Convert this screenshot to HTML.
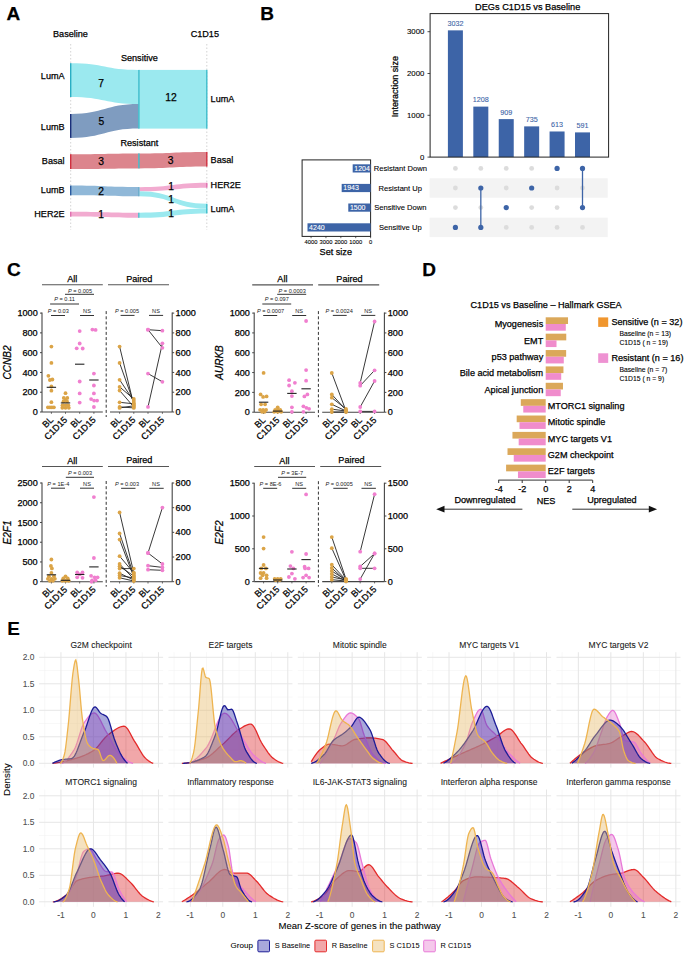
<!DOCTYPE html>
<html><head><meta charset="utf-8"><style>
html,body{margin:0;padding:0;background:#fff;}
svg{display:block;font-family:"Liberation Sans", sans-serif;}
</style></head><body>
<svg width="685" height="957" viewBox="0 0 685 957">
<rect width="685" height="957" fill="#fff"/>
<text x="6.60" y="19.50" font-size="19" text-anchor="start" fill="#000" stroke="#000" stroke-width="0.25" font-weight="bold">A</text>
<text x="70.50" y="36.73" font-size="9.1" text-anchor="middle" fill="#000" stroke="#000" stroke-width="0.25">Baseline</text>
<text x="204.80" y="37.13" font-size="9.1" text-anchor="middle" fill="#000" stroke="#000" stroke-width="0.25">C1D15</text>
<line x1="70.70" y1="44.00" x2="70.70" y2="230.00" stroke="#c8c8c8" stroke-width="0.8" stroke-dasharray="1.5,2"/>
<line x1="206.80" y1="44.00" x2="206.80" y2="230.00" stroke="#c8c8c8" stroke-width="0.8" stroke-dasharray="1.5,2"/>
<text x="139.40" y="61.43" font-size="9.1" text-anchor="middle" fill="#000" stroke="#000" stroke-width="0.25">Sensitive</text>
<text x="139.40" y="146.33" font-size="9.1" text-anchor="middle" fill="#000" stroke="#000" stroke-width="0.25">Resistant</text>
<path d="M70.70,63.20 C104.75,63.20 104.75,69.90 138.80,69.90 L138.80,104.10 C104.75,104.10 104.75,97.00 70.70,97.00 Z" fill="#9be9ef"/>
<path d="M70.70,114.00 C104.75,114.00 104.75,104.10 138.80,104.10 L138.80,128.60 C104.75,128.60 104.75,137.90 70.70,137.90 Z" fill="#7f9cc0"/>
<rect x="138.80" y="69.90" width="68.00" height="58.70" fill="#9be9ef"/>
<rect x="138.20" y="69.90" width="1.40" height="58.70" fill="#3cbccb"/>
<rect x="70.00" y="63.20" width="1.40" height="33.80" fill="#2aaec4"/>
<rect x="70.00" y="114.00" width="1.40" height="23.90" fill="#1a2f7a"/>
<rect x="206.10" y="69.90" width="1.40" height="58.70" fill="#3cbccb"/>
<path d="M70.70,154.20 C104.75,154.20 104.75,153.40 138.80,153.40 L138.80,168.40 C104.75,168.40 104.75,169.00 70.70,169.00 Z" fill="#dc858d"/>
<path d="M138.80,153.40 C172.80,153.40 172.80,151.90 206.80,151.90 L206.80,166.60 C172.80,166.60 172.80,168.40 138.80,168.40 Z" fill="#dc858d"/>
<rect x="138.20" y="153.40" width="1.40" height="15.00" fill="#3cbccb"/>
<rect x="70.00" y="154.20" width="1.40" height="14.80" fill="#d03040"/>
<rect x="206.10" y="151.90" width="1.40" height="14.70" fill="#d03040"/>
<path d="M70.70,185.60 C104.75,185.60 104.75,187.10 138.80,187.10 L138.80,196.30 C104.75,196.30 104.75,195.30 70.70,195.30 Z" fill="#90b8d8"/>
<rect x="70.00" y="185.60" width="1.40" height="9.70" fill="#2a5aa0"/>
<path d="M70.70,211.70 C104.75,211.70 104.75,212.70 138.80,212.70 L138.80,217.80 C104.75,217.80 104.75,216.60 70.70,216.60 Z" fill="#f2abd0"/>
<rect x="70.00" y="211.70" width="1.40" height="4.90" fill="#e070b0"/>
<path d="M139.60,187.20 C173.20,187.20 173.20,182.80 206.80,182.80 L206.80,187.70 C173.20,187.70 173.20,191.30 139.60,191.30 Z" fill="#f2abd0"/>
<path d="M139.60,191.30 C173.20,191.30 173.20,203.80 206.80,203.80 L206.80,208.60 C173.20,208.60 173.20,196.30 139.60,196.30 Z" fill="#9be9ef"/>
<path d="M139.60,212.70 C173.20,212.70 173.20,208.60 206.80,208.60 L206.80,213.40 C173.20,213.40 173.20,217.80 139.60,217.80 Z" fill="#9be9ef"/>
<rect x="138.20" y="187.10" width="1.40" height="9.20" fill="#60a8c8"/>
<rect x="138.20" y="212.70" width="1.40" height="5.10" fill="#3cbccb"/>
<rect x="206.10" y="182.80" width="1.40" height="4.90" fill="#e070b0"/>
<rect x="206.10" y="203.80" width="1.40" height="9.60" fill="#3cbccb"/>
<text x="101.20" y="87.14" font-size="10.3" text-anchor="middle" fill="#000" stroke="#000" stroke-width="0.25">7</text>
<text x="101.40" y="125.14" font-size="10.3" text-anchor="middle" fill="#000" stroke="#000" stroke-width="0.25">5</text>
<text x="170.90" y="100.74" font-size="10.3" text-anchor="middle" fill="#000" stroke="#000" stroke-width="0.25">12</text>
<text x="101.00" y="165.04" font-size="10.3" text-anchor="middle" fill="#000" stroke="#000" stroke-width="0.25">3</text>
<text x="170.50" y="163.74" font-size="10.3" text-anchor="middle" fill="#000" stroke="#000" stroke-width="0.25">3</text>
<text x="101.00" y="194.54" font-size="10.3" text-anchor="middle" fill="#000" stroke="#000" stroke-width="0.25">2</text>
<text x="101.00" y="217.84" font-size="10.3" text-anchor="middle" fill="#000" stroke="#000" stroke-width="0.25">1</text>
<text x="171.00" y="190.44" font-size="10.3" text-anchor="middle" fill="#000" stroke="#000" stroke-width="0.25">1</text>
<text x="171.00" y="203.24" font-size="10.3" text-anchor="middle" fill="#000" stroke="#000" stroke-width="0.25">1</text>
<text x="171.00" y="216.94" font-size="10.3" text-anchor="middle" fill="#000" stroke="#000" stroke-width="0.25">1</text>
<text x="64.60" y="79.33" font-size="9.1" text-anchor="end" fill="#000" stroke="#000" stroke-width="0.25">LumA</text>
<text x="64.60" y="130.33" font-size="9.1" text-anchor="end" fill="#000" stroke="#000" stroke-width="0.25">LumB</text>
<text x="64.60" y="164.43" font-size="9.1" text-anchor="end" fill="#000" stroke="#000" stroke-width="0.25">Basal</text>
<text x="64.60" y="193.13" font-size="9.1" text-anchor="end" fill="#000" stroke="#000" stroke-width="0.25">LumB</text>
<text x="64.60" y="216.93" font-size="9.1" text-anchor="end" fill="#000" stroke="#000" stroke-width="0.25">HER2E</text>
<text x="210.60" y="101.63" font-size="9.1" text-anchor="start" fill="#000" stroke="#000" stroke-width="0.25">LumA</text>
<text x="210.60" y="162.53" font-size="9.1" text-anchor="start" fill="#000" stroke="#000" stroke-width="0.25">Basal</text>
<text x="210.60" y="188.43" font-size="9.1" text-anchor="start" fill="#000" stroke="#000" stroke-width="0.25">HER2E</text>
<text x="210.60" y="211.63" font-size="9.1" text-anchor="start" fill="#000" stroke="#000" stroke-width="0.25">LumA</text>
<text x="260.20" y="19.90" font-size="19" text-anchor="start" fill="#000" stroke="#000" stroke-width="0.25" font-weight="bold">B</text>
<text x="527.70" y="9.76" font-size="9.2" text-anchor="middle" fill="#000" stroke="#000" stroke-width="0.25">DEGs C1D15 vs Baseline</text>
<rect x="447.90" y="30.36" width="15.00" height="126.74" fill="#3d64a7"/>
<text x="455.40" y="25.84" font-size="7.2" text-anchor="middle" fill="#3d64a7" stroke="#3d64a7" stroke-width="0.1">3032</text>
<rect x="473.32" y="106.61" width="15.00" height="50.49" fill="#3d64a7"/>
<text x="480.82" y="102.08" font-size="7.2" text-anchor="middle" fill="#3d64a7" stroke="#3d64a7" stroke-width="0.1">1208</text>
<rect x="498.74" y="119.10" width="15.00" height="38.00" fill="#3d64a7"/>
<text x="506.24" y="114.58" font-size="7.2" text-anchor="middle" fill="#3d64a7" stroke="#3d64a7" stroke-width="0.1">909</text>
<rect x="524.16" y="126.38" width="15.00" height="30.72" fill="#3d64a7"/>
<text x="531.66" y="121.85" font-size="7.2" text-anchor="middle" fill="#3d64a7" stroke="#3d64a7" stroke-width="0.1">735</text>
<rect x="549.58" y="131.48" width="15.00" height="25.62" fill="#3d64a7"/>
<text x="557.08" y="126.95" font-size="7.2" text-anchor="middle" fill="#3d64a7" stroke="#3d64a7" stroke-width="0.1">613</text>
<rect x="575.00" y="132.40" width="15.00" height="24.70" fill="#3d64a7"/>
<text x="582.50" y="127.87" font-size="7.2" text-anchor="middle" fill="#3d64a7" stroke="#3d64a7" stroke-width="0.1">591</text>
<rect x="430.1" y="13.6" width="178.5" height="143.5" fill="none" stroke="#222" stroke-width="1"/>
<line x1="427.50" y1="157.10" x2="430.10" y2="157.10" stroke="#222" stroke-width="0.8"/>
<text x="424.40" y="159.78" font-size="7.8" text-anchor="end" fill="#000" stroke="#000" stroke-width="0.1">0</text>
<line x1="427.50" y1="115.30" x2="430.10" y2="115.30" stroke="#222" stroke-width="0.8"/>
<text x="424.40" y="117.98" font-size="7.8" text-anchor="end" fill="#000" stroke="#000" stroke-width="0.1">1000</text>
<line x1="427.50" y1="73.50" x2="430.10" y2="73.50" stroke="#222" stroke-width="0.8"/>
<text x="424.40" y="76.18" font-size="7.8" text-anchor="end" fill="#000" stroke="#000" stroke-width="0.1">2000</text>
<line x1="427.50" y1="31.70" x2="430.10" y2="31.70" stroke="#222" stroke-width="0.8"/>
<text x="424.40" y="34.38" font-size="7.8" text-anchor="end" fill="#000" stroke="#000" stroke-width="0.1">3000</text>
<text x="0" y="0" stroke="#000" stroke-width="0.25" font-size="9.1" text-anchor="middle" transform="translate(398.1 86.6) rotate(-90)">Interaction size</text>
<rect x="429.60" y="178.25" width="178.10" height="19.50" fill="#f3f3f3"/>
<rect x="429.60" y="217.65" width="178.10" height="19.50" fill="#f3f3f3"/>
<circle cx="455.40" cy="168.40" r="2.4" fill="#dcdcdc"/>
<circle cx="455.40" cy="188.00" r="2.4" fill="#dcdcdc"/>
<circle cx="455.40" cy="207.60" r="2.4" fill="#dcdcdc"/>
<circle cx="455.40" cy="227.40" r="2.6" fill="#3d64a7"/>
<circle cx="480.82" cy="168.40" r="2.4" fill="#dcdcdc"/>
<circle cx="480.82" cy="207.60" r="2.4" fill="#dcdcdc"/>
<line x1="480.82" y1="188.00" x2="480.82" y2="227.40" stroke="#3d64a7" stroke-width="1.3"/>
<circle cx="480.82" cy="188.00" r="2.6" fill="#3d64a7"/>
<circle cx="480.82" cy="227.40" r="2.6" fill="#3d64a7"/>
<circle cx="506.24" cy="168.40" r="2.4" fill="#dcdcdc"/>
<circle cx="506.24" cy="188.00" r="2.4" fill="#dcdcdc"/>
<circle cx="506.24" cy="227.40" r="2.4" fill="#dcdcdc"/>
<circle cx="506.24" cy="207.60" r="2.6" fill="#3d64a7"/>
<circle cx="531.66" cy="168.40" r="2.4" fill="#dcdcdc"/>
<circle cx="531.66" cy="207.60" r="2.4" fill="#dcdcdc"/>
<circle cx="531.66" cy="227.40" r="2.4" fill="#dcdcdc"/>
<circle cx="531.66" cy="188.00" r="2.6" fill="#3d64a7"/>
<circle cx="557.08" cy="188.00" r="2.4" fill="#dcdcdc"/>
<circle cx="557.08" cy="207.60" r="2.4" fill="#dcdcdc"/>
<circle cx="557.08" cy="227.40" r="2.4" fill="#dcdcdc"/>
<circle cx="557.08" cy="168.40" r="2.6" fill="#3d64a7"/>
<circle cx="582.50" cy="188.00" r="2.4" fill="#dcdcdc"/>
<circle cx="582.50" cy="227.40" r="2.4" fill="#dcdcdc"/>
<line x1="582.50" y1="168.40" x2="582.50" y2="207.60" stroke="#3d64a7" stroke-width="1.3"/>
<circle cx="582.50" cy="168.40" r="2.6" fill="#3d64a7"/>
<circle cx="582.50" cy="207.60" r="2.6" fill="#3d64a7"/>
<text x="400.30" y="171.01" font-size="7.6" text-anchor="middle" fill="#000" stroke="#000" stroke-width="0.1">Resistant Down</text>
<text x="400.30" y="190.61" font-size="7.6" text-anchor="middle" fill="#000" stroke="#000" stroke-width="0.1">Resistant Up</text>
<text x="400.30" y="210.21" font-size="7.6" text-anchor="middle" fill="#000" stroke="#000" stroke-width="0.1">Sensitive Down</text>
<text x="400.30" y="230.01" font-size="7.6" text-anchor="middle" fill="#000" stroke="#000" stroke-width="0.1">Sensitive Up</text>
<rect x="302.1" y="159.9" width="68.5" height="76.5" fill="none" stroke="#222" stroke-width="1"/>
<rect x="352.68" y="164.30" width="17.92" height="8.20" fill="#3d64a7"/>
<text x="354.28" y="170.81" font-size="7.0" text-anchor="start" fill="#fff" stroke="#fff" stroke-width="0.1">1204</text>
<rect x="341.68" y="183.90" width="28.92" height="8.20" fill="#3d64a7"/>
<text x="343.28" y="190.41" font-size="7.0" text-anchor="start" fill="#fff" stroke="#fff" stroke-width="0.1">1943</text>
<rect x="348.28" y="203.50" width="22.32" height="8.20" fill="#3d64a7"/>
<text x="349.88" y="210.01" font-size="7.0" text-anchor="start" fill="#fff" stroke="#fff" stroke-width="0.1">1500</text>
<rect x="307.50" y="223.30" width="63.10" height="8.20" fill="#3d64a7"/>
<text x="309.10" y="229.81" font-size="7.0" text-anchor="start" fill="#fff" stroke="#fff" stroke-width="0.1">4240</text>
<line x1="370.60" y1="236.40" x2="370.60" y2="238.20" stroke="#222" stroke-width="0.7"/>
<text x="370.60" y="243.60" font-size="5.8" text-anchor="middle" fill="#000" stroke="#000" stroke-width="0.1">0</text>
<line x1="355.72" y1="236.40" x2="355.72" y2="238.20" stroke="#222" stroke-width="0.7"/>
<text x="355.72" y="243.60" font-size="5.8" text-anchor="middle" fill="#000" stroke="#000" stroke-width="0.1">1000</text>
<line x1="340.84" y1="236.40" x2="340.84" y2="238.20" stroke="#222" stroke-width="0.7"/>
<text x="340.84" y="243.60" font-size="5.8" text-anchor="middle" fill="#000" stroke="#000" stroke-width="0.1">2000</text>
<line x1="325.95" y1="236.40" x2="325.95" y2="238.20" stroke="#222" stroke-width="0.7"/>
<text x="325.95" y="243.60" font-size="5.8" text-anchor="middle" fill="#000" stroke="#000" stroke-width="0.1">3000</text>
<line x1="311.07" y1="236.40" x2="311.07" y2="238.20" stroke="#222" stroke-width="0.7"/>
<text x="311.07" y="243.60" font-size="5.8" text-anchor="middle" fill="#000" stroke="#000" stroke-width="0.1">4000</text>
<text x="335.80" y="254.83" font-size="9.1" text-anchor="middle" fill="#000" stroke="#000" stroke-width="0.25">Set size</text>
<text x="6.90" y="276.40" font-size="19" text-anchor="start" fill="#000" stroke="#000" stroke-width="0.25" font-weight="bold">C</text>
<text x="72.20" y="282.23" font-size="9.1" text-anchor="middle" fill="#000" stroke="#000" stroke-width="0.25">All</text>
<line x1="42.00" y1="284.70" x2="102.80" y2="284.70" stroke="#555" stroke-width="1.1"/>
<text x="139.30" y="281.63" font-size="9.1" text-anchor="middle" fill="#000" stroke="#000" stroke-width="0.25">Paired</text>
<line x1="108.00" y1="284.70" x2="169.00" y2="284.70" stroke="#555" stroke-width="1.1"/>
<line x1="42.00" y1="312.60" x2="42.00" y2="412.00" stroke="#444" stroke-width="1.1"/>
<line x1="40.00" y1="412.00" x2="42.00" y2="412.00" stroke="#444" stroke-width="1"/>
<text x="37.70" y="415.13" font-size="9.1" text-anchor="end" fill="#000" stroke="#000" stroke-width="0.25">0</text>
<line x1="40.00" y1="392.22" x2="42.00" y2="392.22" stroke="#444" stroke-width="1"/>
<text x="37.70" y="395.35" font-size="9.1" text-anchor="end" fill="#000" stroke="#000" stroke-width="0.25">200</text>
<line x1="40.00" y1="372.44" x2="42.00" y2="372.44" stroke="#444" stroke-width="1"/>
<text x="37.70" y="375.57" font-size="9.1" text-anchor="end" fill="#000" stroke="#000" stroke-width="0.25">400</text>
<line x1="40.00" y1="352.66" x2="42.00" y2="352.66" stroke="#444" stroke-width="1"/>
<text x="37.70" y="355.79" font-size="9.1" text-anchor="end" fill="#000" stroke="#000" stroke-width="0.25">600</text>
<line x1="40.00" y1="332.88" x2="42.00" y2="332.88" stroke="#444" stroke-width="1"/>
<text x="37.70" y="336.01" font-size="9.1" text-anchor="end" fill="#000" stroke="#000" stroke-width="0.25">800</text>
<line x1="40.00" y1="313.10" x2="42.00" y2="313.10" stroke="#444" stroke-width="1"/>
<text x="37.70" y="316.23" font-size="9.1" text-anchor="end" fill="#000" stroke="#000" stroke-width="0.25">1000</text>
<line x1="42.00" y1="412.00" x2="102.80" y2="412.00" stroke="#444" stroke-width="1.1"/>
<line x1="51.40" y1="412.00" x2="51.40" y2="413.80" stroke="#444" stroke-width="0.8"/>
<line x1="65.50" y1="412.00" x2="65.50" y2="413.80" stroke="#444" stroke-width="0.8"/>
<line x1="79.70" y1="412.00" x2="79.70" y2="413.80" stroke="#444" stroke-width="0.8"/>
<line x1="93.90" y1="412.00" x2="93.90" y2="413.80" stroke="#444" stroke-width="0.8"/>
<line x1="119.60" y1="412.00" x2="119.60" y2="413.80" stroke="#444" stroke-width="0.8"/>
<line x1="133.80" y1="412.00" x2="133.80" y2="413.80" stroke="#444" stroke-width="0.8"/>
<line x1="148.00" y1="412.00" x2="148.00" y2="413.80" stroke="#444" stroke-width="0.8"/>
<line x1="162.40" y1="412.00" x2="162.40" y2="413.80" stroke="#444" stroke-width="0.8"/>
<line x1="106.20" y1="311.10" x2="106.20" y2="417.00" stroke="#333" stroke-width="1.0" stroke-dasharray="3,2.2"/>
<line x1="172.20" y1="312.60" x2="172.20" y2="412.00" stroke="#444" stroke-width="1.1"/>
<line x1="110.00" y1="412.00" x2="172.20" y2="412.00" stroke="#444" stroke-width="1.1"/>
<line x1="172.20" y1="412.00" x2="174.20" y2="412.00" stroke="#444" stroke-width="1"/>
<text x="175.60" y="415.13" font-size="9.1" text-anchor="start" fill="#000" stroke="#000" stroke-width="0.25">0</text>
<line x1="172.20" y1="392.22" x2="174.20" y2="392.22" stroke="#444" stroke-width="1"/>
<text x="175.60" y="395.35" font-size="9.1" text-anchor="start" fill="#000" stroke="#000" stroke-width="0.25">200</text>
<line x1="172.20" y1="372.44" x2="174.20" y2="372.44" stroke="#444" stroke-width="1"/>
<text x="175.60" y="375.57" font-size="9.1" text-anchor="start" fill="#000" stroke="#000" stroke-width="0.25">400</text>
<line x1="172.20" y1="352.66" x2="174.20" y2="352.66" stroke="#444" stroke-width="1"/>
<text x="175.60" y="355.79" font-size="9.1" text-anchor="start" fill="#000" stroke="#000" stroke-width="0.25">600</text>
<line x1="172.20" y1="332.88" x2="174.20" y2="332.88" stroke="#444" stroke-width="1"/>
<text x="175.60" y="336.01" font-size="9.1" text-anchor="start" fill="#000" stroke="#000" stroke-width="0.25">800</text>
<line x1="172.20" y1="313.10" x2="174.20" y2="313.10" stroke="#444" stroke-width="1"/>
<text x="175.60" y="316.23" font-size="9.1" text-anchor="start" fill="#000" stroke="#000" stroke-width="0.25">1000</text>
<text x="0" y="0" stroke="#000" stroke-width="0.25" font-size="10" font-style="italic" text-anchor="middle" transform="translate(10.70 362.50) rotate(-90)">CCNB2</text>
<line x1="51.00" y1="315.50" x2="65.00" y2="315.50" stroke="#333" stroke-width="1.0"/>
<line x1="80.00" y1="315.50" x2="94.00" y2="315.50" stroke="#333" stroke-width="1.0"/>
<line x1="50.10" y1="304.00" x2="79.00" y2="304.00" stroke="#333" stroke-width="1.0"/>
<line x1="65.00" y1="294.30" x2="94.00" y2="294.30" stroke="#333" stroke-width="1.0"/>
<line x1="120.60" y1="315.40" x2="134.50" y2="315.40" stroke="#333" stroke-width="1.0"/>
<line x1="149.00" y1="315.40" x2="163.10" y2="315.40" stroke="#333" stroke-width="1.0"/>
<text x="58.30" y="313.13" font-size="5.6" fill="#222" text-anchor="middle"><tspan font-style="italic">P</tspan> = 0.03</text>
<text x="87.00" y="313.13" font-size="5.6" fill="#222" text-anchor="middle">NS</text>
<text x="64.50" y="301.23" font-size="5.6" fill="#222" text-anchor="middle"><tspan font-style="italic">P</tspan> = 0.11</text>
<text x="80.00" y="292.53" font-size="5.6" fill="#222" text-anchor="middle"><tspan font-style="italic">P</tspan> = 0.005</text>
<text x="127.00" y="313.13" font-size="5.6" fill="#222" text-anchor="middle"><tspan font-style="italic">P</tspan> = 0.005</text>
<text x="156.00" y="313.13" font-size="5.6" fill="#222" text-anchor="middle">NS</text>
<circle cx="51.40" cy="346.60" r="1.9" fill="#dba447"/>
<circle cx="51.40" cy="362.90" r="1.9" fill="#dba447"/>
<circle cx="48.40" cy="375.80" r="1.9" fill="#dba447"/>
<circle cx="49.90" cy="380.00" r="1.9" fill="#dba447"/>
<circle cx="52.40" cy="379.50" r="1.9" fill="#dba447"/>
<circle cx="51.40" cy="386.50" r="1.9" fill="#dba447"/>
<circle cx="51.40" cy="390.70" r="1.9" fill="#dba447"/>
<circle cx="51.40" cy="402.20" r="1.9" fill="#dba447"/>
<circle cx="47.90" cy="407.30" r="1.9" fill="#dba447"/>
<circle cx="49.90" cy="407.30" r="1.9" fill="#dba447"/>
<circle cx="51.90" cy="407.30" r="1.9" fill="#dba447"/>
<circle cx="53.90" cy="407.30" r="1.9" fill="#dba447"/>
<circle cx="65.50" cy="393.20" r="1.9" fill="#dba447"/>
<circle cx="63.80" cy="397.90" r="1.9" fill="#dba447"/>
<circle cx="67.30" cy="397.90" r="1.9" fill="#dba447"/>
<circle cx="65.50" cy="400.00" r="1.9" fill="#dba447"/>
<circle cx="63.50" cy="401.50" r="1.9" fill="#dba447"/>
<circle cx="67.00" cy="401.50" r="1.9" fill="#dba447"/>
<circle cx="62.50" cy="405.30" r="1.9" fill="#dba447"/>
<circle cx="65.50" cy="405.30" r="1.9" fill="#dba447"/>
<circle cx="68.30" cy="405.30" r="1.9" fill="#dba447"/>
<circle cx="62.30" cy="407.80" r="1.9" fill="#dba447"/>
<circle cx="65.50" cy="407.80" r="1.9" fill="#dba447"/>
<circle cx="68.80" cy="407.80" r="1.9" fill="#dba447"/>
<circle cx="79.70" cy="331.10" r="1.9" fill="#f07fcf"/>
<circle cx="79.70" cy="343.50" r="1.9" fill="#f07fcf"/>
<circle cx="76.70" cy="348.30" r="1.9" fill="#f07fcf"/>
<circle cx="82.70" cy="348.50" r="1.9" fill="#f07fcf"/>
<circle cx="79.70" cy="381.50" r="1.9" fill="#f07fcf"/>
<circle cx="79.70" cy="393.40" r="1.9" fill="#f07fcf"/>
<circle cx="79.70" cy="402.60" r="1.9" fill="#f07fcf"/>
<circle cx="92.40" cy="329.60" r="1.9" fill="#f07fcf"/>
<circle cx="95.60" cy="329.90" r="1.9" fill="#f07fcf"/>
<circle cx="93.90" cy="373.60" r="1.9" fill="#f07fcf"/>
<circle cx="93.90" cy="385.50" r="1.9" fill="#f07fcf"/>
<circle cx="93.90" cy="393.40" r="1.9" fill="#f07fcf"/>
<circle cx="91.10" cy="399.10" r="1.9" fill="#f07fcf"/>
<circle cx="94.10" cy="400.60" r="1.9" fill="#f07fcf"/>
<circle cx="97.10" cy="400.60" r="1.9" fill="#f07fcf"/>
<circle cx="93.90" cy="407.00" r="1.9" fill="#f07fcf"/>
<line x1="46.70" y1="387.30" x2="56.10" y2="387.30" stroke="#222" stroke-width="1.1"/>
<line x1="60.80" y1="402.90" x2="70.20" y2="402.90" stroke="#222" stroke-width="1.1"/>
<line x1="75.00" y1="364.20" x2="84.40" y2="364.20" stroke="#222" stroke-width="1.1"/>
<line x1="89.20" y1="380.00" x2="98.60" y2="380.00" stroke="#222" stroke-width="1.1"/>
<line x1="119.60" y1="346.60" x2="133.80" y2="405.00" stroke="#222" stroke-width="0.9"/>
<line x1="119.60" y1="362.90" x2="133.80" y2="403.00" stroke="#222" stroke-width="0.9"/>
<line x1="119.60" y1="379.80" x2="133.80" y2="401.00" stroke="#222" stroke-width="0.9"/>
<line x1="119.60" y1="386.90" x2="133.80" y2="399.00" stroke="#222" stroke-width="0.9"/>
<line x1="119.60" y1="390.50" x2="133.80" y2="407.00" stroke="#222" stroke-width="0.9"/>
<line x1="119.60" y1="402.30" x2="133.80" y2="403.80" stroke="#222" stroke-width="0.9"/>
<line x1="119.60" y1="406.90" x2="133.80" y2="407.90" stroke="#222" stroke-width="0.9"/>
<line x1="119.60" y1="407.90" x2="133.80" y2="405.80" stroke="#222" stroke-width="0.9"/>
<circle cx="119.60" cy="346.60" r="1.9" fill="#dba447"/>
<circle cx="133.80" cy="405.00" r="1.9" fill="#dba447"/>
<circle cx="119.60" cy="362.90" r="1.9" fill="#dba447"/>
<circle cx="133.80" cy="403.00" r="1.9" fill="#dba447"/>
<circle cx="119.60" cy="379.80" r="1.9" fill="#dba447"/>
<circle cx="133.80" cy="401.00" r="1.9" fill="#dba447"/>
<circle cx="119.60" cy="386.90" r="1.9" fill="#dba447"/>
<circle cx="133.80" cy="399.00" r="1.9" fill="#dba447"/>
<circle cx="119.60" cy="390.50" r="1.9" fill="#dba447"/>
<circle cx="133.80" cy="407.00" r="1.9" fill="#dba447"/>
<circle cx="119.60" cy="402.30" r="1.9" fill="#dba447"/>
<circle cx="133.80" cy="403.80" r="1.9" fill="#dba447"/>
<circle cx="119.60" cy="406.90" r="1.9" fill="#dba447"/>
<circle cx="133.80" cy="407.90" r="1.9" fill="#dba447"/>
<circle cx="119.60" cy="407.90" r="1.9" fill="#dba447"/>
<circle cx="133.80" cy="405.80" r="1.9" fill="#dba447"/>
<line x1="148.00" y1="329.70" x2="162.40" y2="330.70" stroke="#222" stroke-width="0.9"/>
<line x1="148.00" y1="329.70" x2="162.40" y2="347.80" stroke="#222" stroke-width="0.9"/>
<line x1="148.00" y1="406.90" x2="162.40" y2="343.30" stroke="#222" stroke-width="0.9"/>
<line x1="148.00" y1="373.60" x2="162.40" y2="381.80" stroke="#222" stroke-width="0.9"/>
<circle cx="148.00" cy="329.70" r="1.9" fill="#f07fcf"/>
<circle cx="162.40" cy="330.70" r="1.9" fill="#f07fcf"/>
<circle cx="148.00" cy="329.70" r="1.9" fill="#f07fcf"/>
<circle cx="162.40" cy="347.80" r="1.9" fill="#f07fcf"/>
<circle cx="148.00" cy="406.90" r="1.9" fill="#f07fcf"/>
<circle cx="162.40" cy="343.30" r="1.9" fill="#f07fcf"/>
<circle cx="148.00" cy="373.60" r="1.9" fill="#f07fcf"/>
<circle cx="162.40" cy="381.80" r="1.9" fill="#f07fcf"/>
<text x="0" y="0" stroke="#000" stroke-width="0.25" font-size="9.1" text-anchor="end" transform="translate(53.80 420.40) rotate(-45)">BL</text>
<text x="0" y="0" stroke="#000" stroke-width="0.25" font-size="9.1" text-anchor="end" transform="translate(67.90 420.40) rotate(-45)">C1D15</text>
<text x="0" y="0" stroke="#000" stroke-width="0.25" font-size="9.1" text-anchor="end" transform="translate(82.10 420.40) rotate(-45)">BL</text>
<text x="0" y="0" stroke="#000" stroke-width="0.25" font-size="9.1" text-anchor="end" transform="translate(96.30 420.40) rotate(-45)">C1D15</text>
<text x="0" y="0" stroke="#000" stroke-width="0.25" font-size="9.1" text-anchor="end" transform="translate(122.00 420.40) rotate(-45)">BL</text>
<text x="0" y="0" stroke="#000" stroke-width="0.25" font-size="9.1" text-anchor="end" transform="translate(136.20 420.40) rotate(-45)">C1D15</text>
<text x="0" y="0" stroke="#000" stroke-width="0.25" font-size="9.1" text-anchor="end" transform="translate(150.40 420.40) rotate(-45)">BL</text>
<text x="0" y="0" stroke="#000" stroke-width="0.25" font-size="9.1" text-anchor="end" transform="translate(164.80 420.40) rotate(-45)">C1D15</text>
<text x="282.40" y="282.43" font-size="9.1" text-anchor="middle" fill="#000" stroke="#000" stroke-width="0.25">All</text>
<line x1="252.20" y1="284.90" x2="313.00" y2="284.90" stroke="#555" stroke-width="1.1"/>
<text x="349.50" y="281.83" font-size="9.1" text-anchor="middle" fill="#000" stroke="#000" stroke-width="0.25">Paired</text>
<line x1="318.20" y1="284.90" x2="379.20" y2="284.90" stroke="#555" stroke-width="1.1"/>
<line x1="254.20" y1="312.60" x2="254.20" y2="412.20" stroke="#444" stroke-width="1.1"/>
<line x1="252.20" y1="412.20" x2="254.20" y2="412.20" stroke="#444" stroke-width="1"/>
<text x="249.90" y="415.33" font-size="9.1" text-anchor="end" fill="#000" stroke="#000" stroke-width="0.25">0</text>
<line x1="252.20" y1="392.38" x2="254.20" y2="392.38" stroke="#444" stroke-width="1"/>
<text x="249.90" y="395.51" font-size="9.1" text-anchor="end" fill="#000" stroke="#000" stroke-width="0.25">200</text>
<line x1="252.20" y1="372.56" x2="254.20" y2="372.56" stroke="#444" stroke-width="1"/>
<text x="249.90" y="375.69" font-size="9.1" text-anchor="end" fill="#000" stroke="#000" stroke-width="0.25">400</text>
<line x1="252.20" y1="352.74" x2="254.20" y2="352.74" stroke="#444" stroke-width="1"/>
<text x="249.90" y="355.87" font-size="9.1" text-anchor="end" fill="#000" stroke="#000" stroke-width="0.25">600</text>
<line x1="252.20" y1="332.92" x2="254.20" y2="332.92" stroke="#444" stroke-width="1"/>
<text x="249.90" y="336.05" font-size="9.1" text-anchor="end" fill="#000" stroke="#000" stroke-width="0.25">800</text>
<line x1="252.20" y1="313.10" x2="254.20" y2="313.10" stroke="#444" stroke-width="1"/>
<text x="249.90" y="316.23" font-size="9.1" text-anchor="end" fill="#000" stroke="#000" stroke-width="0.25">1000</text>
<line x1="254.20" y1="412.20" x2="315.00" y2="412.20" stroke="#444" stroke-width="1.1"/>
<line x1="263.60" y1="412.20" x2="263.60" y2="414.00" stroke="#444" stroke-width="0.8"/>
<line x1="277.70" y1="412.20" x2="277.70" y2="414.00" stroke="#444" stroke-width="0.8"/>
<line x1="291.90" y1="412.20" x2="291.90" y2="414.00" stroke="#444" stroke-width="0.8"/>
<line x1="306.10" y1="412.20" x2="306.10" y2="414.00" stroke="#444" stroke-width="0.8"/>
<line x1="331.80" y1="412.20" x2="331.80" y2="414.00" stroke="#444" stroke-width="0.8"/>
<line x1="346.00" y1="412.20" x2="346.00" y2="414.00" stroke="#444" stroke-width="0.8"/>
<line x1="360.20" y1="412.20" x2="360.20" y2="414.00" stroke="#444" stroke-width="0.8"/>
<line x1="374.60" y1="412.20" x2="374.60" y2="414.00" stroke="#444" stroke-width="0.8"/>
<line x1="318.40" y1="311.10" x2="318.40" y2="417.20" stroke="#333" stroke-width="1.0" stroke-dasharray="3,2.2"/>
<line x1="384.40" y1="312.60" x2="384.40" y2="412.20" stroke="#444" stroke-width="1.1"/>
<line x1="322.20" y1="412.20" x2="384.40" y2="412.20" stroke="#444" stroke-width="1.1"/>
<line x1="384.40" y1="412.20" x2="386.40" y2="412.20" stroke="#444" stroke-width="1"/>
<text x="387.80" y="415.33" font-size="9.1" text-anchor="start" fill="#000" stroke="#000" stroke-width="0.25">0</text>
<line x1="384.40" y1="392.38" x2="386.40" y2="392.38" stroke="#444" stroke-width="1"/>
<text x="387.80" y="395.51" font-size="9.1" text-anchor="start" fill="#000" stroke="#000" stroke-width="0.25">200</text>
<line x1="384.40" y1="372.56" x2="386.40" y2="372.56" stroke="#444" stroke-width="1"/>
<text x="387.80" y="375.69" font-size="9.1" text-anchor="start" fill="#000" stroke="#000" stroke-width="0.25">400</text>
<line x1="384.40" y1="352.74" x2="386.40" y2="352.74" stroke="#444" stroke-width="1"/>
<text x="387.80" y="355.87" font-size="9.1" text-anchor="start" fill="#000" stroke="#000" stroke-width="0.25">600</text>
<line x1="384.40" y1="332.92" x2="386.40" y2="332.92" stroke="#444" stroke-width="1"/>
<text x="387.80" y="336.05" font-size="9.1" text-anchor="start" fill="#000" stroke="#000" stroke-width="0.25">800</text>
<line x1="384.40" y1="313.10" x2="386.40" y2="313.10" stroke="#444" stroke-width="1"/>
<text x="387.80" y="316.23" font-size="9.1" text-anchor="start" fill="#000" stroke="#000" stroke-width="0.25">1000</text>
<text x="0" y="0" stroke="#000" stroke-width="0.25" font-size="10" font-style="italic" text-anchor="middle" transform="translate(222.90 362.50) rotate(-90)">AURKB</text>
<line x1="263.20" y1="315.50" x2="277.20" y2="315.50" stroke="#333" stroke-width="1.0"/>
<line x1="292.20" y1="315.50" x2="306.20" y2="315.50" stroke="#333" stroke-width="1.0"/>
<line x1="262.30" y1="304.00" x2="291.20" y2="304.00" stroke="#333" stroke-width="1.0"/>
<line x1="277.20" y1="294.30" x2="306.20" y2="294.30" stroke="#333" stroke-width="1.0"/>
<line x1="332.80" y1="315.40" x2="346.70" y2="315.40" stroke="#333" stroke-width="1.0"/>
<line x1="361.20" y1="315.40" x2="375.30" y2="315.40" stroke="#333" stroke-width="1.0"/>
<text x="270.50" y="313.13" font-size="5.6" fill="#222" text-anchor="middle"><tspan font-style="italic">P</tspan> = 0.0007</text>
<text x="299.20" y="313.13" font-size="5.6" fill="#222" text-anchor="middle">NS</text>
<text x="276.70" y="301.23" font-size="5.6" fill="#222" text-anchor="middle"><tspan font-style="italic">P</tspan> = 0.097</text>
<text x="292.20" y="292.53" font-size="5.6" fill="#222" text-anchor="middle"><tspan font-style="italic">P</tspan> = 0.0003</text>
<text x="339.20" y="313.13" font-size="5.6" fill="#222" text-anchor="middle"><tspan font-style="italic">P</tspan> = 0.0024</text>
<text x="368.20" y="313.13" font-size="5.6" fill="#222" text-anchor="middle">NS</text>
<circle cx="263.60" cy="372.90" r="1.9" fill="#dba447"/>
<circle cx="260.60" cy="394.40" r="1.9" fill="#dba447"/>
<circle cx="263.10" cy="396.90" r="1.9" fill="#dba447"/>
<circle cx="266.60" cy="396.40" r="1.9" fill="#dba447"/>
<circle cx="261.10" cy="404.30" r="1.9" fill="#dba447"/>
<circle cx="265.10" cy="404.30" r="1.9" fill="#dba447"/>
<circle cx="260.10" cy="409.80" r="1.9" fill="#dba447"/>
<circle cx="263.10" cy="409.80" r="1.9" fill="#dba447"/>
<circle cx="266.10" cy="409.80" r="1.9" fill="#dba447"/>
<circle cx="262.10" cy="411.80" r="1.9" fill="#dba447"/>
<circle cx="264.60" cy="411.80" r="1.9" fill="#dba447"/>
<circle cx="277.70" cy="407.30" r="1.9" fill="#dba447"/>
<circle cx="275.20" cy="409.80" r="1.9" fill="#dba447"/>
<circle cx="277.70" cy="409.80" r="1.9" fill="#dba447"/>
<circle cx="280.20" cy="409.80" r="1.9" fill="#dba447"/>
<circle cx="274.20" cy="411.80" r="1.9" fill="#dba447"/>
<circle cx="277.70" cy="411.80" r="1.9" fill="#dba447"/>
<circle cx="281.20" cy="411.80" r="1.9" fill="#dba447"/>
<circle cx="289.10" cy="380.20" r="1.9" fill="#f07fcf"/>
<circle cx="294.90" cy="382.80" r="1.9" fill="#f07fcf"/>
<circle cx="289.10" cy="385.50" r="1.9" fill="#f07fcf"/>
<circle cx="291.90" cy="391.20" r="1.9" fill="#f07fcf"/>
<circle cx="291.90" cy="396.10" r="1.9" fill="#f07fcf"/>
<circle cx="291.90" cy="407.30" r="1.9" fill="#f07fcf"/>
<circle cx="291.90" cy="411.80" r="1.9" fill="#f07fcf"/>
<circle cx="306.10" cy="321.00" r="1.9" fill="#f07fcf"/>
<circle cx="306.10" cy="370.10" r="1.9" fill="#f07fcf"/>
<circle cx="306.10" cy="380.70" r="1.9" fill="#f07fcf"/>
<circle cx="307.40" cy="394.40" r="1.9" fill="#f07fcf"/>
<circle cx="304.40" cy="396.40" r="1.9" fill="#f07fcf"/>
<circle cx="303.40" cy="406.30" r="1.9" fill="#f07fcf"/>
<circle cx="306.40" cy="407.80" r="1.9" fill="#f07fcf"/>
<circle cx="309.10" cy="408.80" r="1.9" fill="#f07fcf"/>
<circle cx="303.40" cy="411.80" r="1.9" fill="#f07fcf"/>
<line x1="258.90" y1="402.20" x2="268.30" y2="402.20" stroke="#222" stroke-width="1.1"/>
<line x1="273.00" y1="411.10" x2="282.40" y2="411.10" stroke="#222" stroke-width="1.1"/>
<line x1="287.20" y1="393.40" x2="296.60" y2="393.40" stroke="#222" stroke-width="1.1"/>
<line x1="301.40" y1="388.80" x2="310.80" y2="388.80" stroke="#222" stroke-width="1.1"/>
<line x1="331.80" y1="373.00" x2="346.00" y2="411.00" stroke="#222" stroke-width="0.9"/>
<line x1="331.80" y1="394.40" x2="346.00" y2="410.00" stroke="#222" stroke-width="0.9"/>
<line x1="331.80" y1="397.70" x2="346.00" y2="409.00" stroke="#222" stroke-width="0.9"/>
<line x1="331.80" y1="404.30" x2="346.00" y2="411.00" stroke="#222" stroke-width="0.9"/>
<line x1="331.80" y1="409.20" x2="346.00" y2="411.00" stroke="#222" stroke-width="0.9"/>
<line x1="331.80" y1="412.00" x2="346.00" y2="412.00" stroke="#222" stroke-width="0.9"/>
<circle cx="331.80" cy="373.00" r="1.9" fill="#dba447"/>
<circle cx="346.00" cy="411.00" r="1.9" fill="#dba447"/>
<circle cx="331.80" cy="394.40" r="1.9" fill="#dba447"/>
<circle cx="346.00" cy="410.00" r="1.9" fill="#dba447"/>
<circle cx="331.80" cy="397.70" r="1.9" fill="#dba447"/>
<circle cx="346.00" cy="409.00" r="1.9" fill="#dba447"/>
<circle cx="331.80" cy="404.30" r="1.9" fill="#dba447"/>
<circle cx="346.00" cy="411.00" r="1.9" fill="#dba447"/>
<circle cx="331.80" cy="409.20" r="1.9" fill="#dba447"/>
<circle cx="346.00" cy="411.00" r="1.9" fill="#dba447"/>
<circle cx="331.80" cy="412.00" r="1.9" fill="#dba447"/>
<circle cx="346.00" cy="412.00" r="1.9" fill="#dba447"/>
<line x1="360.20" y1="382.90" x2="374.60" y2="321.50" stroke="#222" stroke-width="0.9"/>
<line x1="360.20" y1="385.70" x2="374.60" y2="370.30" stroke="#222" stroke-width="0.9"/>
<line x1="360.20" y1="407.00" x2="374.60" y2="381.00" stroke="#222" stroke-width="0.9"/>
<line x1="360.20" y1="411.40" x2="374.60" y2="411.40" stroke="#222" stroke-width="0.9"/>
<circle cx="360.20" cy="382.90" r="1.9" fill="#f07fcf"/>
<circle cx="374.60" cy="321.50" r="1.9" fill="#f07fcf"/>
<circle cx="360.20" cy="385.70" r="1.9" fill="#f07fcf"/>
<circle cx="374.60" cy="370.30" r="1.9" fill="#f07fcf"/>
<circle cx="360.20" cy="407.00" r="1.9" fill="#f07fcf"/>
<circle cx="374.60" cy="381.00" r="1.9" fill="#f07fcf"/>
<circle cx="360.20" cy="411.40" r="1.9" fill="#f07fcf"/>
<circle cx="374.60" cy="411.40" r="1.9" fill="#f07fcf"/>
<text x="0" y="0" stroke="#000" stroke-width="0.25" font-size="9.1" text-anchor="end" transform="translate(266.00 420.60) rotate(-45)">BL</text>
<text x="0" y="0" stroke="#000" stroke-width="0.25" font-size="9.1" text-anchor="end" transform="translate(280.10 420.60) rotate(-45)">C1D15</text>
<text x="0" y="0" stroke="#000" stroke-width="0.25" font-size="9.1" text-anchor="end" transform="translate(294.30 420.60) rotate(-45)">BL</text>
<text x="0" y="0" stroke="#000" stroke-width="0.25" font-size="9.1" text-anchor="end" transform="translate(308.50 420.60) rotate(-45)">C1D15</text>
<text x="0" y="0" stroke="#000" stroke-width="0.25" font-size="9.1" text-anchor="end" transform="translate(334.20 420.60) rotate(-45)">BL</text>
<text x="0" y="0" stroke="#000" stroke-width="0.25" font-size="9.1" text-anchor="end" transform="translate(348.40 420.60) rotate(-45)">C1D15</text>
<text x="0" y="0" stroke="#000" stroke-width="0.25" font-size="9.1" text-anchor="end" transform="translate(362.60 420.60) rotate(-45)">BL</text>
<text x="0" y="0" stroke="#000" stroke-width="0.25" font-size="9.1" text-anchor="end" transform="translate(377.00 420.60) rotate(-45)">C1D15</text>
<text x="72.20" y="464.03" font-size="9.1" text-anchor="middle" fill="#000" stroke="#000" stroke-width="0.25">All</text>
<line x1="42.00" y1="466.50" x2="102.80" y2="466.50" stroke="#555" stroke-width="1.1"/>
<text x="139.30" y="463.43" font-size="9.1" text-anchor="middle" fill="#000" stroke="#000" stroke-width="0.25">Paired</text>
<line x1="108.00" y1="466.50" x2="169.00" y2="466.50" stroke="#555" stroke-width="1.1"/>
<line x1="42.00" y1="482.50" x2="42.00" y2="581.70" stroke="#444" stroke-width="1.1"/>
<line x1="40.00" y1="581.70" x2="42.00" y2="581.70" stroke="#444" stroke-width="1"/>
<text x="37.70" y="584.83" font-size="9.1" text-anchor="end" fill="#000" stroke="#000" stroke-width="0.25">0</text>
<line x1="40.00" y1="561.96" x2="42.00" y2="561.96" stroke="#444" stroke-width="1"/>
<text x="37.70" y="565.09" font-size="9.1" text-anchor="end" fill="#000" stroke="#000" stroke-width="0.25">500</text>
<line x1="40.00" y1="542.22" x2="42.00" y2="542.22" stroke="#444" stroke-width="1"/>
<text x="37.70" y="545.35" font-size="9.1" text-anchor="end" fill="#000" stroke="#000" stroke-width="0.25">1000</text>
<line x1="40.00" y1="522.48" x2="42.00" y2="522.48" stroke="#444" stroke-width="1"/>
<text x="37.70" y="525.61" font-size="9.1" text-anchor="end" fill="#000" stroke="#000" stroke-width="0.25">1500</text>
<line x1="40.00" y1="502.74" x2="42.00" y2="502.74" stroke="#444" stroke-width="1"/>
<text x="37.70" y="505.87" font-size="9.1" text-anchor="end" fill="#000" stroke="#000" stroke-width="0.25">2000</text>
<line x1="40.00" y1="483.00" x2="42.00" y2="483.00" stroke="#444" stroke-width="1"/>
<text x="37.70" y="486.13" font-size="9.1" text-anchor="end" fill="#000" stroke="#000" stroke-width="0.25">2500</text>
<line x1="42.00" y1="581.70" x2="102.80" y2="581.70" stroke="#444" stroke-width="1.1"/>
<line x1="51.40" y1="581.70" x2="51.40" y2="583.50" stroke="#444" stroke-width="0.8"/>
<line x1="65.50" y1="581.70" x2="65.50" y2="583.50" stroke="#444" stroke-width="0.8"/>
<line x1="79.70" y1="581.70" x2="79.70" y2="583.50" stroke="#444" stroke-width="0.8"/>
<line x1="93.90" y1="581.70" x2="93.90" y2="583.50" stroke="#444" stroke-width="0.8"/>
<line x1="119.60" y1="581.70" x2="119.60" y2="583.50" stroke="#444" stroke-width="0.8"/>
<line x1="133.80" y1="581.70" x2="133.80" y2="583.50" stroke="#444" stroke-width="0.8"/>
<line x1="148.00" y1="581.70" x2="148.00" y2="583.50" stroke="#444" stroke-width="0.8"/>
<line x1="162.40" y1="581.70" x2="162.40" y2="583.50" stroke="#444" stroke-width="0.8"/>
<line x1="106.20" y1="481.00" x2="106.20" y2="586.70" stroke="#333" stroke-width="1.0" stroke-dasharray="3,2.2"/>
<line x1="172.20" y1="482.50" x2="172.20" y2="581.70" stroke="#444" stroke-width="1.1"/>
<line x1="110.00" y1="581.70" x2="172.20" y2="581.70" stroke="#444" stroke-width="1.1"/>
<line x1="172.20" y1="581.70" x2="174.20" y2="581.70" stroke="#444" stroke-width="1"/>
<text x="175.60" y="584.83" font-size="9.1" text-anchor="start" fill="#000" stroke="#000" stroke-width="0.25">0</text>
<line x1="172.20" y1="557.03" x2="174.20" y2="557.03" stroke="#444" stroke-width="1"/>
<text x="175.60" y="560.16" font-size="9.1" text-anchor="start" fill="#000" stroke="#000" stroke-width="0.25">200</text>
<line x1="172.20" y1="532.35" x2="174.20" y2="532.35" stroke="#444" stroke-width="1"/>
<text x="175.60" y="535.48" font-size="9.1" text-anchor="start" fill="#000" stroke="#000" stroke-width="0.25">400</text>
<line x1="172.20" y1="507.68" x2="174.20" y2="507.68" stroke="#444" stroke-width="1"/>
<text x="175.60" y="510.81" font-size="9.1" text-anchor="start" fill="#000" stroke="#000" stroke-width="0.25">600</text>
<line x1="172.20" y1="483.00" x2="174.20" y2="483.00" stroke="#444" stroke-width="1"/>
<text x="175.60" y="486.13" font-size="9.1" text-anchor="start" fill="#000" stroke="#000" stroke-width="0.25">800</text>
<text x="0" y="0" stroke="#000" stroke-width="0.25" font-size="10" font-style="italic" text-anchor="middle" transform="translate(10.70 532.50) rotate(-90)">E2F1</text>
<line x1="51.00" y1="488.20" x2="65.00" y2="488.20" stroke="#333" stroke-width="1.0"/>
<line x1="80.00" y1="488.20" x2="94.00" y2="488.20" stroke="#333" stroke-width="1.0"/>
<line x1="65.80" y1="477.30" x2="94.00" y2="477.30" stroke="#333" stroke-width="1.0"/>
<line x1="121.10" y1="488.30" x2="135.50" y2="488.30" stroke="#333" stroke-width="1.0"/>
<line x1="149.30" y1="488.30" x2="163.70" y2="488.30" stroke="#333" stroke-width="1.0"/>
<text x="58.30" y="485.93" font-size="5.6" fill="#222" text-anchor="middle"><tspan font-style="italic">P</tspan> = 1E-4</text>
<text x="87.00" y="485.93" font-size="5.6" fill="#222" text-anchor="middle">NS</text>
<text x="80.00" y="475.43" font-size="5.6" fill="#222" text-anchor="middle"><tspan font-style="italic">P</tspan> = 0.003</text>
<text x="127.00" y="485.93" font-size="5.6" fill="#222" text-anchor="middle"><tspan font-style="italic">P</tspan> = 0.003</text>
<text x="156.00" y="485.93" font-size="5.6" fill="#222" text-anchor="middle">NS</text>
<circle cx="51.40" cy="559.50" r="1.9" fill="#dba447"/>
<circle cx="50.90" cy="565.90" r="1.9" fill="#dba447"/>
<circle cx="51.90" cy="568.40" r="1.9" fill="#dba447"/>
<circle cx="51.40" cy="572.90" r="1.9" fill="#dba447"/>
<circle cx="48.90" cy="576.30" r="1.9" fill="#dba447"/>
<circle cx="53.90" cy="576.30" r="1.9" fill="#dba447"/>
<circle cx="47.90" cy="578.80" r="1.9" fill="#dba447"/>
<circle cx="51.40" cy="578.80" r="1.9" fill="#dba447"/>
<circle cx="54.90" cy="578.80" r="1.9" fill="#dba447"/>
<circle cx="49.90" cy="580.80" r="1.9" fill="#dba447"/>
<circle cx="52.90" cy="580.80" r="1.9" fill="#dba447"/>
<circle cx="65.50" cy="576.30" r="1.9" fill="#dba447"/>
<circle cx="63.30" cy="578.30" r="1.9" fill="#dba447"/>
<circle cx="67.70" cy="578.30" r="1.9" fill="#dba447"/>
<circle cx="62.30" cy="580.80" r="1.9" fill="#dba447"/>
<circle cx="65.50" cy="580.80" r="1.9" fill="#dba447"/>
<circle cx="68.70" cy="580.80" r="1.9" fill="#dba447"/>
<circle cx="77.20" cy="572.40" r="1.9" fill="#f07fcf"/>
<circle cx="82.50" cy="572.40" r="1.9" fill="#f07fcf"/>
<circle cx="77.20" cy="577.30" r="1.9" fill="#f07fcf"/>
<circle cx="82.50" cy="577.80" r="1.9" fill="#f07fcf"/>
<circle cx="79.70" cy="574.40" r="1.9" fill="#f07fcf"/>
<circle cx="93.90" cy="497.10" r="1.9" fill="#f07fcf"/>
<circle cx="93.90" cy="558.00" r="1.9" fill="#f07fcf"/>
<circle cx="91.10" cy="575.80" r="1.9" fill="#f07fcf"/>
<circle cx="94.60" cy="577.30" r="1.9" fill="#f07fcf"/>
<circle cx="97.60" cy="577.30" r="1.9" fill="#f07fcf"/>
<circle cx="92.10" cy="580.30" r="1.9" fill="#f07fcf"/>
<circle cx="95.60" cy="580.30" r="1.9" fill="#f07fcf"/>
<circle cx="91.60" cy="581.80" r="1.9" fill="#f07fcf"/>
<line x1="46.70" y1="574.80" x2="56.10" y2="574.80" stroke="#222" stroke-width="1.1"/>
<line x1="60.80" y1="580.30" x2="70.20" y2="580.30" stroke="#222" stroke-width="1.1"/>
<line x1="75.00" y1="574.50" x2="84.40" y2="574.50" stroke="#222" stroke-width="1.1"/>
<line x1="89.20" y1="566.90" x2="98.60" y2="566.90" stroke="#222" stroke-width="1.1"/>
<line x1="119.60" y1="512.40" x2="133.80" y2="573.00" stroke="#222" stroke-width="0.9"/>
<line x1="119.60" y1="533.50" x2="133.80" y2="575.00" stroke="#222" stroke-width="0.9"/>
<line x1="119.60" y1="539.60" x2="133.80" y2="577.00" stroke="#222" stroke-width="0.9"/>
<line x1="119.60" y1="556.20" x2="133.80" y2="573.00" stroke="#222" stroke-width="0.9"/>
<line x1="119.60" y1="564.00" x2="133.80" y2="579.00" stroke="#222" stroke-width="0.9"/>
<line x1="119.60" y1="566.30" x2="133.80" y2="576.00" stroke="#222" stroke-width="0.9"/>
<line x1="119.60" y1="568.60" x2="133.80" y2="568.60" stroke="#222" stroke-width="0.9"/>
<line x1="119.60" y1="573.20" x2="133.80" y2="580.00" stroke="#222" stroke-width="0.9"/>
<line x1="119.60" y1="575.50" x2="133.80" y2="578.00" stroke="#222" stroke-width="0.9"/>
<line x1="119.60" y1="577.80" x2="133.80" y2="581.00" stroke="#222" stroke-width="0.9"/>
<circle cx="119.60" cy="512.40" r="1.9" fill="#dba447"/>
<circle cx="133.80" cy="573.00" r="1.9" fill="#dba447"/>
<circle cx="119.60" cy="533.50" r="1.9" fill="#dba447"/>
<circle cx="133.80" cy="575.00" r="1.9" fill="#dba447"/>
<circle cx="119.60" cy="539.60" r="1.9" fill="#dba447"/>
<circle cx="133.80" cy="577.00" r="1.9" fill="#dba447"/>
<circle cx="119.60" cy="556.20" r="1.9" fill="#dba447"/>
<circle cx="133.80" cy="573.00" r="1.9" fill="#dba447"/>
<circle cx="119.60" cy="564.00" r="1.9" fill="#dba447"/>
<circle cx="133.80" cy="579.00" r="1.9" fill="#dba447"/>
<circle cx="119.60" cy="566.30" r="1.9" fill="#dba447"/>
<circle cx="133.80" cy="576.00" r="1.9" fill="#dba447"/>
<circle cx="119.60" cy="568.60" r="1.9" fill="#dba447"/>
<circle cx="133.80" cy="568.60" r="1.9" fill="#dba447"/>
<circle cx="119.60" cy="573.20" r="1.9" fill="#dba447"/>
<circle cx="133.80" cy="580.00" r="1.9" fill="#dba447"/>
<circle cx="119.60" cy="575.50" r="1.9" fill="#dba447"/>
<circle cx="133.80" cy="578.00" r="1.9" fill="#dba447"/>
<circle cx="119.60" cy="577.80" r="1.9" fill="#dba447"/>
<circle cx="133.80" cy="581.00" r="1.9" fill="#dba447"/>
<line x1="148.00" y1="553.00" x2="162.40" y2="507.60" stroke="#222" stroke-width="0.9"/>
<line x1="148.00" y1="553.00" x2="162.40" y2="564.00" stroke="#222" stroke-width="0.9"/>
<line x1="148.00" y1="565.70" x2="162.40" y2="567.40" stroke="#222" stroke-width="0.9"/>
<line x1="148.00" y1="569.70" x2="162.40" y2="570.30" stroke="#222" stroke-width="0.9"/>
<circle cx="148.00" cy="553.00" r="1.9" fill="#f07fcf"/>
<circle cx="162.40" cy="507.60" r="1.9" fill="#f07fcf"/>
<circle cx="148.00" cy="553.00" r="1.9" fill="#f07fcf"/>
<circle cx="162.40" cy="564.00" r="1.9" fill="#f07fcf"/>
<circle cx="148.00" cy="565.70" r="1.9" fill="#f07fcf"/>
<circle cx="162.40" cy="567.40" r="1.9" fill="#f07fcf"/>
<circle cx="148.00" cy="569.70" r="1.9" fill="#f07fcf"/>
<circle cx="162.40" cy="570.30" r="1.9" fill="#f07fcf"/>
<text x="0" y="0" stroke="#000" stroke-width="0.25" font-size="9.1" text-anchor="end" transform="translate(53.80 590.10) rotate(-45)">BL</text>
<text x="0" y="0" stroke="#000" stroke-width="0.25" font-size="9.1" text-anchor="end" transform="translate(67.90 590.10) rotate(-45)">C1D15</text>
<text x="0" y="0" stroke="#000" stroke-width="0.25" font-size="9.1" text-anchor="end" transform="translate(82.10 590.10) rotate(-45)">BL</text>
<text x="0" y="0" stroke="#000" stroke-width="0.25" font-size="9.1" text-anchor="end" transform="translate(96.30 590.10) rotate(-45)">C1D15</text>
<text x="0" y="0" stroke="#000" stroke-width="0.25" font-size="9.1" text-anchor="end" transform="translate(122.00 590.10) rotate(-45)">BL</text>
<text x="0" y="0" stroke="#000" stroke-width="0.25" font-size="9.1" text-anchor="end" transform="translate(136.20 590.10) rotate(-45)">C1D15</text>
<text x="0" y="0" stroke="#000" stroke-width="0.25" font-size="9.1" text-anchor="end" transform="translate(150.40 590.10) rotate(-45)">BL</text>
<text x="0" y="0" stroke="#000" stroke-width="0.25" font-size="9.1" text-anchor="end" transform="translate(164.80 590.10) rotate(-45)">C1D15</text>
<text x="284.40" y="464.03" font-size="9.1" text-anchor="middle" fill="#000" stroke="#000" stroke-width="0.25">All</text>
<line x1="254.20" y1="466.50" x2="315.00" y2="466.50" stroke="#555" stroke-width="1.1"/>
<text x="351.50" y="463.43" font-size="9.1" text-anchor="middle" fill="#000" stroke="#000" stroke-width="0.25">Paired</text>
<line x1="320.20" y1="466.50" x2="381.20" y2="466.50" stroke="#555" stroke-width="1.1"/>
<line x1="254.20" y1="482.70" x2="254.20" y2="581.60" stroke="#444" stroke-width="1.1"/>
<line x1="252.20" y1="581.60" x2="254.20" y2="581.60" stroke="#444" stroke-width="1"/>
<text x="249.90" y="584.73" font-size="9.1" text-anchor="end" fill="#000" stroke="#000" stroke-width="0.25">0</text>
<line x1="252.20" y1="548.80" x2="254.20" y2="548.80" stroke="#444" stroke-width="1"/>
<text x="249.90" y="551.93" font-size="9.1" text-anchor="end" fill="#000" stroke="#000" stroke-width="0.25">500</text>
<line x1="252.20" y1="516.00" x2="254.20" y2="516.00" stroke="#444" stroke-width="1"/>
<text x="249.90" y="519.13" font-size="9.1" text-anchor="end" fill="#000" stroke="#000" stroke-width="0.25">1000</text>
<line x1="252.20" y1="483.20" x2="254.20" y2="483.20" stroke="#444" stroke-width="1"/>
<text x="249.90" y="486.33" font-size="9.1" text-anchor="end" fill="#000" stroke="#000" stroke-width="0.25">1500</text>
<line x1="254.20" y1="581.60" x2="315.00" y2="581.60" stroke="#444" stroke-width="1.1"/>
<line x1="263.60" y1="581.60" x2="263.60" y2="583.40" stroke="#444" stroke-width="0.8"/>
<line x1="277.70" y1="581.60" x2="277.70" y2="583.40" stroke="#444" stroke-width="0.8"/>
<line x1="291.90" y1="581.60" x2="291.90" y2="583.40" stroke="#444" stroke-width="0.8"/>
<line x1="306.10" y1="581.60" x2="306.10" y2="583.40" stroke="#444" stroke-width="0.8"/>
<line x1="331.80" y1="581.60" x2="331.80" y2="583.40" stroke="#444" stroke-width="0.8"/>
<line x1="346.00" y1="581.60" x2="346.00" y2="583.40" stroke="#444" stroke-width="0.8"/>
<line x1="360.20" y1="581.60" x2="360.20" y2="583.40" stroke="#444" stroke-width="0.8"/>
<line x1="374.60" y1="581.60" x2="374.60" y2="583.40" stroke="#444" stroke-width="0.8"/>
<line x1="318.40" y1="481.20" x2="318.40" y2="586.60" stroke="#333" stroke-width="1.0" stroke-dasharray="3,2.2"/>
<line x1="384.40" y1="482.70" x2="384.40" y2="581.60" stroke="#444" stroke-width="1.1"/>
<line x1="322.20" y1="581.60" x2="384.40" y2="581.60" stroke="#444" stroke-width="1.1"/>
<line x1="384.40" y1="581.60" x2="386.40" y2="581.60" stroke="#444" stroke-width="1"/>
<text x="387.80" y="584.73" font-size="9.1" text-anchor="start" fill="#000" stroke="#000" stroke-width="0.25">0</text>
<line x1="384.40" y1="548.80" x2="386.40" y2="548.80" stroke="#444" stroke-width="1"/>
<text x="387.80" y="551.93" font-size="9.1" text-anchor="start" fill="#000" stroke="#000" stroke-width="0.25">500</text>
<line x1="384.40" y1="516.00" x2="386.40" y2="516.00" stroke="#444" stroke-width="1"/>
<text x="387.80" y="519.13" font-size="9.1" text-anchor="start" fill="#000" stroke="#000" stroke-width="0.25">1000</text>
<line x1="384.40" y1="483.20" x2="386.40" y2="483.20" stroke="#444" stroke-width="1"/>
<text x="387.80" y="486.33" font-size="9.1" text-anchor="start" fill="#000" stroke="#000" stroke-width="0.25">1500</text>
<text x="0" y="0" stroke="#000" stroke-width="0.25" font-size="10" font-style="italic" text-anchor="middle" transform="translate(222.90 532.50) rotate(-90)">E2F2</text>
<line x1="263.20" y1="488.30" x2="277.20" y2="488.30" stroke="#333" stroke-width="1.0"/>
<line x1="292.20" y1="488.30" x2="306.20" y2="488.30" stroke="#333" stroke-width="1.0"/>
<line x1="278.00" y1="477.30" x2="306.20" y2="477.30" stroke="#333" stroke-width="1.0"/>
<line x1="333.30" y1="488.30" x2="347.70" y2="488.30" stroke="#333" stroke-width="1.0"/>
<line x1="361.50" y1="488.30" x2="375.90" y2="488.30" stroke="#333" stroke-width="1.0"/>
<text x="270.50" y="485.93" font-size="5.6" fill="#222" text-anchor="middle"><tspan font-style="italic">P</tspan> = 8E-6</text>
<text x="299.20" y="485.93" font-size="5.6" fill="#222" text-anchor="middle">NS</text>
<text x="292.20" y="475.43" font-size="5.6" fill="#222" text-anchor="middle"><tspan font-style="italic">P</tspan> = 3E-7</text>
<text x="339.20" y="485.93" font-size="5.6" fill="#222" text-anchor="middle"><tspan font-style="italic">P</tspan> = 0.0005</text>
<text x="368.20" y="485.93" font-size="5.6" fill="#222" text-anchor="middle">NS</text>
<circle cx="263.60" cy="537.10" r="1.9" fill="#dba447"/>
<circle cx="263.60" cy="548.60" r="1.9" fill="#dba447"/>
<circle cx="263.60" cy="565.00" r="1.9" fill="#dba447"/>
<circle cx="261.30" cy="568.40" r="1.9" fill="#dba447"/>
<circle cx="265.90" cy="568.40" r="1.9" fill="#dba447"/>
<circle cx="260.60" cy="573.00" r="1.9" fill="#dba447"/>
<circle cx="263.60" cy="573.00" r="1.9" fill="#dba447"/>
<circle cx="266.60" cy="575.30" r="1.9" fill="#dba447"/>
<circle cx="262.60" cy="575.30" r="1.9" fill="#dba447"/>
<circle cx="260.60" cy="578.20" r="1.9" fill="#dba447"/>
<circle cx="266.60" cy="578.20" r="1.9" fill="#dba447"/>
<circle cx="274.70" cy="578.80" r="1.9" fill="#dba447"/>
<circle cx="277.70" cy="578.80" r="1.9" fill="#dba447"/>
<circle cx="280.70" cy="578.80" r="1.9" fill="#dba447"/>
<circle cx="275.70" cy="580.00" r="1.9" fill="#dba447"/>
<circle cx="279.70" cy="580.00" r="1.9" fill="#dba447"/>
<circle cx="291.90" cy="551.80" r="1.9" fill="#f07fcf"/>
<circle cx="290.40" cy="566.10" r="1.9" fill="#f07fcf"/>
<circle cx="293.40" cy="568.40" r="1.9" fill="#f07fcf"/>
<circle cx="291.90" cy="573.60" r="1.9" fill="#f07fcf"/>
<circle cx="288.90" cy="577.00" r="1.9" fill="#f07fcf"/>
<circle cx="294.90" cy="578.80" r="1.9" fill="#f07fcf"/>
<circle cx="306.10" cy="494.40" r="1.9" fill="#f07fcf"/>
<circle cx="306.10" cy="554.00" r="1.9" fill="#f07fcf"/>
<circle cx="304.60" cy="566.70" r="1.9" fill="#f07fcf"/>
<circle cx="305.10" cy="568.40" r="1.9" fill="#f07fcf"/>
<circle cx="308.60" cy="568.40" r="1.9" fill="#f07fcf"/>
<circle cx="306.10" cy="575.30" r="1.9" fill="#f07fcf"/>
<circle cx="303.10" cy="577.60" r="1.9" fill="#f07fcf"/>
<circle cx="309.10" cy="577.60" r="1.9" fill="#f07fcf"/>
<line x1="258.90" y1="568.40" x2="268.30" y2="568.40" stroke="#222" stroke-width="1.1"/>
<line x1="273.00" y1="580.00" x2="282.40" y2="580.00" stroke="#222" stroke-width="1.1"/>
<line x1="287.20" y1="569.00" x2="296.60" y2="569.00" stroke="#222" stroke-width="1.1"/>
<line x1="301.40" y1="559.60" x2="310.80" y2="559.60" stroke="#222" stroke-width="1.1"/>
<line x1="331.80" y1="537.10" x2="346.00" y2="579.00" stroke="#222" stroke-width="0.9"/>
<line x1="331.80" y1="548.20" x2="346.00" y2="580.00" stroke="#222" stroke-width="0.9"/>
<line x1="331.80" y1="564.70" x2="346.00" y2="580.00" stroke="#222" stroke-width="0.9"/>
<line x1="331.80" y1="568.00" x2="346.00" y2="581.00" stroke="#222" stroke-width="0.9"/>
<line x1="331.80" y1="571.00" x2="346.00" y2="580.00" stroke="#222" stroke-width="0.9"/>
<line x1="331.80" y1="574.00" x2="346.00" y2="581.00" stroke="#222" stroke-width="0.9"/>
<line x1="331.80" y1="577.00" x2="346.00" y2="580.00" stroke="#222" stroke-width="0.9"/>
<line x1="331.80" y1="579.70" x2="346.00" y2="581.00" stroke="#222" stroke-width="0.9"/>
<circle cx="331.80" cy="537.10" r="1.9" fill="#dba447"/>
<circle cx="346.00" cy="579.00" r="1.9" fill="#dba447"/>
<circle cx="331.80" cy="548.20" r="1.9" fill="#dba447"/>
<circle cx="346.00" cy="580.00" r="1.9" fill="#dba447"/>
<circle cx="331.80" cy="564.70" r="1.9" fill="#dba447"/>
<circle cx="346.00" cy="580.00" r="1.9" fill="#dba447"/>
<circle cx="331.80" cy="568.00" r="1.9" fill="#dba447"/>
<circle cx="346.00" cy="581.00" r="1.9" fill="#dba447"/>
<circle cx="331.80" cy="571.00" r="1.9" fill="#dba447"/>
<circle cx="346.00" cy="580.00" r="1.9" fill="#dba447"/>
<circle cx="331.80" cy="574.00" r="1.9" fill="#dba447"/>
<circle cx="346.00" cy="581.00" r="1.9" fill="#dba447"/>
<circle cx="331.80" cy="577.00" r="1.9" fill="#dba447"/>
<circle cx="346.00" cy="580.00" r="1.9" fill="#dba447"/>
<circle cx="331.80" cy="579.70" r="1.9" fill="#dba447"/>
<circle cx="346.00" cy="581.00" r="1.9" fill="#dba447"/>
<line x1="360.20" y1="551.70" x2="374.60" y2="494.20" stroke="#222" stroke-width="0.9"/>
<line x1="360.20" y1="566.50" x2="374.60" y2="553.50" stroke="#222" stroke-width="0.9"/>
<line x1="360.20" y1="568.30" x2="374.60" y2="568.30" stroke="#222" stroke-width="0.9"/>
<line x1="360.20" y1="579.10" x2="374.60" y2="553.50" stroke="#222" stroke-width="0.9"/>
<circle cx="360.20" cy="551.70" r="1.9" fill="#f07fcf"/>
<circle cx="374.60" cy="494.20" r="1.9" fill="#f07fcf"/>
<circle cx="360.20" cy="566.50" r="1.9" fill="#f07fcf"/>
<circle cx="374.60" cy="553.50" r="1.9" fill="#f07fcf"/>
<circle cx="360.20" cy="568.30" r="1.9" fill="#f07fcf"/>
<circle cx="374.60" cy="568.30" r="1.9" fill="#f07fcf"/>
<circle cx="360.20" cy="579.10" r="1.9" fill="#f07fcf"/>
<circle cx="374.60" cy="553.50" r="1.9" fill="#f07fcf"/>
<text x="0" y="0" stroke="#000" stroke-width="0.25" font-size="9.1" text-anchor="end" transform="translate(266.00 590.00) rotate(-45)">BL</text>
<text x="0" y="0" stroke="#000" stroke-width="0.25" font-size="9.1" text-anchor="end" transform="translate(280.10 590.00) rotate(-45)">C1D15</text>
<text x="0" y="0" stroke="#000" stroke-width="0.25" font-size="9.1" text-anchor="end" transform="translate(294.30 590.00) rotate(-45)">BL</text>
<text x="0" y="0" stroke="#000" stroke-width="0.25" font-size="9.1" text-anchor="end" transform="translate(308.50 590.00) rotate(-45)">C1D15</text>
<text x="0" y="0" stroke="#000" stroke-width="0.25" font-size="9.1" text-anchor="end" transform="translate(334.20 590.00) rotate(-45)">BL</text>
<text x="0" y="0" stroke="#000" stroke-width="0.25" font-size="9.1" text-anchor="end" transform="translate(348.40 590.00) rotate(-45)">C1D15</text>
<text x="0" y="0" stroke="#000" stroke-width="0.25" font-size="9.1" text-anchor="end" transform="translate(362.60 590.00) rotate(-45)">BL</text>
<text x="0" y="0" stroke="#000" stroke-width="0.25" font-size="9.1" text-anchor="end" transform="translate(377.00 590.00) rotate(-45)">C1D15</text>
<text x="422.20" y="275.60" font-size="19" text-anchor="start" fill="#000" stroke="#000" stroke-width="0.25" font-weight="bold">D</text>
<text x="546.10" y="307.83" font-size="9.1" text-anchor="middle" fill="#000" stroke="#000" stroke-width="0.25">C1D15 vs Baseline – Hallmark GSEA</text>
<rect x="545.70" y="317.30" width="22.32" height="6.70" fill="#dba85a"/>
<rect x="545.70" y="324.00" width="20.09" height="6.70" fill="#f08ccc"/>
<text x="543.20" y="327.13" font-size="9.1" text-anchor="end" fill="#000" stroke="#000" stroke-width="0.25">Myogenesis</text>
<rect x="545.70" y="333.67" width="20.56" height="6.70" fill="#dba85a"/>
<rect x="545.70" y="340.37" width="10.81" height="6.70" fill="#f08ccc"/>
<text x="543.20" y="343.50" font-size="9.1" text-anchor="end" fill="#000" stroke="#000" stroke-width="0.25">EMT</text>
<rect x="545.70" y="350.04" width="20.45" height="6.70" fill="#dba85a"/>
<rect x="545.70" y="356.74" width="18.09" height="6.70" fill="#f08ccc"/>
<text x="543.20" y="359.87" font-size="9.1" text-anchor="end" fill="#000" stroke="#000" stroke-width="0.25">p53 pathway</text>
<rect x="545.70" y="366.41" width="17.74" height="6.70" fill="#dba85a"/>
<rect x="545.70" y="373.11" width="15.51" height="6.70" fill="#f08ccc"/>
<text x="543.20" y="376.24" font-size="9.1" text-anchor="end" fill="#000" stroke="#000" stroke-width="0.25">Bile acid metabolism</text>
<rect x="545.70" y="382.78" width="17.27" height="6.70" fill="#dba85a"/>
<rect x="545.70" y="389.48" width="15.04" height="6.70" fill="#f08ccc"/>
<text x="543.20" y="392.61" font-size="9.1" text-anchor="end" fill="#000" stroke="#000" stroke-width="0.25">Apical junction</text>
<rect x="520.79" y="399.15" width="24.91" height="6.70" fill="#dba85a"/>
<rect x="523.26" y="405.85" width="22.44" height="6.70" fill="#f08ccc"/>
<text x="547.80" y="408.98" font-size="9.1" text-anchor="start" fill="#000" stroke="#000" stroke-width="0.25">MTORC1 signaling</text>
<rect x="516.68" y="415.52" width="29.02" height="6.70" fill="#dba85a"/>
<rect x="519.50" y="422.22" width="26.20" height="6.70" fill="#f08ccc"/>
<text x="547.80" y="425.35" font-size="9.1" text-anchor="start" fill="#000" stroke="#000" stroke-width="0.25">Mitotic spindle</text>
<rect x="512.45" y="431.89" width="33.25" height="6.70" fill="#dba85a"/>
<rect x="518.68" y="438.59" width="27.02" height="6.70" fill="#f08ccc"/>
<text x="547.80" y="441.72" font-size="9.1" text-anchor="start" fill="#000" stroke="#000" stroke-width="0.25">MYC targets V1</text>
<rect x="507.51" y="448.26" width="38.19" height="6.70" fill="#dba85a"/>
<rect x="513.74" y="454.96" width="31.96" height="6.70" fill="#f08ccc"/>
<text x="547.80" y="458.09" font-size="9.1" text-anchor="start" fill="#000" stroke="#000" stroke-width="0.25">G2M checkpoint</text>
<rect x="506.10" y="464.63" width="39.60" height="6.70" fill="#dba85a"/>
<rect x="517.97" y="471.33" width="27.73" height="6.70" fill="#f08ccc"/>
<text x="547.80" y="474.46" font-size="9.1" text-anchor="start" fill="#000" stroke="#000" stroke-width="0.25">E2F targets</text>
<line x1="498.40" y1="480.10" x2="592.50" y2="480.10" stroke="#333" stroke-width="1"/>
<line x1="498.70" y1="480.10" x2="498.70" y2="483.00" stroke="#333" stroke-width="1"/>
<text x="498.70" y="492.03" font-size="9.1" text-anchor="middle" fill="#000" stroke="#000" stroke-width="0.25">-4</text>
<line x1="522.20" y1="480.10" x2="522.20" y2="483.00" stroke="#333" stroke-width="1"/>
<text x="522.20" y="492.03" font-size="9.1" text-anchor="middle" fill="#000" stroke="#000" stroke-width="0.25">-2</text>
<line x1="545.70" y1="480.10" x2="545.70" y2="483.00" stroke="#333" stroke-width="1"/>
<text x="545.70" y="492.03" font-size="9.1" text-anchor="middle" fill="#000" stroke="#000" stroke-width="0.25">0</text>
<line x1="569.20" y1="480.10" x2="569.20" y2="483.00" stroke="#333" stroke-width="1"/>
<text x="569.20" y="492.03" font-size="9.1" text-anchor="middle" fill="#000" stroke="#000" stroke-width="0.25">2</text>
<line x1="592.70" y1="480.10" x2="592.70" y2="483.00" stroke="#333" stroke-width="1"/>
<text x="592.70" y="492.03" font-size="9.1" text-anchor="middle" fill="#000" stroke="#000" stroke-width="0.25">4</text>
<text x="546.10" y="503.93" font-size="9.1" text-anchor="middle" fill="#000" stroke="#000" stroke-width="0.25">NES</text>
<text x="485.00" y="503.43" font-size="9.1" text-anchor="middle" fill="#000" stroke="#000" stroke-width="0.25">Downregulated</text>
<text x="611.90" y="503.43" font-size="9.1" text-anchor="middle" fill="#000" stroke="#000" stroke-width="0.25">Upregulated</text>
<line x1="442.00" y1="509.20" x2="522.40" y2="509.20" stroke="#333" stroke-width="1"/>
<path d="M436.2,509.2 L444.5,505.8 L444.5,512.6 Z" fill="#111"/>
<line x1="572.30" y1="509.20" x2="651.00" y2="509.20" stroke="#333" stroke-width="1"/>
<path d="M657.1,509.2 L648.8,505.8 L648.8,512.6 Z" fill="#111"/>
<rect x="598.20" y="317.40" width="10.00" height="9.50" fill="#f0962e"/>
<text x="611.40" y="324.73" font-size="9.1" text-anchor="start" fill="#000" stroke="#000" stroke-width="0.25">Sensitive (n = 32)</text>
<text x="619.40" y="335.74" font-size="6.8" text-anchor="start" fill="#000" stroke="#000" stroke-width="0.1">Baseline (n = 13)</text>
<text x="619.40" y="344.64" font-size="6.8" text-anchor="start" fill="#000" stroke="#000" stroke-width="0.1">C1D15 ( n = 19)</text>
<rect x="598.20" y="353.30" width="10.00" height="9.60" fill="#ee92d2"/>
<text x="611.40" y="360.73" font-size="9.1" text-anchor="start" fill="#000" stroke="#000" stroke-width="0.25">Resistant (n = 16)</text>
<text x="619.40" y="371.74" font-size="6.8" text-anchor="start" fill="#000" stroke="#000" stroke-width="0.1">Baseline (n = 7)</text>
<text x="619.40" y="380.64" font-size="6.8" text-anchor="start" fill="#000" stroke="#000" stroke-width="0.1">C1D15 ( n = 9)</text>
<text x="7.20" y="635.30" font-size="19" text-anchor="start" fill="#000" stroke="#000" stroke-width="0.08" font-weight="bold">E</text>
<line x1="39.10" y1="750.05" x2="163.10" y2="750.05" stroke="#f2f2f2" stroke-width="0.6"/>
<line x1="39.10" y1="723.55" x2="163.10" y2="723.55" stroke="#f2f2f2" stroke-width="0.6"/>
<line x1="39.10" y1="697.05" x2="163.10" y2="697.05" stroke="#f2f2f2" stroke-width="0.6"/>
<line x1="39.10" y1="670.55" x2="163.10" y2="670.55" stroke="#f2f2f2" stroke-width="0.6"/>
<line x1="44.70" y1="652.20" x2="44.70" y2="767.60" stroke="#f2f2f2" stroke-width="0.6"/>
<line x1="77.20" y1="652.20" x2="77.20" y2="767.60" stroke="#f2f2f2" stroke-width="0.6"/>
<line x1="109.70" y1="652.20" x2="109.70" y2="767.60" stroke="#f2f2f2" stroke-width="0.6"/>
<line x1="142.20" y1="652.20" x2="142.20" y2="767.60" stroke="#f2f2f2" stroke-width="0.6"/>
<line x1="39.10" y1="763.30" x2="163.10" y2="763.30" stroke="#e6e6e6" stroke-width="1.0"/>
<line x1="39.10" y1="736.80" x2="163.10" y2="736.80" stroke="#e6e6e6" stroke-width="1.0"/>
<line x1="39.10" y1="710.30" x2="163.10" y2="710.30" stroke="#e6e6e6" stroke-width="1.0"/>
<line x1="39.10" y1="683.80" x2="163.10" y2="683.80" stroke="#e6e6e6" stroke-width="1.0"/>
<line x1="39.10" y1="657.30" x2="163.10" y2="657.30" stroke="#e6e6e6" stroke-width="1.0"/>
<line x1="60.95" y1="652.20" x2="60.95" y2="767.60" stroke="#e6e6e6" stroke-width="1.0"/>
<line x1="93.45" y1="652.20" x2="93.45" y2="767.60" stroke="#e6e6e6" stroke-width="1.0"/>
<line x1="125.95" y1="652.20" x2="125.95" y2="767.60" stroke="#e6e6e6" stroke-width="1.0"/>
<line x1="158.45" y1="652.20" x2="158.45" y2="767.60" stroke="#e6e6e6" stroke-width="1.0"/>
<text x="101.10" y="647.72" font-size="8.5" text-anchor="middle" fill="#1a1a1a" stroke="#1a1a1a" stroke-width="0.08">G2M checkpoint</text>
<path d="M52.50,763.30 L53.78,763.18 L55.05,763.04 L56.33,762.87 L57.60,762.69 L58.88,762.48 L60.15,762.25 L61.43,762.01 L62.70,761.75 L63.98,761.47 L65.25,761.18 L66.53,760.88 L67.80,760.56 L69.08,760.23 L70.35,759.89 L71.63,759.55 L72.91,759.20 L74.18,758.84 L75.46,758.47 L76.73,758.09 L78.01,757.69 L79.28,757.27 L80.56,756.82 L81.83,756.35 L83.11,755.85 L84.38,755.33 L85.66,754.77 L86.93,754.17 L88.21,753.55 L89.48,752.89 L90.76,752.19 L92.03,751.45 L93.31,750.67 L94.59,749.76 L95.86,748.61 L97.14,747.28 L98.41,745.80 L99.69,744.24 L100.96,742.62 L102.24,741.01 L103.51,739.45 L104.79,737.98 L106.06,736.66 L107.34,735.53 L108.61,734.57 L109.89,733.59 L111.16,732.61 L112.44,731.64 L113.72,730.70 L114.99,729.80 L116.27,728.96 L117.54,728.20 L118.82,727.54 L120.09,726.99 L121.37,726.57 L122.64,726.30 L123.92,726.20 L125.19,726.55 L126.47,727.59 L127.74,729.19 L129.02,731.21 L130.29,733.51 L131.57,735.94 L132.84,738.36 L134.12,740.62 L135.40,742.62 L136.67,744.66 L137.95,746.84 L139.22,749.06 L140.50,751.27 L141.77,753.38 L143.05,755.32 L144.32,757.01 L145.60,758.37 L146.87,759.47 L148.15,760.50 L149.42,761.42 L150.70,762.22 L151.97,762.85 L153.25,763.30 L153.25,763.30 L52.50,763.30 Z" fill="rgba(220,35,40,0.4)" stroke="none"/>
<path d="M52.50,763.30 L53.78,763.18 L55.05,763.04 L56.33,762.87 L57.60,762.69 L58.88,762.48 L60.15,762.25 L61.43,762.01 L62.70,761.75 L63.98,761.47 L65.25,761.18 L66.53,760.88 L67.80,760.56 L69.08,760.23 L70.35,759.89 L71.63,759.55 L72.91,759.20 L74.18,758.84 L75.46,758.47 L76.73,758.09 L78.01,757.69 L79.28,757.27 L80.56,756.82 L81.83,756.35 L83.11,755.85 L84.38,755.33 L85.66,754.77 L86.93,754.17 L88.21,753.55 L89.48,752.89 L90.76,752.19 L92.03,751.45 L93.31,750.67 L94.59,749.76 L95.86,748.61 L97.14,747.28 L98.41,745.80 L99.69,744.24 L100.96,742.62 L102.24,741.01 L103.51,739.45 L104.79,737.98 L106.06,736.66 L107.34,735.53 L108.61,734.57 L109.89,733.59 L111.16,732.61 L112.44,731.64 L113.72,730.70 L114.99,729.80 L116.27,728.96 L117.54,728.20 L118.82,727.54 L120.09,726.99 L121.37,726.57 L122.64,726.30 L123.92,726.20 L125.19,726.55 L126.47,727.59 L127.74,729.19 L129.02,731.21 L130.29,733.51 L131.57,735.94 L132.84,738.36 L134.12,740.62 L135.40,742.62 L136.67,744.66 L137.95,746.84 L139.22,749.06 L140.50,751.27 L141.77,753.38 L143.05,755.32 L144.32,757.01 L145.60,758.37 L146.87,759.47 L148.15,760.50 L149.42,761.42 L150.70,762.22 L151.97,762.85 L153.25,763.30" fill="none" stroke="#e42a2a" stroke-width="1.3"/>
<path d="M61.60,763.30 L62.51,763.02 L63.41,762.59 L64.32,762.02 L65.22,761.32 L66.13,760.50 L67.03,759.57 L67.94,758.54 L68.84,757.42 L69.75,756.23 L70.65,754.98 L71.56,753.68 L72.46,752.33 L73.37,750.95 L74.27,749.52 L75.18,747.70 L76.08,745.46 L76.99,742.91 L77.89,740.15 L78.80,737.25 L79.70,734.33 L80.61,731.48 L81.51,728.79 L82.42,726.36 L83.32,724.29 L84.23,722.67 L85.13,721.38 L86.04,720.09 L86.94,718.84 L87.85,717.64 L88.75,716.53 L89.66,715.52 L90.56,714.64 L91.47,713.92 L92.37,713.38 L93.28,713.05 L94.18,712.95 L95.09,713.18 L95.99,713.78 L96.90,714.68 L97.80,715.86 L98.71,717.27 L99.61,718.85 L100.52,720.57 L101.42,722.38 L102.33,724.23 L103.23,726.09 L104.14,727.90 L105.04,729.62 L105.95,731.21 L106.85,732.72 L107.76,734.32 L108.66,735.99 L109.57,737.72 L110.47,739.48 L111.38,741.24 L112.28,743.00 L113.19,744.72 L114.09,746.38 L115.00,747.96 L115.90,749.44 L116.81,750.79 L117.71,752.00 L118.62,753.04 L119.52,753.96 L120.43,754.85 L121.33,755.73 L122.24,756.59 L123.14,757.42 L124.05,758.22 L124.95,758.98 L125.86,759.69 L126.76,760.36 L127.67,760.98 L128.57,761.54 L129.48,762.04 L130.38,762.47 L131.29,762.83 L132.19,763.10 L133.10,763.30 L133.10,763.30 L61.60,763.30 Z" fill="rgba(230,118,205,0.4)" stroke="none"/>
<path d="M61.60,763.30 L62.51,763.02 L63.41,762.59 L64.32,762.02 L65.22,761.32 L66.13,760.50 L67.03,759.57 L67.94,758.54 L68.84,757.42 L69.75,756.23 L70.65,754.98 L71.56,753.68 L72.46,752.33 L73.37,750.95 L74.27,749.52 L75.18,747.70 L76.08,745.46 L76.99,742.91 L77.89,740.15 L78.80,737.25 L79.70,734.33 L80.61,731.48 L81.51,728.79 L82.42,726.36 L83.32,724.29 L84.23,722.67 L85.13,721.38 L86.04,720.09 L86.94,718.84 L87.85,717.64 L88.75,716.53 L89.66,715.52 L90.56,714.64 L91.47,713.92 L92.37,713.38 L93.28,713.05 L94.18,712.95 L95.09,713.18 L95.99,713.78 L96.90,714.68 L97.80,715.86 L98.71,717.27 L99.61,718.85 L100.52,720.57 L101.42,722.38 L102.33,724.23 L103.23,726.09 L104.14,727.90 L105.04,729.62 L105.95,731.21 L106.85,732.72 L107.76,734.32 L108.66,735.99 L109.57,737.72 L110.47,739.48 L111.38,741.24 L112.28,743.00 L113.19,744.72 L114.09,746.38 L115.00,747.96 L115.90,749.44 L116.81,750.79 L117.71,752.00 L118.62,753.04 L119.52,753.96 L120.43,754.85 L121.33,755.73 L122.24,756.59 L123.14,757.42 L124.05,758.22 L124.95,758.98 L125.86,759.69 L126.76,760.36 L127.67,760.98 L128.57,761.54 L129.48,762.04 L130.38,762.47 L131.29,762.83 L132.19,763.10 L133.10,763.30" fill="none" stroke="#e878d8" stroke-width="1.3"/>
<path d="M52.50,763.30 L53.45,762.83 L54.40,762.38 L55.35,761.94 L56.30,761.53 L57.25,761.15 L58.20,760.79 L59.15,760.46 L60.10,760.17 L61.05,759.91 L62.00,759.70 L62.95,759.53 L63.90,759.39 L64.85,759.29 L65.80,759.20 L66.75,759.13 L67.71,759.05 L68.66,758.97 L69.61,758.87 L70.56,758.73 L71.51,758.56 L72.46,758.19 L73.41,757.33 L74.36,756.05 L75.31,754.40 L76.26,752.43 L77.21,750.22 L78.16,747.81 L79.11,745.27 L80.06,742.65 L81.01,740.02 L81.96,737.43 L82.91,734.94 L83.86,732.62 L84.81,730.43 L85.76,727.98 L86.71,725.26 L87.66,722.40 L88.61,719.49 L89.56,716.65 L90.51,713.97 L91.46,711.57 L92.41,709.56 L93.36,708.03 L94.31,707.10 L95.26,706.87 L96.21,707.41 L97.16,708.52 L98.12,709.94 L99.07,711.41 L100.02,712.66 L100.97,713.48 L101.92,714.03 L102.87,714.47 L103.82,714.87 L104.77,715.31 L105.72,715.84 L106.67,716.56 L107.62,717.80 L108.57,719.85 L109.52,722.54 L110.47,725.67 L111.42,729.05 L112.37,732.50 L113.32,735.81 L114.27,738.80 L115.22,741.32 L116.17,743.69 L117.12,746.04 L118.07,748.31 L119.02,750.49 L119.97,752.54 L120.92,754.43 L121.87,756.13 L122.82,757.62 L123.77,759.00 L124.72,760.27 L125.67,761.42 L126.62,762.44 L127.58,763.30 L127.58,763.30 L52.50,763.30 Z" fill="rgba(40,40,165,0.4)" stroke="none"/>
<path d="M52.50,763.30 L53.45,762.83 L54.40,762.38 L55.35,761.94 L56.30,761.53 L57.25,761.15 L58.20,760.79 L59.15,760.46 L60.10,760.17 L61.05,759.91 L62.00,759.70 L62.95,759.53 L63.90,759.39 L64.85,759.29 L65.80,759.20 L66.75,759.13 L67.71,759.05 L68.66,758.97 L69.61,758.87 L70.56,758.73 L71.51,758.56 L72.46,758.19 L73.41,757.33 L74.36,756.05 L75.31,754.40 L76.26,752.43 L77.21,750.22 L78.16,747.81 L79.11,745.27 L80.06,742.65 L81.01,740.02 L81.96,737.43 L82.91,734.94 L83.86,732.62 L84.81,730.43 L85.76,727.98 L86.71,725.26 L87.66,722.40 L88.61,719.49 L89.56,716.65 L90.51,713.97 L91.46,711.57 L92.41,709.56 L93.36,708.03 L94.31,707.10 L95.26,706.87 L96.21,707.41 L97.16,708.52 L98.12,709.94 L99.07,711.41 L100.02,712.66 L100.97,713.48 L101.92,714.03 L102.87,714.47 L103.82,714.87 L104.77,715.31 L105.72,715.84 L106.67,716.56 L107.62,717.80 L108.57,719.85 L109.52,722.54 L110.47,725.67 L111.42,729.05 L112.37,732.50 L113.32,735.81 L114.27,738.80 L115.22,741.32 L116.17,743.69 L117.12,746.04 L118.07,748.31 L119.02,750.49 L119.97,752.54 L120.92,754.43 L121.87,756.13 L122.82,757.62 L123.77,759.00 L124.72,760.27 L125.67,761.42 L126.62,762.44 L127.58,763.30" fill="none" stroke="#1c1c96" stroke-width="1.3"/>
<path d="M59.98,763.30 L60.69,762.99 L61.41,762.14 L62.13,760.83 L62.85,759.15 L63.57,757.20 L64.29,755.05 L65.01,751.70 L65.73,746.85 L66.45,740.97 L67.17,734.54 L67.89,728.01 L68.61,721.30 L69.33,713.33 L70.05,704.58 L70.77,695.61 L71.49,686.98 L72.21,679.25 L72.93,672.99 L73.65,668.42 L74.37,664.21 L75.09,661.04 L75.81,659.98 L76.53,662.37 L77.25,667.56 L77.97,673.96 L78.69,680.13 L79.41,687.33 L80.13,695.62 L80.85,704.11 L81.57,711.88 L82.29,718.05 L83.01,722.73 L83.73,727.18 L84.45,731.36 L85.17,735.14 L85.89,738.44 L86.61,741.14 L87.33,743.15 L88.05,744.39 L88.77,745.25 L89.49,746.00 L90.21,746.64 L90.93,747.18 L91.65,747.64 L92.37,748.02 L93.09,748.33 L93.81,748.58 L94.53,748.75 L95.25,748.88 L95.97,748.99 L96.69,749.13 L97.41,749.31 L98.13,749.59 L98.85,750.56 L99.57,752.27 L100.29,754.39 L101.01,756.62 L101.73,758.61 L102.45,760.06 L103.17,760.65 L103.89,760.48 L104.61,760.01 L105.33,759.31 L106.05,758.49 L106.77,757.61 L107.49,756.77 L108.21,756.06 L108.93,755.56 L109.65,755.35 L110.37,755.43 L111.09,755.67 L111.81,756.09 L112.53,756.67 L113.25,757.40 L113.97,758.29 L114.69,759.33 L115.41,760.51 L116.13,761.84 L116.85,763.30 L116.85,763.30 L59.98,763.30 Z" fill="rgba(230,182,97,0.4)" stroke="none"/>
<path d="M59.98,763.30 L60.69,762.99 L61.41,762.14 L62.13,760.83 L62.85,759.15 L63.57,757.20 L64.29,755.05 L65.01,751.70 L65.73,746.85 L66.45,740.97 L67.17,734.54 L67.89,728.01 L68.61,721.30 L69.33,713.33 L70.05,704.58 L70.77,695.61 L71.49,686.98 L72.21,679.25 L72.93,672.99 L73.65,668.42 L74.37,664.21 L75.09,661.04 L75.81,659.98 L76.53,662.37 L77.25,667.56 L77.97,673.96 L78.69,680.13 L79.41,687.33 L80.13,695.62 L80.85,704.11 L81.57,711.88 L82.29,718.05 L83.01,722.73 L83.73,727.18 L84.45,731.36 L85.17,735.14 L85.89,738.44 L86.61,741.14 L87.33,743.15 L88.05,744.39 L88.77,745.25 L89.49,746.00 L90.21,746.64 L90.93,747.18 L91.65,747.64 L92.37,748.02 L93.09,748.33 L93.81,748.58 L94.53,748.75 L95.25,748.88 L95.97,748.99 L96.69,749.13 L97.41,749.31 L98.13,749.59 L98.85,750.56 L99.57,752.27 L100.29,754.39 L101.01,756.62 L101.73,758.61 L102.45,760.06 L103.17,760.65 L103.89,760.48 L104.61,760.01 L105.33,759.31 L106.05,758.49 L106.77,757.61 L107.49,756.77 L108.21,756.06 L108.93,755.56 L109.65,755.35 L110.37,755.43 L111.09,755.67 L111.81,756.09 L112.53,756.67 L113.25,757.40 L113.97,758.29 L114.69,759.33 L115.41,760.51 L116.13,761.84 L116.85,763.30" fill="none" stroke="#eeb450" stroke-width="1.3"/>
<text x="34.30" y="766.19" font-size="8.4" text-anchor="end" fill="#4d4d4d" stroke="#4d4d4d" stroke-width="0.08">0.0</text>
<text x="34.30" y="739.69" font-size="8.4" text-anchor="end" fill="#4d4d4d" stroke="#4d4d4d" stroke-width="0.08">0.5</text>
<text x="34.30" y="713.19" font-size="8.4" text-anchor="end" fill="#4d4d4d" stroke="#4d4d4d" stroke-width="0.08">1.0</text>
<text x="34.30" y="686.69" font-size="8.4" text-anchor="end" fill="#4d4d4d" stroke="#4d4d4d" stroke-width="0.08">1.5</text>
<text x="34.30" y="660.19" font-size="8.4" text-anchor="end" fill="#4d4d4d" stroke="#4d4d4d" stroke-width="0.08">2.0</text>
<line x1="168.45" y1="750.05" x2="292.45" y2="750.05" stroke="#f2f2f2" stroke-width="0.6"/>
<line x1="168.45" y1="723.55" x2="292.45" y2="723.55" stroke="#f2f2f2" stroke-width="0.6"/>
<line x1="168.45" y1="697.05" x2="292.45" y2="697.05" stroke="#f2f2f2" stroke-width="0.6"/>
<line x1="168.45" y1="670.55" x2="292.45" y2="670.55" stroke="#f2f2f2" stroke-width="0.6"/>
<line x1="174.05" y1="652.20" x2="174.05" y2="767.60" stroke="#f2f2f2" stroke-width="0.6"/>
<line x1="206.55" y1="652.20" x2="206.55" y2="767.60" stroke="#f2f2f2" stroke-width="0.6"/>
<line x1="239.05" y1="652.20" x2="239.05" y2="767.60" stroke="#f2f2f2" stroke-width="0.6"/>
<line x1="271.55" y1="652.20" x2="271.55" y2="767.60" stroke="#f2f2f2" stroke-width="0.6"/>
<line x1="168.45" y1="763.30" x2="292.45" y2="763.30" stroke="#e6e6e6" stroke-width="1.0"/>
<line x1="168.45" y1="736.80" x2="292.45" y2="736.80" stroke="#e6e6e6" stroke-width="1.0"/>
<line x1="168.45" y1="710.30" x2="292.45" y2="710.30" stroke="#e6e6e6" stroke-width="1.0"/>
<line x1="168.45" y1="683.80" x2="292.45" y2="683.80" stroke="#e6e6e6" stroke-width="1.0"/>
<line x1="168.45" y1="657.30" x2="292.45" y2="657.30" stroke="#e6e6e6" stroke-width="1.0"/>
<line x1="190.30" y1="652.20" x2="190.30" y2="767.60" stroke="#e6e6e6" stroke-width="1.0"/>
<line x1="222.80" y1="652.20" x2="222.80" y2="767.60" stroke="#e6e6e6" stroke-width="1.0"/>
<line x1="255.30" y1="652.20" x2="255.30" y2="767.60" stroke="#e6e6e6" stroke-width="1.0"/>
<line x1="287.80" y1="652.20" x2="287.80" y2="767.60" stroke="#e6e6e6" stroke-width="1.0"/>
<text x="230.45" y="647.72" font-size="8.5" text-anchor="middle" fill="#1a1a1a" stroke="#1a1a1a" stroke-width="0.08">E2F targets</text>
<path d="M181.85,763.30 L183.13,763.28 L184.42,763.22 L185.70,763.12 L186.98,762.98 L188.27,762.82 L189.55,762.61 L190.83,762.38 L192.12,762.12 L193.40,761.84 L194.69,761.53 L195.97,761.19 L197.25,760.84 L198.54,760.47 L199.82,760.08 L201.10,759.68 L202.39,759.27 L203.67,758.84 L204.95,758.40 L206.24,757.86 L207.52,757.18 L208.80,756.38 L210.09,755.48 L211.37,754.50 L212.66,753.44 L213.94,752.32 L215.22,751.16 L216.51,749.97 L217.79,748.77 L219.07,747.56 L220.36,746.38 L221.64,745.22 L222.92,744.12 L224.21,742.98 L225.49,741.77 L226.77,740.51 L228.06,739.21 L229.34,737.90 L230.62,736.59 L231.91,735.31 L233.19,734.06 L234.48,732.87 L235.76,731.75 L237.04,730.74 L238.33,729.83 L239.61,729.04 L240.89,728.25 L242.18,727.45 L243.46,726.67 L244.74,725.94 L246.03,725.30 L247.31,724.76 L248.59,724.36 L249.88,724.13 L251.16,724.13 L252.44,724.92 L253.73,726.50 L255.01,728.69 L256.30,731.32 L257.58,734.21 L258.86,737.16 L260.15,739.99 L261.43,742.53 L262.71,744.61 L264.00,746.54 L265.28,748.49 L266.56,750.41 L267.85,752.26 L269.13,754.01 L270.41,755.59 L271.70,756.99 L272.98,758.14 L274.27,759.06 L275.55,759.93 L276.83,760.75 L278.12,761.50 L279.40,762.15 L280.68,762.68 L281.97,763.07 L283.25,763.30 L283.25,763.30 L181.85,763.30 Z" fill="rgba(220,35,40,0.4)" stroke="none"/>
<path d="M181.85,763.30 L183.13,763.28 L184.42,763.22 L185.70,763.12 L186.98,762.98 L188.27,762.82 L189.55,762.61 L190.83,762.38 L192.12,762.12 L193.40,761.84 L194.69,761.53 L195.97,761.19 L197.25,760.84 L198.54,760.47 L199.82,760.08 L201.10,759.68 L202.39,759.27 L203.67,758.84 L204.95,758.40 L206.24,757.86 L207.52,757.18 L208.80,756.38 L210.09,755.48 L211.37,754.50 L212.66,753.44 L213.94,752.32 L215.22,751.16 L216.51,749.97 L217.79,748.77 L219.07,747.56 L220.36,746.38 L221.64,745.22 L222.92,744.12 L224.21,742.98 L225.49,741.77 L226.77,740.51 L228.06,739.21 L229.34,737.90 L230.62,736.59 L231.91,735.31 L233.19,734.06 L234.48,732.87 L235.76,731.75 L237.04,730.74 L238.33,729.83 L239.61,729.04 L240.89,728.25 L242.18,727.45 L243.46,726.67 L244.74,725.94 L246.03,725.30 L247.31,724.76 L248.59,724.36 L249.88,724.13 L251.16,724.13 L252.44,724.92 L253.73,726.50 L255.01,728.69 L256.30,731.32 L257.58,734.21 L258.86,737.16 L260.15,739.99 L261.43,742.53 L262.71,744.61 L264.00,746.54 L265.28,748.49 L266.56,750.41 L267.85,752.26 L269.13,754.01 L270.41,755.59 L271.70,756.99 L272.98,758.14 L274.27,759.06 L275.55,759.93 L276.83,760.75 L278.12,761.50 L279.40,762.15 L280.68,762.68 L281.97,763.07 L283.25,763.30" fill="none" stroke="#e42a2a" stroke-width="1.3"/>
<path d="M189.32,763.30 L190.30,762.84 L191.27,762.31 L192.24,761.72 L193.21,761.06 L194.18,760.35 L195.15,759.58 L196.12,758.75 L197.09,757.88 L198.06,756.96 L199.03,756.00 L200.00,754.99 L200.98,753.95 L201.95,752.88 L202.92,751.77 L203.89,750.63 L204.86,749.47 L205.83,748.29 L206.80,747.08 L207.77,745.63 L208.74,743.89 L209.71,741.90 L210.68,739.72 L211.66,737.39 L212.63,734.95 L213.60,732.44 L214.57,729.91 L215.54,727.40 L216.51,724.96 L217.48,722.63 L218.45,720.46 L219.42,718.50 L220.39,716.77 L221.36,715.34 L222.34,714.24 L223.31,713.52 L224.28,713.22 L225.25,713.32 L226.22,713.70 L227.19,714.34 L228.16,715.21 L229.13,716.28 L230.10,717.52 L231.07,718.92 L232.04,720.44 L233.01,722.06 L233.99,723.74 L234.96,725.48 L235.93,727.23 L236.90,728.98 L237.87,730.69 L238.84,732.34 L239.81,733.91 L240.78,735.37 L241.75,736.84 L242.72,738.41 L243.69,740.04 L244.67,741.73 L245.64,743.43 L246.61,745.13 L247.58,746.80 L248.55,748.42 L249.52,749.96 L250.49,751.40 L251.46,752.71 L252.43,753.88 L253.40,754.87 L254.37,755.77 L255.35,756.65 L256.32,757.50 L257.29,758.32 L258.26,759.10 L259.23,759.84 L260.20,760.53 L261.17,761.17 L262.14,761.74 L263.11,762.25 L264.08,762.68 L265.05,763.03 L266.02,763.30 L266.02,763.30 L189.32,763.30 Z" fill="rgba(230,118,205,0.4)" stroke="none"/>
<path d="M189.32,763.30 L190.30,762.84 L191.27,762.31 L192.24,761.72 L193.21,761.06 L194.18,760.35 L195.15,759.58 L196.12,758.75 L197.09,757.88 L198.06,756.96 L199.03,756.00 L200.00,754.99 L200.98,753.95 L201.95,752.88 L202.92,751.77 L203.89,750.63 L204.86,749.47 L205.83,748.29 L206.80,747.08 L207.77,745.63 L208.74,743.89 L209.71,741.90 L210.68,739.72 L211.66,737.39 L212.63,734.95 L213.60,732.44 L214.57,729.91 L215.54,727.40 L216.51,724.96 L217.48,722.63 L218.45,720.46 L219.42,718.50 L220.39,716.77 L221.36,715.34 L222.34,714.24 L223.31,713.52 L224.28,713.22 L225.25,713.32 L226.22,713.70 L227.19,714.34 L228.16,715.21 L229.13,716.28 L230.10,717.52 L231.07,718.92 L232.04,720.44 L233.01,722.06 L233.99,723.74 L234.96,725.48 L235.93,727.23 L236.90,728.98 L237.87,730.69 L238.84,732.34 L239.81,733.91 L240.78,735.37 L241.75,736.84 L242.72,738.41 L243.69,740.04 L244.67,741.73 L245.64,743.43 L246.61,745.13 L247.58,746.80 L248.55,748.42 L249.52,749.96 L250.49,751.40 L251.46,752.71 L252.43,753.88 L253.40,754.87 L254.37,755.77 L255.35,756.65 L256.32,757.50 L257.29,758.32 L258.26,759.10 L259.23,759.84 L260.20,760.53 L261.17,761.17 L262.14,761.74 L263.11,762.25 L264.08,762.68 L265.05,763.03 L266.02,763.30" fill="none" stroke="#e878d8" stroke-width="1.3"/>
<path d="M182.82,763.30 L183.76,763.29 L184.70,763.25 L185.64,763.19 L186.58,763.10 L187.51,762.98 L188.45,762.85 L189.39,762.69 L190.33,762.50 L191.27,762.29 L192.20,762.06 L193.14,761.80 L194.08,761.53 L195.02,761.23 L195.96,760.90 L196.89,760.56 L197.83,760.19 L198.77,759.81 L199.71,759.40 L200.65,758.97 L201.58,758.52 L202.52,758.05 L203.46,757.56 L204.40,757.05 L205.34,756.41 L206.27,755.41 L207.21,754.08 L208.15,752.46 L209.09,750.61 L210.03,748.55 L210.96,746.34 L211.90,744.01 L212.84,741.61 L213.78,739.18 L214.72,736.76 L215.65,734.33 L216.59,731.28 L217.53,727.64 L218.47,723.65 L219.41,719.53 L220.34,715.54 L221.28,711.92 L222.22,708.90 L223.16,706.71 L224.10,705.61 L225.03,705.86 L225.97,707.22 L226.91,708.83 L227.85,709.75 L228.79,709.70 L229.72,709.52 L230.66,709.33 L231.60,709.24 L232.54,709.93 L233.48,711.71 L234.41,714.23 L235.35,717.15 L236.29,720.13 L237.23,722.84 L238.17,725.62 L239.10,728.74 L240.04,732.07 L240.98,735.49 L241.92,738.90 L242.86,742.18 L243.79,745.22 L244.73,747.90 L245.67,750.11 L246.61,751.80 L247.55,753.37 L248.48,754.91 L249.42,756.38 L250.36,757.78 L251.30,759.06 L252.24,760.22 L253.17,761.23 L254.11,762.07 L255.05,762.71 L255.99,763.12 L256.92,763.30 L256.92,763.30 L182.82,763.30 Z" fill="rgba(40,40,165,0.4)" stroke="none"/>
<path d="M182.82,763.30 L183.76,763.29 L184.70,763.25 L185.64,763.19 L186.58,763.10 L187.51,762.98 L188.45,762.85 L189.39,762.69 L190.33,762.50 L191.27,762.29 L192.20,762.06 L193.14,761.80 L194.08,761.53 L195.02,761.23 L195.96,760.90 L196.89,760.56 L197.83,760.19 L198.77,759.81 L199.71,759.40 L200.65,758.97 L201.58,758.52 L202.52,758.05 L203.46,757.56 L204.40,757.05 L205.34,756.41 L206.27,755.41 L207.21,754.08 L208.15,752.46 L209.09,750.61 L210.03,748.55 L210.96,746.34 L211.90,744.01 L212.84,741.61 L213.78,739.18 L214.72,736.76 L215.65,734.33 L216.59,731.28 L217.53,727.64 L218.47,723.65 L219.41,719.53 L220.34,715.54 L221.28,711.92 L222.22,708.90 L223.16,706.71 L224.10,705.61 L225.03,705.86 L225.97,707.22 L226.91,708.83 L227.85,709.75 L228.79,709.70 L229.72,709.52 L230.66,709.33 L231.60,709.24 L232.54,709.93 L233.48,711.71 L234.41,714.23 L235.35,717.15 L236.29,720.13 L237.23,722.84 L238.17,725.62 L239.10,728.74 L240.04,732.07 L240.98,735.49 L241.92,738.90 L242.86,742.18 L243.79,745.22 L244.73,747.90 L245.67,750.11 L246.61,751.80 L247.55,753.37 L248.48,754.91 L249.42,756.38 L250.36,757.78 L251.30,759.06 L252.24,760.22 L253.17,761.23 L254.11,762.07 L255.05,762.71 L255.99,763.12 L256.92,763.30" fill="none" stroke="#1c1c96" stroke-width="1.3"/>
<path d="M189.32,763.30 L190.04,762.87 L190.76,761.69 L191.48,759.90 L192.20,757.64 L192.92,755.07 L193.64,752.32 L194.36,748.43 L195.08,743.06 L195.80,736.61 L196.52,729.48 L197.24,722.05 L197.96,714.74 L198.68,707.71 L199.40,699.13 L200.12,689.58 L200.84,680.39 L201.56,672.93 L202.28,668.53 L203.00,668.19 L203.72,670.20 L204.44,673.15 L205.16,675.93 L205.88,677.43 L206.60,677.75 L207.32,677.94 L208.04,678.09 L208.76,678.31 L209.48,679.02 L210.20,682.12 L210.92,687.39 L211.64,694.17 L212.36,701.79 L213.08,709.59 L213.80,716.91 L214.52,723.08 L215.24,727.44 L215.96,730.30 L216.68,732.92 L217.40,735.31 L218.12,737.50 L218.84,739.51 L219.56,741.34 L220.28,743.02 L221.00,744.56 L221.72,745.99 L222.44,747.31 L223.16,748.54 L223.88,749.68 L224.60,750.74 L225.32,751.73 L226.04,752.65 L226.76,753.52 L227.48,754.34 L228.20,755.13 L228.92,755.88 L229.64,756.63 L230.36,757.37 L231.08,758.19 L231.80,759.02 L232.52,759.82 L233.24,760.55 L233.96,761.14 L234.68,761.54 L235.40,761.71 L236.12,761.67 L236.84,761.53 L237.56,761.34 L238.28,761.12 L239.00,760.91 L239.72,760.74 L240.44,760.66 L241.16,760.68 L241.88,760.80 L242.60,761.03 L243.32,761.34 L244.04,761.74 L244.76,762.20 L245.48,762.72 L246.20,763.30 L246.20,763.30 L189.32,763.30 Z" fill="rgba(230,182,97,0.4)" stroke="none"/>
<path d="M189.32,763.30 L190.04,762.87 L190.76,761.69 L191.48,759.90 L192.20,757.64 L192.92,755.07 L193.64,752.32 L194.36,748.43 L195.08,743.06 L195.80,736.61 L196.52,729.48 L197.24,722.05 L197.96,714.74 L198.68,707.71 L199.40,699.13 L200.12,689.58 L200.84,680.39 L201.56,672.93 L202.28,668.53 L203.00,668.19 L203.72,670.20 L204.44,673.15 L205.16,675.93 L205.88,677.43 L206.60,677.75 L207.32,677.94 L208.04,678.09 L208.76,678.31 L209.48,679.02 L210.20,682.12 L210.92,687.39 L211.64,694.17 L212.36,701.79 L213.08,709.59 L213.80,716.91 L214.52,723.08 L215.24,727.44 L215.96,730.30 L216.68,732.92 L217.40,735.31 L218.12,737.50 L218.84,739.51 L219.56,741.34 L220.28,743.02 L221.00,744.56 L221.72,745.99 L222.44,747.31 L223.16,748.54 L223.88,749.68 L224.60,750.74 L225.32,751.73 L226.04,752.65 L226.76,753.52 L227.48,754.34 L228.20,755.13 L228.92,755.88 L229.64,756.63 L230.36,757.37 L231.08,758.19 L231.80,759.02 L232.52,759.82 L233.24,760.55 L233.96,761.14 L234.68,761.54 L235.40,761.71 L236.12,761.67 L236.84,761.53 L237.56,761.34 L238.28,761.12 L239.00,760.91 L239.72,760.74 L240.44,760.66 L241.16,760.68 L241.88,760.80 L242.60,761.03 L243.32,761.34 L244.04,761.74 L244.76,762.20 L245.48,762.72 L246.20,763.30" fill="none" stroke="#eeb450" stroke-width="1.3"/>
<line x1="297.80" y1="750.05" x2="421.80" y2="750.05" stroke="#f2f2f2" stroke-width="0.6"/>
<line x1="297.80" y1="723.55" x2="421.80" y2="723.55" stroke="#f2f2f2" stroke-width="0.6"/>
<line x1="297.80" y1="697.05" x2="421.80" y2="697.05" stroke="#f2f2f2" stroke-width="0.6"/>
<line x1="297.80" y1="670.55" x2="421.80" y2="670.55" stroke="#f2f2f2" stroke-width="0.6"/>
<line x1="303.40" y1="652.20" x2="303.40" y2="767.60" stroke="#f2f2f2" stroke-width="0.6"/>
<line x1="335.90" y1="652.20" x2="335.90" y2="767.60" stroke="#f2f2f2" stroke-width="0.6"/>
<line x1="368.40" y1="652.20" x2="368.40" y2="767.60" stroke="#f2f2f2" stroke-width="0.6"/>
<line x1="400.90" y1="652.20" x2="400.90" y2="767.60" stroke="#f2f2f2" stroke-width="0.6"/>
<line x1="297.80" y1="763.30" x2="421.80" y2="763.30" stroke="#e6e6e6" stroke-width="1.0"/>
<line x1="297.80" y1="736.80" x2="421.80" y2="736.80" stroke="#e6e6e6" stroke-width="1.0"/>
<line x1="297.80" y1="710.30" x2="421.80" y2="710.30" stroke="#e6e6e6" stroke-width="1.0"/>
<line x1="297.80" y1="683.80" x2="421.80" y2="683.80" stroke="#e6e6e6" stroke-width="1.0"/>
<line x1="297.80" y1="657.30" x2="421.80" y2="657.30" stroke="#e6e6e6" stroke-width="1.0"/>
<line x1="319.65" y1="652.20" x2="319.65" y2="767.60" stroke="#e6e6e6" stroke-width="1.0"/>
<line x1="352.15" y1="652.20" x2="352.15" y2="767.60" stroke="#e6e6e6" stroke-width="1.0"/>
<line x1="384.65" y1="652.20" x2="384.65" y2="767.60" stroke="#e6e6e6" stroke-width="1.0"/>
<line x1="417.15" y1="652.20" x2="417.15" y2="767.60" stroke="#e6e6e6" stroke-width="1.0"/>
<text x="359.80" y="647.72" font-size="8.5" text-anchor="middle" fill="#1a1a1a" stroke="#1a1a1a" stroke-width="0.08">Mitotic spindle</text>
<path d="M311.20,761.71 L312.48,759.55 L313.77,757.50 L315.05,755.57 L316.33,753.80 L317.62,752.20 L318.90,750.80 L320.18,749.61 L321.47,748.56 L322.75,747.51 L324.04,746.52 L325.32,745.64 L326.60,744.93 L327.89,744.44 L329.17,744.23 L330.45,744.25 L331.74,744.36 L333.02,744.52 L334.30,744.73 L335.59,744.96 L336.87,745.19 L338.15,745.41 L339.44,745.60 L340.72,745.74 L342.01,745.81 L343.29,745.73 L344.57,745.37 L345.86,744.77 L347.14,744.01 L348.42,743.14 L349.71,742.23 L350.99,741.35 L352.27,740.55 L353.56,739.92 L354.84,739.50 L356.12,739.26 L357.41,739.04 L358.69,738.83 L359.97,738.64 L361.26,738.46 L362.54,738.31 L363.83,738.17 L365.11,738.05 L366.39,737.96 L367.68,737.90 L368.96,737.87 L370.24,737.86 L371.53,737.90 L372.81,737.97 L374.09,738.07 L375.38,738.21 L376.66,738.38 L377.94,738.57 L379.23,738.80 L380.51,739.05 L381.79,739.32 L383.08,739.68 L384.36,740.44 L385.65,741.56 L386.93,742.96 L388.21,744.54 L389.50,746.23 L390.78,747.93 L392.06,749.56 L393.35,751.03 L394.63,752.46 L395.91,754.03 L397.20,755.64 L398.48,757.19 L399.76,758.59 L401.05,759.75 L402.33,760.56 L403.62,761.10 L404.90,761.61 L406.18,762.07 L407.47,762.48 L408.75,762.82 L410.03,763.08 L411.32,763.24 L412.60,763.30 L412.60,763.30 L311.20,763.30 Z" fill="rgba(220,35,40,0.4)" stroke="none"/>
<path d="M311.20,761.71 L312.48,759.55 L313.77,757.50 L315.05,755.57 L316.33,753.80 L317.62,752.20 L318.90,750.80 L320.18,749.61 L321.47,748.56 L322.75,747.51 L324.04,746.52 L325.32,745.64 L326.60,744.93 L327.89,744.44 L329.17,744.23 L330.45,744.25 L331.74,744.36 L333.02,744.52 L334.30,744.73 L335.59,744.96 L336.87,745.19 L338.15,745.41 L339.44,745.60 L340.72,745.74 L342.01,745.81 L343.29,745.73 L344.57,745.37 L345.86,744.77 L347.14,744.01 L348.42,743.14 L349.71,742.23 L350.99,741.35 L352.27,740.55 L353.56,739.92 L354.84,739.50 L356.12,739.26 L357.41,739.04 L358.69,738.83 L359.97,738.64 L361.26,738.46 L362.54,738.31 L363.83,738.17 L365.11,738.05 L366.39,737.96 L367.68,737.90 L368.96,737.87 L370.24,737.86 L371.53,737.90 L372.81,737.97 L374.09,738.07 L375.38,738.21 L376.66,738.38 L377.94,738.57 L379.23,738.80 L380.51,739.05 L381.79,739.32 L383.08,739.68 L384.36,740.44 L385.65,741.56 L386.93,742.96 L388.21,744.54 L389.50,746.23 L390.78,747.93 L392.06,749.56 L393.35,751.03 L394.63,752.46 L395.91,754.03 L397.20,755.64 L398.48,757.19 L399.76,758.59 L401.05,759.75 L402.33,760.56 L403.62,761.10 L404.90,761.61 L406.18,762.07 L407.47,762.48 L408.75,762.82 L410.03,763.08 L411.32,763.24 L412.60,763.30" fill="none" stroke="#e42a2a" stroke-width="1.3"/>
<path d="M320.30,763.30 L321.13,762.06 L321.96,760.79 L322.79,759.48 L323.62,758.14 L324.46,756.77 L325.29,755.36 L326.12,753.93 L326.95,752.47 L327.78,750.98 L328.61,749.47 L329.44,747.93 L330.27,746.37 L331.10,744.79 L331.93,743.19 L332.77,741.56 L333.60,739.91 L334.43,738.11 L335.26,736.16 L336.09,734.12 L336.92,732.05 L337.75,729.99 L338.58,728.01 L339.41,726.15 L340.24,724.47 L341.08,723.02 L341.91,721.79 L342.74,720.57 L343.57,719.36 L344.40,718.17 L345.23,717.03 L346.06,715.99 L346.89,715.05 L347.72,714.25 L348.55,713.62 L349.39,713.18 L350.22,712.97 L351.05,712.98 L351.88,713.16 L352.71,713.47 L353.54,713.92 L354.37,714.48 L355.20,715.15 L356.03,715.91 L356.86,716.75 L357.70,717.66 L358.53,718.63 L359.36,719.97 L360.19,722.07 L361.02,724.71 L361.85,727.64 L362.68,730.60 L363.51,733.34 L364.34,735.64 L365.17,737.77 L366.01,739.92 L366.84,742.06 L367.67,744.15 L368.50,746.17 L369.33,748.08 L370.16,749.86 L370.99,751.48 L371.82,752.90 L372.65,754.09 L373.48,755.04 L374.32,755.90 L375.15,756.75 L375.98,757.57 L376.81,758.36 L377.64,759.12 L378.47,759.83 L379.30,760.49 L380.13,761.10 L380.96,761.65 L381.79,762.13 L382.63,762.53 L383.46,762.86 L384.29,763.10 L385.12,763.25 L385.95,763.30 L385.95,763.30 L320.30,763.30 Z" fill="rgba(230,118,205,0.4)" stroke="none"/>
<path d="M320.30,763.30 L321.13,762.06 L321.96,760.79 L322.79,759.48 L323.62,758.14 L324.46,756.77 L325.29,755.36 L326.12,753.93 L326.95,752.47 L327.78,750.98 L328.61,749.47 L329.44,747.93 L330.27,746.37 L331.10,744.79 L331.93,743.19 L332.77,741.56 L333.60,739.91 L334.43,738.11 L335.26,736.16 L336.09,734.12 L336.92,732.05 L337.75,729.99 L338.58,728.01 L339.41,726.15 L340.24,724.47 L341.08,723.02 L341.91,721.79 L342.74,720.57 L343.57,719.36 L344.40,718.17 L345.23,717.03 L346.06,715.99 L346.89,715.05 L347.72,714.25 L348.55,713.62 L349.39,713.18 L350.22,712.97 L351.05,712.98 L351.88,713.16 L352.71,713.47 L353.54,713.92 L354.37,714.48 L355.20,715.15 L356.03,715.91 L356.86,716.75 L357.70,717.66 L358.53,718.63 L359.36,719.97 L360.19,722.07 L361.02,724.71 L361.85,727.64 L362.68,730.60 L363.51,733.34 L364.34,735.64 L365.17,737.77 L366.01,739.92 L366.84,742.06 L367.67,744.15 L368.50,746.17 L369.33,748.08 L370.16,749.86 L370.99,751.48 L371.82,752.90 L372.65,754.09 L373.48,755.04 L374.32,755.90 L375.15,756.75 L375.98,757.57 L376.81,758.36 L377.64,759.12 L378.47,759.83 L379.30,760.49 L380.13,761.10 L380.96,761.65 L381.79,762.13 L382.63,762.53 L383.46,762.86 L384.29,763.10 L385.12,763.25 L385.95,763.30" fill="none" stroke="#e878d8" stroke-width="1.3"/>
<path d="M311.20,763.30 L312.20,763.07 L313.19,762.73 L314.19,762.30 L315.18,761.79 L316.18,761.19 L317.17,760.53 L318.17,759.80 L319.16,759.02 L320.16,758.20 L321.16,757.33 L322.15,756.43 L323.15,755.51 L324.14,754.55 L325.14,753.36 L326.13,751.91 L327.13,750.26 L328.12,748.51 L329.12,746.72 L330.12,744.97 L331.11,743.33 L332.11,741.89 L333.10,740.71 L334.10,739.78 L335.09,738.96 L336.09,738.23 L337.08,737.56 L338.08,736.94 L339.08,736.34 L340.07,735.75 L341.07,735.14 L342.06,734.51 L343.06,733.82 L344.05,733.07 L345.05,732.26 L346.04,731.42 L347.04,730.55 L348.04,729.64 L349.03,728.70 L350.03,727.72 L351.02,726.70 L352.02,725.59 L353.01,724.16 L354.01,722.52 L355.01,720.86 L356.00,719.33 L357.00,718.10 L357.99,717.35 L358.99,717.21 L359.98,717.46 L360.98,717.98 L361.97,718.74 L362.97,719.70 L363.97,720.85 L364.96,722.14 L365.96,723.56 L366.95,725.05 L367.95,726.61 L368.94,728.18 L369.94,729.78 L370.93,731.83 L371.93,734.41 L372.93,737.35 L373.92,740.48 L374.92,743.65 L375.91,746.68 L376.91,749.42 L377.90,751.70 L378.90,753.37 L379.89,754.73 L380.89,756.06 L381.89,757.35 L382.88,758.57 L383.88,759.69 L384.87,760.70 L385.87,761.58 L386.86,762.30 L387.86,762.84 L388.85,763.18 L389.85,763.30 L389.85,763.30 L311.20,763.30 Z" fill="rgba(40,40,165,0.4)" stroke="none"/>
<path d="M311.20,763.30 L312.20,763.07 L313.19,762.73 L314.19,762.30 L315.18,761.79 L316.18,761.19 L317.17,760.53 L318.17,759.80 L319.16,759.02 L320.16,758.20 L321.16,757.33 L322.15,756.43 L323.15,755.51 L324.14,754.55 L325.14,753.36 L326.13,751.91 L327.13,750.26 L328.12,748.51 L329.12,746.72 L330.12,744.97 L331.11,743.33 L332.11,741.89 L333.10,740.71 L334.10,739.78 L335.09,738.96 L336.09,738.23 L337.08,737.56 L338.08,736.94 L339.08,736.34 L340.07,735.75 L341.07,735.14 L342.06,734.51 L343.06,733.82 L344.05,733.07 L345.05,732.26 L346.04,731.42 L347.04,730.55 L348.04,729.64 L349.03,728.70 L350.03,727.72 L351.02,726.70 L352.02,725.59 L353.01,724.16 L354.01,722.52 L355.01,720.86 L356.00,719.33 L357.00,718.10 L357.99,717.35 L358.99,717.21 L359.98,717.46 L360.98,717.98 L361.97,718.74 L362.97,719.70 L363.97,720.85 L364.96,722.14 L365.96,723.56 L366.95,725.05 L367.95,726.61 L368.94,728.18 L369.94,729.78 L370.93,731.83 L371.93,734.41 L372.93,737.35 L373.92,740.48 L374.92,743.65 L375.91,746.68 L376.91,749.42 L377.90,751.70 L378.90,753.37 L379.89,754.73 L380.89,756.06 L381.89,757.35 L382.88,758.57 L383.88,759.69 L384.87,760.70 L385.87,761.58 L386.86,762.30 L387.86,762.84 L388.85,763.18 L389.85,763.30" fill="none" stroke="#1c1c96" stroke-width="1.3"/>
<path d="M316.73,763.30 L317.56,761.99 L318.39,760.57 L319.22,759.06 L320.05,757.46 L320.88,755.77 L321.71,754.01 L322.54,752.16 L323.37,750.24 L324.20,748.26 L325.04,746.22 L325.87,744.11 L326.70,741.65 L327.53,738.67 L328.36,735.31 L329.19,731.71 L330.02,728.01 L330.85,724.35 L331.68,720.86 L332.51,717.68 L333.35,714.94 L334.18,712.80 L335.01,711.39 L335.84,710.83 L336.67,711.12 L337.50,711.99 L338.33,713.27 L339.16,714.82 L339.99,716.47 L340.82,718.06 L341.66,719.45 L342.49,720.45 L343.32,721.20 L344.15,721.83 L344.98,722.40 L345.81,722.92 L346.64,723.44 L347.47,723.98 L348.30,724.58 L349.13,725.28 L349.97,726.10 L350.80,727.10 L351.63,728.24 L352.46,729.49 L353.29,730.81 L354.12,732.18 L354.95,733.55 L355.78,734.90 L356.61,736.19 L357.44,737.41 L358.28,738.60 L359.11,739.79 L359.94,740.98 L360.77,742.16 L361.60,743.33 L362.43,744.49 L363.26,745.65 L364.09,746.79 L364.92,747.92 L365.75,749.03 L366.59,750.14 L367.42,751.30 L368.25,752.49 L369.08,753.67 L369.91,754.82 L370.74,755.91 L371.57,756.90 L372.40,757.78 L373.23,758.50 L374.06,759.12 L374.90,759.73 L375.73,760.31 L376.56,760.87 L377.39,761.39 L378.22,761.86 L379.05,762.29 L379.88,762.65 L380.71,762.94 L381.54,763.16 L382.38,763.30 L382.38,763.30 L316.73,763.30 Z" fill="rgba(230,182,97,0.4)" stroke="none"/>
<path d="M316.73,763.30 L317.56,761.99 L318.39,760.57 L319.22,759.06 L320.05,757.46 L320.88,755.77 L321.71,754.01 L322.54,752.16 L323.37,750.24 L324.20,748.26 L325.04,746.22 L325.87,744.11 L326.70,741.65 L327.53,738.67 L328.36,735.31 L329.19,731.71 L330.02,728.01 L330.85,724.35 L331.68,720.86 L332.51,717.68 L333.35,714.94 L334.18,712.80 L335.01,711.39 L335.84,710.83 L336.67,711.12 L337.50,711.99 L338.33,713.27 L339.16,714.82 L339.99,716.47 L340.82,718.06 L341.66,719.45 L342.49,720.45 L343.32,721.20 L344.15,721.83 L344.98,722.40 L345.81,722.92 L346.64,723.44 L347.47,723.98 L348.30,724.58 L349.13,725.28 L349.97,726.10 L350.80,727.10 L351.63,728.24 L352.46,729.49 L353.29,730.81 L354.12,732.18 L354.95,733.55 L355.78,734.90 L356.61,736.19 L357.44,737.41 L358.28,738.60 L359.11,739.79 L359.94,740.98 L360.77,742.16 L361.60,743.33 L362.43,744.49 L363.26,745.65 L364.09,746.79 L364.92,747.92 L365.75,749.03 L366.59,750.14 L367.42,751.30 L368.25,752.49 L369.08,753.67 L369.91,754.82 L370.74,755.91 L371.57,756.90 L372.40,757.78 L373.23,758.50 L374.06,759.12 L374.90,759.73 L375.73,760.31 L376.56,760.87 L377.39,761.39 L378.22,761.86 L379.05,762.29 L379.88,762.65 L380.71,762.94 L381.54,763.16 L382.38,763.30" fill="none" stroke="#eeb450" stroke-width="1.3"/>
<line x1="427.15" y1="750.05" x2="551.15" y2="750.05" stroke="#f2f2f2" stroke-width="0.6"/>
<line x1="427.15" y1="723.55" x2="551.15" y2="723.55" stroke="#f2f2f2" stroke-width="0.6"/>
<line x1="427.15" y1="697.05" x2="551.15" y2="697.05" stroke="#f2f2f2" stroke-width="0.6"/>
<line x1="427.15" y1="670.55" x2="551.15" y2="670.55" stroke="#f2f2f2" stroke-width="0.6"/>
<line x1="432.75" y1="652.20" x2="432.75" y2="767.60" stroke="#f2f2f2" stroke-width="0.6"/>
<line x1="465.25" y1="652.20" x2="465.25" y2="767.60" stroke="#f2f2f2" stroke-width="0.6"/>
<line x1="497.75" y1="652.20" x2="497.75" y2="767.60" stroke="#f2f2f2" stroke-width="0.6"/>
<line x1="530.25" y1="652.20" x2="530.25" y2="767.60" stroke="#f2f2f2" stroke-width="0.6"/>
<line x1="427.15" y1="763.30" x2="551.15" y2="763.30" stroke="#e6e6e6" stroke-width="1.0"/>
<line x1="427.15" y1="736.80" x2="551.15" y2="736.80" stroke="#e6e6e6" stroke-width="1.0"/>
<line x1="427.15" y1="710.30" x2="551.15" y2="710.30" stroke="#e6e6e6" stroke-width="1.0"/>
<line x1="427.15" y1="683.80" x2="551.15" y2="683.80" stroke="#e6e6e6" stroke-width="1.0"/>
<line x1="427.15" y1="657.30" x2="551.15" y2="657.30" stroke="#e6e6e6" stroke-width="1.0"/>
<line x1="449.00" y1="652.20" x2="449.00" y2="767.60" stroke="#e6e6e6" stroke-width="1.0"/>
<line x1="481.50" y1="652.20" x2="481.50" y2="767.60" stroke="#e6e6e6" stroke-width="1.0"/>
<line x1="514.00" y1="652.20" x2="514.00" y2="767.60" stroke="#e6e6e6" stroke-width="1.0"/>
<line x1="546.50" y1="652.20" x2="546.50" y2="767.60" stroke="#e6e6e6" stroke-width="1.0"/>
<text x="489.15" y="647.72" font-size="8.5" text-anchor="middle" fill="#1a1a1a" stroke="#1a1a1a" stroke-width="0.08">MYC targets V1</text>
<path d="M440.55,763.30 L441.85,762.69 L443.14,762.07 L444.44,761.46 L445.73,760.86 L447.03,760.25 L448.33,759.65 L449.62,759.05 L450.92,758.45 L452.21,757.85 L453.51,757.26 L454.80,756.66 L456.10,756.08 L457.40,755.49 L458.69,754.91 L459.99,754.33 L461.28,753.75 L462.58,753.17 L463.88,752.59 L465.17,752.01 L466.47,751.44 L467.76,750.86 L469.06,750.29 L470.36,749.73 L471.65,749.17 L472.95,748.61 L474.24,748.05 L475.54,747.49 L476.83,746.92 L478.13,746.33 L479.43,745.74 L480.72,745.13 L482.02,744.50 L483.31,743.85 L484.61,743.18 L485.91,742.50 L487.20,741.81 L488.50,741.11 L489.79,740.39 L491.09,739.67 L492.39,738.94 L493.68,738.20 L494.98,737.46 L496.27,736.71 L497.57,735.87 L498.86,734.91 L500.16,733.87 L501.46,732.82 L502.75,731.79 L504.05,730.84 L505.34,730.03 L506.64,729.39 L507.94,728.98 L509.23,728.85 L510.53,729.20 L511.82,730.08 L513.12,731.39 L514.42,733.04 L515.71,734.93 L517.01,736.97 L518.30,739.06 L519.60,741.11 L520.89,743.02 L522.19,744.72 L523.49,746.49 L524.78,748.37 L526.08,750.31 L527.37,752.23 L528.67,754.06 L529.97,755.73 L531.26,757.17 L532.56,758.32 L533.85,759.22 L535.15,760.07 L536.45,760.88 L537.74,761.60 L539.04,762.23 L540.33,762.74 L541.63,763.10 L542.92,763.30 L542.92,763.30 L440.55,763.30 Z" fill="rgba(220,35,40,0.4)" stroke="none"/>
<path d="M440.55,763.30 L441.85,762.69 L443.14,762.07 L444.44,761.46 L445.73,760.86 L447.03,760.25 L448.33,759.65 L449.62,759.05 L450.92,758.45 L452.21,757.85 L453.51,757.26 L454.80,756.66 L456.10,756.08 L457.40,755.49 L458.69,754.91 L459.99,754.33 L461.28,753.75 L462.58,753.17 L463.88,752.59 L465.17,752.01 L466.47,751.44 L467.76,750.86 L469.06,750.29 L470.36,749.73 L471.65,749.17 L472.95,748.61 L474.24,748.05 L475.54,747.49 L476.83,746.92 L478.13,746.33 L479.43,745.74 L480.72,745.13 L482.02,744.50 L483.31,743.85 L484.61,743.18 L485.91,742.50 L487.20,741.81 L488.50,741.11 L489.79,740.39 L491.09,739.67 L492.39,738.94 L493.68,738.20 L494.98,737.46 L496.27,736.71 L497.57,735.87 L498.86,734.91 L500.16,733.87 L501.46,732.82 L502.75,731.79 L504.05,730.84 L505.34,730.03 L506.64,729.39 L507.94,728.98 L509.23,728.85 L510.53,729.20 L511.82,730.08 L513.12,731.39 L514.42,733.04 L515.71,734.93 L517.01,736.97 L518.30,739.06 L519.60,741.11 L520.89,743.02 L522.19,744.72 L523.49,746.49 L524.78,748.37 L526.08,750.31 L527.37,752.23 L528.67,754.06 L529.97,755.73 L531.26,757.17 L532.56,758.32 L533.85,759.22 L535.15,760.07 L536.45,760.88 L537.74,761.60 L539.04,762.23 L540.33,762.74 L541.63,763.10 L542.92,763.30" fill="none" stroke="#e42a2a" stroke-width="1.3"/>
<path d="M450.62,763.30 L451.51,763.09 L452.39,762.70 L453.27,762.16 L454.15,761.46 L455.03,760.63 L455.91,759.66 L456.79,758.58 L457.67,757.39 L458.55,756.10 L459.43,754.72 L460.31,753.27 L461.19,751.76 L462.07,750.18 L462.95,748.57 L463.83,746.92 L464.71,745.25 L465.59,743.52 L466.47,741.30 L467.35,738.62 L468.23,735.64 L469.11,732.53 L469.99,729.45 L470.87,726.56 L471.75,724.03 L472.63,721.99 L473.51,720.04 L474.40,718.06 L475.28,716.12 L476.16,714.29 L477.04,712.64 L477.92,711.25 L478.80,710.16 L479.68,709.47 L480.56,709.24 L481.44,709.95 L482.32,711.76 L483.20,714.31 L484.08,717.27 L484.96,720.29 L485.84,723.03 L486.72,725.15 L487.60,726.51 L488.48,727.65 L489.36,728.65 L490.24,729.56 L491.12,730.39 L492.00,731.17 L492.88,731.95 L493.76,732.74 L494.64,733.59 L495.52,734.51 L496.40,735.55 L497.29,736.70 L498.17,737.92 L499.05,739.21 L499.93,740.55 L500.81,741.93 L501.69,743.31 L502.57,744.69 L503.45,746.04 L504.33,747.35 L505.21,748.61 L506.09,749.79 L506.97,750.87 L507.85,751.88 L508.73,752.86 L509.61,753.82 L510.49,754.77 L511.37,755.69 L512.25,756.58 L513.13,757.45 L514.01,758.30 L514.89,759.11 L515.77,759.90 L516.65,760.65 L517.53,761.37 L518.41,762.05 L519.29,762.69 L520.17,763.30 L520.17,763.30 L450.62,763.30 Z" fill="rgba(230,118,205,0.4)" stroke="none"/>
<path d="M450.62,763.30 L451.51,763.09 L452.39,762.70 L453.27,762.16 L454.15,761.46 L455.03,760.63 L455.91,759.66 L456.79,758.58 L457.67,757.39 L458.55,756.10 L459.43,754.72 L460.31,753.27 L461.19,751.76 L462.07,750.18 L462.95,748.57 L463.83,746.92 L464.71,745.25 L465.59,743.52 L466.47,741.30 L467.35,738.62 L468.23,735.64 L469.11,732.53 L469.99,729.45 L470.87,726.56 L471.75,724.03 L472.63,721.99 L473.51,720.04 L474.40,718.06 L475.28,716.12 L476.16,714.29 L477.04,712.64 L477.92,711.25 L478.80,710.16 L479.68,709.47 L480.56,709.24 L481.44,709.95 L482.32,711.76 L483.20,714.31 L484.08,717.27 L484.96,720.29 L485.84,723.03 L486.72,725.15 L487.60,726.51 L488.48,727.65 L489.36,728.65 L490.24,729.56 L491.12,730.39 L492.00,731.17 L492.88,731.95 L493.76,732.74 L494.64,733.59 L495.52,734.51 L496.40,735.55 L497.29,736.70 L498.17,737.92 L499.05,739.21 L499.93,740.55 L500.81,741.93 L501.69,743.31 L502.57,744.69 L503.45,746.04 L504.33,747.35 L505.21,748.61 L506.09,749.79 L506.97,750.87 L507.85,751.88 L508.73,752.86 L509.61,753.82 L510.49,754.77 L511.37,755.69 L512.25,756.58 L513.13,757.45 L514.01,758.30 L514.89,759.11 L515.77,759.90 L516.65,760.65 L517.53,761.37 L518.41,762.05 L519.29,762.69 L520.17,763.30" fill="none" stroke="#e878d8" stroke-width="1.3"/>
<path d="M443.48,763.30 L444.39,762.77 L445.30,762.20 L446.21,761.59 L447.13,760.95 L448.04,760.28 L448.95,759.58 L449.87,758.84 L450.78,758.08 L451.69,757.29 L452.61,756.48 L453.52,755.64 L454.43,754.77 L455.35,753.89 L456.26,752.98 L457.17,752.06 L458.09,751.12 L459.00,750.15 L459.91,749.11 L460.83,748.03 L461.74,746.90 L462.65,745.72 L463.57,744.51 L464.48,743.26 L465.39,741.97 L466.31,740.66 L467.22,739.33 L468.13,737.97 L469.05,736.60 L469.96,735.22 L470.87,733.83 L471.79,732.44 L472.70,731.03 L473.61,729.45 L474.53,727.69 L475.44,725.78 L476.35,723.76 L477.27,721.69 L478.18,719.59 L479.09,717.50 L480.01,715.48 L480.92,713.56 L481.83,711.78 L482.75,710.18 L483.66,708.80 L484.57,707.69 L485.49,706.88 L486.40,706.42 L487.31,706.36 L488.23,706.92 L489.14,708.08 L490.05,709.73 L490.97,711.77 L491.88,714.10 L492.79,716.61 L493.71,719.20 L494.62,721.76 L495.53,724.20 L496.45,726.45 L497.36,728.84 L498.27,731.44 L499.19,734.17 L500.10,736.96 L501.01,739.74 L501.93,742.45 L502.84,745.02 L503.75,747.37 L504.67,749.44 L505.58,751.16 L506.49,752.67 L507.41,754.15 L508.32,755.57 L509.23,756.92 L510.15,758.18 L511.06,759.35 L511.97,760.42 L512.89,761.36 L513.80,762.16 L514.71,762.81 L515.62,763.30 L515.62,763.30 L443.48,763.30 Z" fill="rgba(40,40,165,0.4)" stroke="none"/>
<path d="M443.48,763.30 L444.39,762.77 L445.30,762.20 L446.21,761.59 L447.13,760.95 L448.04,760.28 L448.95,759.58 L449.87,758.84 L450.78,758.08 L451.69,757.29 L452.61,756.48 L453.52,755.64 L454.43,754.77 L455.35,753.89 L456.26,752.98 L457.17,752.06 L458.09,751.12 L459.00,750.15 L459.91,749.11 L460.83,748.03 L461.74,746.90 L462.65,745.72 L463.57,744.51 L464.48,743.26 L465.39,741.97 L466.31,740.66 L467.22,739.33 L468.13,737.97 L469.05,736.60 L469.96,735.22 L470.87,733.83 L471.79,732.44 L472.70,731.03 L473.61,729.45 L474.53,727.69 L475.44,725.78 L476.35,723.76 L477.27,721.69 L478.18,719.59 L479.09,717.50 L480.01,715.48 L480.92,713.56 L481.83,711.78 L482.75,710.18 L483.66,708.80 L484.57,707.69 L485.49,706.88 L486.40,706.42 L487.31,706.36 L488.23,706.92 L489.14,708.08 L490.05,709.73 L490.97,711.77 L491.88,714.10 L492.79,716.61 L493.71,719.20 L494.62,721.76 L495.53,724.20 L496.45,726.45 L497.36,728.84 L498.27,731.44 L499.19,734.17 L500.10,736.96 L501.01,739.74 L501.93,742.45 L502.84,745.02 L503.75,747.37 L504.67,749.44 L505.58,751.16 L506.49,752.67 L507.41,754.15 L508.32,755.57 L509.23,756.92 L510.15,758.18 L511.06,759.35 L511.97,760.42 L512.89,761.36 L513.80,762.16 L514.71,762.81 L515.62,763.30" fill="none" stroke="#1c1c96" stroke-width="1.3"/>
<path d="M450.62,763.30 L451.34,760.19 L452.06,756.98 L452.77,753.67 L453.49,750.27 L454.20,746.76 L454.92,743.17 L455.64,739.48 L456.35,735.69 L457.07,731.82 L457.78,727.52 L458.50,722.47 L459.21,716.88 L459.93,710.94 L460.65,704.88 L461.36,698.88 L462.08,693.17 L462.79,687.93 L463.51,683.39 L464.23,679.74 L464.94,677.19 L465.66,675.94 L466.37,676.31 L467.09,678.55 L467.80,682.28 L468.52,687.05 L469.24,692.42 L469.95,697.97 L470.67,703.25 L471.38,707.84 L472.10,711.48 L472.82,715.07 L473.53,718.69 L474.25,722.24 L474.96,725.60 L475.68,728.67 L476.39,731.34 L477.11,733.51 L477.83,735.05 L478.54,736.09 L479.26,736.95 L479.97,737.67 L480.69,738.28 L481.41,738.82 L482.12,739.33 L482.84,739.83 L483.55,740.36 L484.27,740.95 L484.98,741.64 L485.70,742.46 L486.42,743.43 L487.13,744.51 L487.85,745.68 L488.56,746.90 L489.28,748.15 L490.00,749.38 L490.71,750.58 L491.43,751.70 L492.14,752.71 L492.86,753.60 L493.57,754.47 L494.29,755.33 L495.01,756.16 L495.72,756.96 L496.44,757.73 L497.15,758.45 L497.87,759.10 L498.59,759.70 L499.30,760.21 L500.02,760.65 L500.73,761.03 L501.45,761.40 L502.16,761.76 L502.88,762.09 L503.60,762.39 L504.31,762.67 L505.03,762.90 L505.74,763.09 L506.46,763.22 L507.18,763.30 L507.18,763.30 L450.62,763.30 Z" fill="rgba(230,182,97,0.4)" stroke="none"/>
<path d="M450.62,763.30 L451.34,760.19 L452.06,756.98 L452.77,753.67 L453.49,750.27 L454.20,746.76 L454.92,743.17 L455.64,739.48 L456.35,735.69 L457.07,731.82 L457.78,727.52 L458.50,722.47 L459.21,716.88 L459.93,710.94 L460.65,704.88 L461.36,698.88 L462.08,693.17 L462.79,687.93 L463.51,683.39 L464.23,679.74 L464.94,677.19 L465.66,675.94 L466.37,676.31 L467.09,678.55 L467.80,682.28 L468.52,687.05 L469.24,692.42 L469.95,697.97 L470.67,703.25 L471.38,707.84 L472.10,711.48 L472.82,715.07 L473.53,718.69 L474.25,722.24 L474.96,725.60 L475.68,728.67 L476.39,731.34 L477.11,733.51 L477.83,735.05 L478.54,736.09 L479.26,736.95 L479.97,737.67 L480.69,738.28 L481.41,738.82 L482.12,739.33 L482.84,739.83 L483.55,740.36 L484.27,740.95 L484.98,741.64 L485.70,742.46 L486.42,743.43 L487.13,744.51 L487.85,745.68 L488.56,746.90 L489.28,748.15 L490.00,749.38 L490.71,750.58 L491.43,751.70 L492.14,752.71 L492.86,753.60 L493.57,754.47 L494.29,755.33 L495.01,756.16 L495.72,756.96 L496.44,757.73 L497.15,758.45 L497.87,759.10 L498.59,759.70 L499.30,760.21 L500.02,760.65 L500.73,761.03 L501.45,761.40 L502.16,761.76 L502.88,762.09 L503.60,762.39 L504.31,762.67 L505.03,762.90 L505.74,763.09 L506.46,763.22 L507.18,763.30" fill="none" stroke="#eeb450" stroke-width="1.3"/>
<line x1="556.50" y1="750.05" x2="680.50" y2="750.05" stroke="#f2f2f2" stroke-width="0.6"/>
<line x1="556.50" y1="723.55" x2="680.50" y2="723.55" stroke="#f2f2f2" stroke-width="0.6"/>
<line x1="556.50" y1="697.05" x2="680.50" y2="697.05" stroke="#f2f2f2" stroke-width="0.6"/>
<line x1="556.50" y1="670.55" x2="680.50" y2="670.55" stroke="#f2f2f2" stroke-width="0.6"/>
<line x1="562.10" y1="652.20" x2="562.10" y2="767.60" stroke="#f2f2f2" stroke-width="0.6"/>
<line x1="594.60" y1="652.20" x2="594.60" y2="767.60" stroke="#f2f2f2" stroke-width="0.6"/>
<line x1="627.10" y1="652.20" x2="627.10" y2="767.60" stroke="#f2f2f2" stroke-width="0.6"/>
<line x1="659.60" y1="652.20" x2="659.60" y2="767.60" stroke="#f2f2f2" stroke-width="0.6"/>
<line x1="556.50" y1="763.30" x2="680.50" y2="763.30" stroke="#e6e6e6" stroke-width="1.0"/>
<line x1="556.50" y1="736.80" x2="680.50" y2="736.80" stroke="#e6e6e6" stroke-width="1.0"/>
<line x1="556.50" y1="710.30" x2="680.50" y2="710.30" stroke="#e6e6e6" stroke-width="1.0"/>
<line x1="556.50" y1="683.80" x2="680.50" y2="683.80" stroke="#e6e6e6" stroke-width="1.0"/>
<line x1="556.50" y1="657.30" x2="680.50" y2="657.30" stroke="#e6e6e6" stroke-width="1.0"/>
<line x1="578.35" y1="652.20" x2="578.35" y2="767.60" stroke="#e6e6e6" stroke-width="1.0"/>
<line x1="610.85" y1="652.20" x2="610.85" y2="767.60" stroke="#e6e6e6" stroke-width="1.0"/>
<line x1="643.35" y1="652.20" x2="643.35" y2="767.60" stroke="#e6e6e6" stroke-width="1.0"/>
<line x1="675.85" y1="652.20" x2="675.85" y2="767.60" stroke="#e6e6e6" stroke-width="1.0"/>
<text x="618.50" y="647.72" font-size="8.5" text-anchor="middle" fill="#1a1a1a" stroke="#1a1a1a" stroke-width="0.08">MYC targets V2</text>
<path d="M569.90,763.30 L571.18,762.15 L572.47,761.03 L573.75,759.93 L575.03,758.86 L576.32,757.82 L577.60,756.81 L578.88,755.84 L580.17,754.90 L581.45,753.99 L582.74,753.12 L584.02,752.26 L585.30,751.38 L586.59,750.51 L587.87,749.66 L589.15,748.84 L590.44,748.08 L591.72,747.38 L593.00,746.75 L594.29,746.23 L595.57,745.81 L596.85,745.49 L598.14,745.22 L599.42,744.99 L600.71,744.79 L601.99,744.62 L603.27,744.45 L604.56,744.28 L605.84,744.09 L607.12,743.87 L608.41,743.61 L609.69,743.30 L610.97,742.90 L612.26,742.33 L613.54,741.62 L614.82,740.81 L616.11,739.93 L617.39,739.04 L618.67,738.16 L619.96,737.35 L621.24,736.63 L622.53,735.88 L623.81,735.07 L625.09,734.25 L626.38,733.46 L627.66,732.75 L628.94,732.16 L630.23,731.73 L631.51,731.52 L632.79,731.58 L634.08,731.99 L635.36,732.70 L636.64,733.66 L637.93,734.83 L639.21,736.14 L640.49,737.54 L641.78,738.99 L643.06,740.42 L644.35,741.79 L645.63,743.17 L646.91,744.79 L648.20,746.60 L649.48,748.52 L650.76,750.47 L652.05,752.39 L653.33,754.20 L654.61,755.83 L655.90,757.20 L657.18,758.24 L658.46,758.98 L659.75,759.66 L661.03,760.32 L662.32,760.93 L663.60,761.50 L664.88,762.01 L666.17,762.45 L667.45,762.80 L668.73,763.07 L670.02,763.24 L671.30,763.30 L671.30,763.30 L569.90,763.30 Z" fill="rgba(220,35,40,0.4)" stroke="none"/>
<path d="M569.90,763.30 L571.18,762.15 L572.47,761.03 L573.75,759.93 L575.03,758.86 L576.32,757.82 L577.60,756.81 L578.88,755.84 L580.17,754.90 L581.45,753.99 L582.74,753.12 L584.02,752.26 L585.30,751.38 L586.59,750.51 L587.87,749.66 L589.15,748.84 L590.44,748.08 L591.72,747.38 L593.00,746.75 L594.29,746.23 L595.57,745.81 L596.85,745.49 L598.14,745.22 L599.42,744.99 L600.71,744.79 L601.99,744.62 L603.27,744.45 L604.56,744.28 L605.84,744.09 L607.12,743.87 L608.41,743.61 L609.69,743.30 L610.97,742.90 L612.26,742.33 L613.54,741.62 L614.82,740.81 L616.11,739.93 L617.39,739.04 L618.67,738.16 L619.96,737.35 L621.24,736.63 L622.53,735.88 L623.81,735.07 L625.09,734.25 L626.38,733.46 L627.66,732.75 L628.94,732.16 L630.23,731.73 L631.51,731.52 L632.79,731.58 L634.08,731.99 L635.36,732.70 L636.64,733.66 L637.93,734.83 L639.21,736.14 L640.49,737.54 L641.78,738.99 L643.06,740.42 L644.35,741.79 L645.63,743.17 L646.91,744.79 L648.20,746.60 L649.48,748.52 L650.76,750.47 L652.05,752.39 L653.33,754.20 L654.61,755.83 L655.90,757.20 L657.18,758.24 L658.46,758.98 L659.75,759.66 L661.03,760.32 L662.32,760.93 L663.60,761.50 L664.88,762.01 L666.17,762.45 L667.45,762.80 L668.73,763.07 L670.02,763.24 L671.30,763.30" fill="none" stroke="#e42a2a" stroke-width="1.3"/>
<path d="M584.85,763.30 L585.68,762.85 L586.50,762.25 L587.33,761.51 L588.16,760.65 L588.98,759.67 L589.81,758.59 L590.64,757.42 L591.47,756.18 L592.29,754.88 L593.12,753.54 L593.95,752.14 L594.77,750.48 L595.60,748.55 L596.43,746.41 L597.25,744.11 L598.08,741.72 L598.91,739.30 L599.73,736.88 L600.56,734.55 L601.39,732.31 L602.21,729.96 L603.04,727.49 L603.87,725.01 L604.70,722.60 L605.52,720.37 L606.35,718.41 L607.18,716.82 L608.00,715.48 L608.83,714.15 L609.66,712.90 L610.48,711.82 L611.31,710.97 L612.14,710.44 L612.96,710.31 L613.79,710.76 L614.62,711.75 L615.45,713.18 L616.27,714.95 L617.10,716.93 L617.93,719.04 L618.75,721.14 L619.58,723.22 L620.41,726.00 L621.23,729.37 L622.06,732.90 L622.89,736.18 L623.71,738.79 L624.54,740.31 L625.37,740.69 L626.19,740.90 L627.02,741.07 L627.85,741.18 L628.68,741.28 L629.50,741.35 L630.33,741.43 L631.16,741.52 L631.98,741.64 L632.81,741.80 L633.64,742.01 L634.46,742.38 L635.29,743.18 L636.12,744.33 L636.94,745.75 L637.77,747.32 L638.60,748.95 L639.43,750.55 L640.25,752.01 L641.08,753.24 L641.91,754.30 L642.73,755.34 L643.56,756.36 L644.39,757.35 L645.21,758.31 L646.04,759.24 L646.87,760.13 L647.69,760.98 L648.52,761.80 L649.35,762.57 L650.18,763.30 L650.18,763.30 L584.85,763.30 Z" fill="rgba(230,118,205,0.4)" stroke="none"/>
<path d="M584.85,763.30 L585.68,762.85 L586.50,762.25 L587.33,761.51 L588.16,760.65 L588.98,759.67 L589.81,758.59 L590.64,757.42 L591.47,756.18 L592.29,754.88 L593.12,753.54 L593.95,752.14 L594.77,750.48 L595.60,748.55 L596.43,746.41 L597.25,744.11 L598.08,741.72 L598.91,739.30 L599.73,736.88 L600.56,734.55 L601.39,732.31 L602.21,729.96 L603.04,727.49 L603.87,725.01 L604.70,722.60 L605.52,720.37 L606.35,718.41 L607.18,716.82 L608.00,715.48 L608.83,714.15 L609.66,712.90 L610.48,711.82 L611.31,710.97 L612.14,710.44 L612.96,710.31 L613.79,710.76 L614.62,711.75 L615.45,713.18 L616.27,714.95 L617.10,716.93 L617.93,719.04 L618.75,721.14 L619.58,723.22 L620.41,726.00 L621.23,729.37 L622.06,732.90 L622.89,736.18 L623.71,738.79 L624.54,740.31 L625.37,740.69 L626.19,740.90 L627.02,741.07 L627.85,741.18 L628.68,741.28 L629.50,741.35 L630.33,741.43 L631.16,741.52 L631.98,741.64 L632.81,741.80 L633.64,742.01 L634.46,742.38 L635.29,743.18 L636.12,744.33 L636.94,745.75 L637.77,747.32 L638.60,748.95 L639.43,750.55 L640.25,752.01 L641.08,753.24 L641.91,754.30 L642.73,755.34 L643.56,756.36 L644.39,757.35 L645.21,758.31 L646.04,759.24 L646.87,760.13 L647.69,760.98 L648.52,761.80 L649.35,762.57 L650.18,763.30" fill="none" stroke="#e878d8" stroke-width="1.3"/>
<path d="M571.85,763.30 L572.84,762.58 L573.83,761.80 L574.82,760.99 L575.82,760.13 L576.81,759.23 L577.80,758.30 L578.79,757.33 L579.78,756.32 L580.77,755.28 L581.76,754.22 L582.76,753.12 L583.75,752.00 L584.74,750.86 L585.73,749.62 L586.72,748.27 L587.71,746.83 L588.70,745.33 L589.70,743.79 L590.69,742.24 L591.68,740.69 L592.67,739.19 L593.66,737.74 L594.65,736.38 L595.64,735.13 L596.64,733.88 L597.63,732.56 L598.62,731.21 L599.61,729.83 L600.60,728.46 L601.59,727.12 L602.59,725.82 L603.58,724.60 L604.57,723.48 L605.56,722.48 L606.55,721.63 L607.54,720.94 L608.53,720.44 L609.53,720.16 L610.52,720.12 L611.51,720.28 L612.50,720.63 L613.49,721.12 L614.48,721.74 L615.47,722.46 L616.47,723.25 L617.46,724.09 L618.45,724.94 L619.44,725.79 L620.43,726.74 L621.42,727.85 L622.41,729.10 L623.41,730.47 L624.40,731.93 L625.39,733.48 L626.38,735.08 L627.37,736.72 L628.36,738.37 L629.35,740.03 L630.35,741.65 L631.34,743.24 L632.33,744.77 L633.32,746.42 L634.31,748.18 L635.30,749.99 L636.29,751.80 L637.29,753.54 L638.28,755.15 L639.27,756.59 L640.26,757.78 L641.25,758.67 L642.24,759.44 L643.23,760.20 L644.23,760.91 L645.22,761.56 L646.21,762.14 L647.20,762.62 L648.19,762.98 L649.18,763.22 L650.18,763.30 L650.18,763.30 L571.85,763.30 Z" fill="rgba(40,40,165,0.4)" stroke="none"/>
<path d="M571.85,763.30 L572.84,762.58 L573.83,761.80 L574.82,760.99 L575.82,760.13 L576.81,759.23 L577.80,758.30 L578.79,757.33 L579.78,756.32 L580.77,755.28 L581.76,754.22 L582.76,753.12 L583.75,752.00 L584.74,750.86 L585.73,749.62 L586.72,748.27 L587.71,746.83 L588.70,745.33 L589.70,743.79 L590.69,742.24 L591.68,740.69 L592.67,739.19 L593.66,737.74 L594.65,736.38 L595.64,735.13 L596.64,733.88 L597.63,732.56 L598.62,731.21 L599.61,729.83 L600.60,728.46 L601.59,727.12 L602.59,725.82 L603.58,724.60 L604.57,723.48 L605.56,722.48 L606.55,721.63 L607.54,720.94 L608.53,720.44 L609.53,720.16 L610.52,720.12 L611.51,720.28 L612.50,720.63 L613.49,721.12 L614.48,721.74 L615.47,722.46 L616.47,723.25 L617.46,724.09 L618.45,724.94 L619.44,725.79 L620.43,726.74 L621.42,727.85 L622.41,729.10 L623.41,730.47 L624.40,731.93 L625.39,733.48 L626.38,735.08 L627.37,736.72 L628.36,738.37 L629.35,740.03 L630.35,741.65 L631.34,743.24 L632.33,744.77 L633.32,746.42 L634.31,748.18 L635.30,749.99 L636.29,751.80 L637.29,753.54 L638.28,755.15 L639.27,756.59 L640.26,757.78 L641.25,758.67 L642.24,759.44 L643.23,760.20 L644.23,760.91 L645.22,761.56 L646.21,762.14 L647.20,762.62 L648.19,762.98 L649.18,763.22 L650.18,763.30" fill="none" stroke="#1c1c96" stroke-width="1.3"/>
<path d="M577.38,763.30 L578.11,761.63 L578.85,759.89 L579.58,758.07 L580.32,756.19 L581.06,754.24 L581.79,752.23 L582.53,750.15 L583.27,748.01 L584.00,745.82 L584.74,743.54 L585.48,740.86 L586.21,737.76 L586.95,734.35 L587.68,730.76 L588.42,727.10 L589.16,723.49 L589.89,720.04 L590.63,716.87 L591.37,714.10 L592.10,711.85 L592.84,710.23 L593.58,709.36 L594.31,709.27 L595.05,709.46 L595.78,709.83 L596.52,710.35 L597.26,710.98 L597.99,711.71 L598.73,712.49 L599.47,713.31 L600.20,714.14 L600.94,714.95 L601.68,715.71 L602.41,716.40 L603.15,717.00 L603.89,717.57 L604.62,718.12 L605.36,718.66 L606.09,719.18 L606.83,719.71 L607.57,720.23 L608.30,720.75 L609.04,721.28 L609.78,721.82 L610.51,722.38 L611.25,722.96 L611.99,723.56 L612.72,724.18 L613.46,724.85 L614.19,725.53 L614.93,726.19 L615.67,726.85 L616.40,727.56 L617.14,728.34 L617.88,729.26 L618.61,730.32 L619.35,731.59 L620.09,733.73 L620.82,736.91 L621.56,740.67 L622.29,744.55 L623.03,748.10 L623.77,750.87 L624.50,752.94 L625.24,754.93 L625.98,756.76 L626.71,758.36 L627.45,759.62 L628.19,760.49 L628.92,760.99 L629.66,761.44 L630.40,761.84 L631.13,762.21 L631.87,762.53 L632.60,762.80 L633.34,763.01 L634.08,763.17 L634.81,763.27 L635.55,763.30 L635.55,763.30 L577.38,763.30 Z" fill="rgba(230,182,97,0.4)" stroke="none"/>
<path d="M577.38,763.30 L578.11,761.63 L578.85,759.89 L579.58,758.07 L580.32,756.19 L581.06,754.24 L581.79,752.23 L582.53,750.15 L583.27,748.01 L584.00,745.82 L584.74,743.54 L585.48,740.86 L586.21,737.76 L586.95,734.35 L587.68,730.76 L588.42,727.10 L589.16,723.49 L589.89,720.04 L590.63,716.87 L591.37,714.10 L592.10,711.85 L592.84,710.23 L593.58,709.36 L594.31,709.27 L595.05,709.46 L595.78,709.83 L596.52,710.35 L597.26,710.98 L597.99,711.71 L598.73,712.49 L599.47,713.31 L600.20,714.14 L600.94,714.95 L601.68,715.71 L602.41,716.40 L603.15,717.00 L603.89,717.57 L604.62,718.12 L605.36,718.66 L606.09,719.18 L606.83,719.71 L607.57,720.23 L608.30,720.75 L609.04,721.28 L609.78,721.82 L610.51,722.38 L611.25,722.96 L611.99,723.56 L612.72,724.18 L613.46,724.85 L614.19,725.53 L614.93,726.19 L615.67,726.85 L616.40,727.56 L617.14,728.34 L617.88,729.26 L618.61,730.32 L619.35,731.59 L620.09,733.73 L620.82,736.91 L621.56,740.67 L622.29,744.55 L623.03,748.10 L623.77,750.87 L624.50,752.94 L625.24,754.93 L625.98,756.76 L626.71,758.36 L627.45,759.62 L628.19,760.49 L628.92,760.99 L629.66,761.44 L630.40,761.84 L631.13,762.21 L631.87,762.53 L632.60,762.80 L633.34,763.01 L634.08,763.17 L634.81,763.27 L635.55,763.30" fill="none" stroke="#eeb450" stroke-width="1.3"/>
<line x1="39.10" y1="888.55" x2="163.10" y2="888.55" stroke="#f2f2f2" stroke-width="0.6"/>
<line x1="39.10" y1="862.05" x2="163.10" y2="862.05" stroke="#f2f2f2" stroke-width="0.6"/>
<line x1="39.10" y1="835.55" x2="163.10" y2="835.55" stroke="#f2f2f2" stroke-width="0.6"/>
<line x1="39.10" y1="809.05" x2="163.10" y2="809.05" stroke="#f2f2f2" stroke-width="0.6"/>
<line x1="44.70" y1="789.50" x2="44.70" y2="906.80" stroke="#f2f2f2" stroke-width="0.6"/>
<line x1="77.20" y1="789.50" x2="77.20" y2="906.80" stroke="#f2f2f2" stroke-width="0.6"/>
<line x1="109.70" y1="789.50" x2="109.70" y2="906.80" stroke="#f2f2f2" stroke-width="0.6"/>
<line x1="142.20" y1="789.50" x2="142.20" y2="906.80" stroke="#f2f2f2" stroke-width="0.6"/>
<line x1="39.10" y1="901.80" x2="163.10" y2="901.80" stroke="#e6e6e6" stroke-width="1.0"/>
<line x1="39.10" y1="875.30" x2="163.10" y2="875.30" stroke="#e6e6e6" stroke-width="1.0"/>
<line x1="39.10" y1="848.80" x2="163.10" y2="848.80" stroke="#e6e6e6" stroke-width="1.0"/>
<line x1="39.10" y1="822.30" x2="163.10" y2="822.30" stroke="#e6e6e6" stroke-width="1.0"/>
<line x1="39.10" y1="795.80" x2="163.10" y2="795.80" stroke="#e6e6e6" stroke-width="1.0"/>
<line x1="60.95" y1="789.50" x2="60.95" y2="906.80" stroke="#e6e6e6" stroke-width="1.0"/>
<line x1="93.45" y1="789.50" x2="93.45" y2="906.80" stroke="#e6e6e6" stroke-width="1.0"/>
<line x1="125.95" y1="789.50" x2="125.95" y2="906.80" stroke="#e6e6e6" stroke-width="1.0"/>
<line x1="158.45" y1="789.50" x2="158.45" y2="906.80" stroke="#e6e6e6" stroke-width="1.0"/>
<text x="101.10" y="785.02" font-size="8.5" text-anchor="middle" fill="#1a1a1a" stroke="#1a1a1a" stroke-width="0.08">MTORC1 signaling</text>
<path d="M52.83,901.80 L54.10,901.67 L55.38,901.39 L56.66,900.97 L57.94,900.43 L59.22,899.79 L60.50,899.06 L61.78,898.26 L63.06,897.39 L64.34,896.48 L65.62,895.55 L66.90,894.56 L68.18,893.14 L69.46,891.30 L70.74,889.20 L72.02,887.02 L73.30,884.90 L74.58,883.02 L75.85,881.54 L77.13,880.63 L78.41,880.12 L79.69,879.66 L80.97,879.27 L82.25,878.92 L83.53,878.61 L84.81,878.34 L86.09,878.09 L87.37,877.87 L88.65,877.66 L89.93,877.46 L91.21,877.27 L92.49,877.11 L93.77,876.96 L95.05,876.82 L96.33,876.70 L97.61,876.58 L98.88,876.46 L100.16,876.34 L101.44,876.21 L102.72,876.06 L104.00,875.90 L105.28,875.71 L106.56,875.46 L107.84,875.16 L109.12,874.84 L110.40,874.50 L111.68,874.17 L112.96,873.87 L114.24,873.59 L115.52,873.38 L116.80,873.24 L118.08,873.18 L119.36,873.34 L120.63,873.81 L121.91,874.55 L123.19,875.50 L124.47,876.62 L125.75,877.84 L127.03,879.12 L128.31,880.41 L129.59,881.65 L130.87,882.85 L132.15,884.22 L133.43,885.74 L134.71,887.36 L135.99,889.03 L137.27,890.69 L138.55,892.29 L139.83,893.77 L141.11,895.08 L142.39,896.17 L143.66,897.04 L144.94,897.86 L146.22,898.64 L147.50,899.37 L148.78,900.03 L150.06,900.62 L151.34,901.12 L152.62,901.51 L153.90,901.80 L153.90,901.80 L52.83,901.80 Z" fill="rgba(220,35,40,0.4)" stroke="none"/>
<path d="M52.83,901.80 L54.10,901.67 L55.38,901.39 L56.66,900.97 L57.94,900.43 L59.22,899.79 L60.50,899.06 L61.78,898.26 L63.06,897.39 L64.34,896.48 L65.62,895.55 L66.90,894.56 L68.18,893.14 L69.46,891.30 L70.74,889.20 L72.02,887.02 L73.30,884.90 L74.58,883.02 L75.85,881.54 L77.13,880.63 L78.41,880.12 L79.69,879.66 L80.97,879.27 L82.25,878.92 L83.53,878.61 L84.81,878.34 L86.09,878.09 L87.37,877.87 L88.65,877.66 L89.93,877.46 L91.21,877.27 L92.49,877.11 L93.77,876.96 L95.05,876.82 L96.33,876.70 L97.61,876.58 L98.88,876.46 L100.16,876.34 L101.44,876.21 L102.72,876.06 L104.00,875.90 L105.28,875.71 L106.56,875.46 L107.84,875.16 L109.12,874.84 L110.40,874.50 L111.68,874.17 L112.96,873.87 L114.24,873.59 L115.52,873.38 L116.80,873.24 L118.08,873.18 L119.36,873.34 L120.63,873.81 L121.91,874.55 L123.19,875.50 L124.47,876.62 L125.75,877.84 L127.03,879.12 L128.31,880.41 L129.59,881.65 L130.87,882.85 L132.15,884.22 L133.43,885.74 L134.71,887.36 L135.99,889.03 L137.27,890.69 L138.55,892.29 L139.83,893.77 L141.11,895.08 L142.39,896.17 L143.66,897.04 L144.94,897.86 L146.22,898.64 L147.50,899.37 L148.78,900.03 L150.06,900.62 L151.34,901.12 L152.62,901.51 L153.90,901.80" fill="none" stroke="#e42a2a" stroke-width="1.3"/>
<path d="M62.58,901.80 L63.39,901.05 L64.20,900.17 L65.01,899.17 L65.82,898.07 L66.63,896.86 L67.44,895.55 L68.25,894.15 L69.06,892.67 L69.87,891.10 L70.68,889.47 L71.49,887.78 L72.30,886.02 L73.11,884.22 L73.92,882.37 L74.73,880.48 L75.54,878.56 L76.35,876.32 L77.16,873.53 L77.97,870.36 L78.78,866.97 L79.59,863.54 L80.40,860.22 L81.22,857.19 L82.03,854.61 L82.84,852.66 L83.65,851.49 L84.46,850.86 L85.27,850.29 L86.08,849.78 L86.89,849.36 L87.70,849.05 L88.51,848.86 L89.32,848.80 L90.13,849.08 L90.94,849.76 L91.75,850.76 L92.56,852.02 L93.37,853.44 L94.18,854.97 L94.99,856.51 L95.80,858.01 L96.61,859.38 L97.42,860.56 L98.23,861.70 L99.04,862.92 L99.86,864.18 L100.67,865.46 L101.48,866.71 L102.29,867.90 L103.10,868.98 L103.91,869.93 L104.72,870.70 L105.53,871.26 L106.34,871.57 L107.15,871.69 L107.96,871.77 L108.77,871.82 L109.58,871.87 L110.39,871.93 L111.20,872.01 L112.01,872.13 L112.82,872.74 L113.63,874.10 L114.44,876.03 L115.25,878.36 L116.06,880.91 L116.87,883.52 L117.69,886.01 L118.50,888.21 L119.31,889.96 L120.12,891.52 L120.93,893.03 L121.74,894.48 L122.55,895.88 L123.36,897.21 L124.17,898.47 L124.98,899.66 L125.79,900.77 L126.60,901.80 L126.60,901.80 L62.58,901.80 Z" fill="rgba(230,118,205,0.4)" stroke="none"/>
<path d="M62.58,901.80 L63.39,901.05 L64.20,900.17 L65.01,899.17 L65.82,898.07 L66.63,896.86 L67.44,895.55 L68.25,894.15 L69.06,892.67 L69.87,891.10 L70.68,889.47 L71.49,887.78 L72.30,886.02 L73.11,884.22 L73.92,882.37 L74.73,880.48 L75.54,878.56 L76.35,876.32 L77.16,873.53 L77.97,870.36 L78.78,866.97 L79.59,863.54 L80.40,860.22 L81.22,857.19 L82.03,854.61 L82.84,852.66 L83.65,851.49 L84.46,850.86 L85.27,850.29 L86.08,849.78 L86.89,849.36 L87.70,849.05 L88.51,848.86 L89.32,848.80 L90.13,849.08 L90.94,849.76 L91.75,850.76 L92.56,852.02 L93.37,853.44 L94.18,854.97 L94.99,856.51 L95.80,858.01 L96.61,859.38 L97.42,860.56 L98.23,861.70 L99.04,862.92 L99.86,864.18 L100.67,865.46 L101.48,866.71 L102.29,867.90 L103.10,868.98 L103.91,869.93 L104.72,870.70 L105.53,871.26 L106.34,871.57 L107.15,871.69 L107.96,871.77 L108.77,871.82 L109.58,871.87 L110.39,871.93 L111.20,872.01 L112.01,872.13 L112.82,872.74 L113.63,874.10 L114.44,876.03 L115.25,878.36 L116.06,880.91 L116.87,883.52 L117.69,886.01 L118.50,888.21 L119.31,889.96 L120.12,891.52 L120.93,893.03 L121.74,894.48 L122.55,895.88 L123.36,897.21 L124.17,898.47 L124.98,899.66 L125.79,900.77 L126.60,901.80" fill="none" stroke="#e878d8" stroke-width="1.3"/>
<path d="M53.48,901.80 L54.38,901.76 L55.28,901.63 L56.18,901.42 L57.08,901.13 L57.98,900.78 L58.88,900.36 L59.78,899.88 L60.68,899.34 L61.58,898.76 L62.48,898.12 L63.39,897.45 L64.29,896.75 L65.19,896.01 L66.09,895.24 L66.99,894.39 L67.89,893.18 L68.79,891.63 L69.69,889.80 L70.59,887.75 L71.49,885.54 L72.39,883.22 L73.30,880.86 L74.20,878.52 L75.10,876.25 L76.00,874.12 L76.90,872.18 L77.80,870.40 L78.70,868.51 L79.60,866.53 L80.50,864.49 L81.40,862.43 L82.31,860.38 L83.21,858.39 L84.11,856.49 L85.01,854.71 L85.91,853.10 L86.81,851.69 L87.71,850.52 L88.61,849.62 L89.51,849.04 L90.41,848.80 L91.31,848.92 L92.22,849.34 L93.12,850.01 L94.02,850.89 L94.92,851.95 L95.82,853.14 L96.72,854.42 L97.62,855.76 L98.52,857.11 L99.42,858.43 L100.32,859.68 L101.23,860.83 L102.13,861.95 L103.03,863.07 L103.93,864.21 L104.83,865.38 L105.73,866.58 L106.63,867.83 L107.53,869.14 L108.43,870.52 L109.33,871.99 L110.23,873.56 L111.14,875.39 L112.04,877.50 L112.94,879.80 L113.84,882.22 L114.74,884.68 L115.64,887.12 L116.54,889.46 L117.44,891.62 L118.34,893.52 L119.24,895.10 L120.15,896.49 L121.05,897.78 L121.95,898.97 L122.85,900.04 L123.75,900.99 L124.65,901.80 L124.65,901.80 L53.48,901.80 Z" fill="rgba(40,40,165,0.4)" stroke="none"/>
<path d="M53.48,901.80 L54.38,901.76 L55.28,901.63 L56.18,901.42 L57.08,901.13 L57.98,900.78 L58.88,900.36 L59.78,899.88 L60.68,899.34 L61.58,898.76 L62.48,898.12 L63.39,897.45 L64.29,896.75 L65.19,896.01 L66.09,895.24 L66.99,894.39 L67.89,893.18 L68.79,891.63 L69.69,889.80 L70.59,887.75 L71.49,885.54 L72.39,883.22 L73.30,880.86 L74.20,878.52 L75.10,876.25 L76.00,874.12 L76.90,872.18 L77.80,870.40 L78.70,868.51 L79.60,866.53 L80.50,864.49 L81.40,862.43 L82.31,860.38 L83.21,858.39 L84.11,856.49 L85.01,854.71 L85.91,853.10 L86.81,851.69 L87.71,850.52 L88.61,849.62 L89.51,849.04 L90.41,848.80 L91.31,848.92 L92.22,849.34 L93.12,850.01 L94.02,850.89 L94.92,851.95 L95.82,853.14 L96.72,854.42 L97.62,855.76 L98.52,857.11 L99.42,858.43 L100.32,859.68 L101.23,860.83 L102.13,861.95 L103.03,863.07 L103.93,864.21 L104.83,865.38 L105.73,866.58 L106.63,867.83 L107.53,869.14 L108.43,870.52 L109.33,871.99 L110.23,873.56 L111.14,875.39 L112.04,877.50 L112.94,879.80 L113.84,882.22 L114.74,884.68 L115.64,887.12 L116.54,889.46 L117.44,891.62 L118.34,893.52 L119.24,895.10 L120.15,896.49 L121.05,897.78 L121.95,898.97 L122.85,900.04 L123.75,900.99 L124.65,901.80" fill="none" stroke="#1c1c96" stroke-width="1.3"/>
<path d="M62.58,901.80 L63.27,901.60 L63.97,901.04 L64.66,900.16 L65.36,898.99 L66.05,897.58 L66.75,895.97 L67.44,894.19 L68.14,892.29 L68.83,890.31 L69.53,888.01 L70.22,884.54 L70.92,880.13 L71.61,875.06 L72.31,869.61 L73.00,864.09 L73.70,858.77 L74.39,853.96 L75.09,849.93 L75.78,846.92 L76.48,844.14 L77.18,841.40 L77.87,838.82 L78.57,836.55 L79.26,834.72 L79.96,833.46 L80.65,832.91 L81.35,833.09 L82.04,833.79 L82.74,834.92 L83.43,836.37 L84.13,838.07 L84.82,839.90 L85.52,841.79 L86.21,843.63 L86.91,845.34 L87.60,846.85 L88.30,848.31 L88.99,849.77 L89.69,851.24 L90.39,852.72 L91.08,854.23 L91.78,855.77 L92.47,857.35 L93.17,858.98 L93.86,860.67 L94.56,862.49 L95.25,864.42 L95.95,866.46 L96.64,868.54 L97.34,870.66 L98.03,872.76 L98.73,874.81 L99.42,876.78 L100.12,878.64 L100.81,880.34 L101.51,881.94 L102.20,883.52 L102.90,885.09 L103.59,886.62 L104.29,888.09 L104.99,889.51 L105.68,890.83 L106.38,892.06 L107.07,893.17 L107.77,894.15 L108.46,894.98 L109.16,895.74 L109.85,896.49 L110.55,897.21 L111.24,897.91 L111.94,898.58 L112.63,899.20 L113.33,899.77 L114.02,900.29 L114.72,900.75 L115.41,901.13 L116.11,901.44 L116.80,901.67 L117.50,901.80 L117.50,901.80 L62.58,901.80 Z" fill="rgba(230,182,97,0.4)" stroke="none"/>
<path d="M62.58,901.80 L63.27,901.60 L63.97,901.04 L64.66,900.16 L65.36,898.99 L66.05,897.58 L66.75,895.97 L67.44,894.19 L68.14,892.29 L68.83,890.31 L69.53,888.01 L70.22,884.54 L70.92,880.13 L71.61,875.06 L72.31,869.61 L73.00,864.09 L73.70,858.77 L74.39,853.96 L75.09,849.93 L75.78,846.92 L76.48,844.14 L77.18,841.40 L77.87,838.82 L78.57,836.55 L79.26,834.72 L79.96,833.46 L80.65,832.91 L81.35,833.09 L82.04,833.79 L82.74,834.92 L83.43,836.37 L84.13,838.07 L84.82,839.90 L85.52,841.79 L86.21,843.63 L86.91,845.34 L87.60,846.85 L88.30,848.31 L88.99,849.77 L89.69,851.24 L90.39,852.72 L91.08,854.23 L91.78,855.77 L92.47,857.35 L93.17,858.98 L93.86,860.67 L94.56,862.49 L95.25,864.42 L95.95,866.46 L96.64,868.54 L97.34,870.66 L98.03,872.76 L98.73,874.81 L99.42,876.78 L100.12,878.64 L100.81,880.34 L101.51,881.94 L102.20,883.52 L102.90,885.09 L103.59,886.62 L104.29,888.09 L104.99,889.51 L105.68,890.83 L106.38,892.06 L107.07,893.17 L107.77,894.15 L108.46,894.98 L109.16,895.74 L109.85,896.49 L110.55,897.21 L111.24,897.91 L111.94,898.58 L112.63,899.20 L113.33,899.77 L114.02,900.29 L114.72,900.75 L115.41,901.13 L116.11,901.44 L116.80,901.67 L117.50,901.80" fill="none" stroke="#eeb450" stroke-width="1.3"/>
<text x="34.30" y="904.69" font-size="8.4" text-anchor="end" fill="#4d4d4d" stroke="#4d4d4d" stroke-width="0.08">0.0</text>
<text x="34.30" y="878.19" font-size="8.4" text-anchor="end" fill="#4d4d4d" stroke="#4d4d4d" stroke-width="0.08">0.5</text>
<text x="34.30" y="851.69" font-size="8.4" text-anchor="end" fill="#4d4d4d" stroke="#4d4d4d" stroke-width="0.08">1.0</text>
<text x="34.30" y="825.19" font-size="8.4" text-anchor="end" fill="#4d4d4d" stroke="#4d4d4d" stroke-width="0.08">1.5</text>
<text x="34.30" y="798.69" font-size="8.4" text-anchor="end" fill="#4d4d4d" stroke="#4d4d4d" stroke-width="0.08">2.0</text>
<text x="60.95" y="918.29" font-size="8.4" text-anchor="middle" fill="#4d4d4d" stroke="#4d4d4d" stroke-width="0.08">-1</text>
<text x="93.45" y="918.29" font-size="8.4" text-anchor="middle" fill="#4d4d4d" stroke="#4d4d4d" stroke-width="0.08">0</text>
<text x="125.95" y="918.29" font-size="8.4" text-anchor="middle" fill="#4d4d4d" stroke="#4d4d4d" stroke-width="0.08">1</text>
<text x="158.45" y="918.29" font-size="8.4" text-anchor="middle" fill="#4d4d4d" stroke="#4d4d4d" stroke-width="0.08">2</text>
<line x1="168.45" y1="888.55" x2="292.45" y2="888.55" stroke="#f2f2f2" stroke-width="0.6"/>
<line x1="168.45" y1="862.05" x2="292.45" y2="862.05" stroke="#f2f2f2" stroke-width="0.6"/>
<line x1="168.45" y1="835.55" x2="292.45" y2="835.55" stroke="#f2f2f2" stroke-width="0.6"/>
<line x1="168.45" y1="809.05" x2="292.45" y2="809.05" stroke="#f2f2f2" stroke-width="0.6"/>
<line x1="174.05" y1="789.50" x2="174.05" y2="906.80" stroke="#f2f2f2" stroke-width="0.6"/>
<line x1="206.55" y1="789.50" x2="206.55" y2="906.80" stroke="#f2f2f2" stroke-width="0.6"/>
<line x1="239.05" y1="789.50" x2="239.05" y2="906.80" stroke="#f2f2f2" stroke-width="0.6"/>
<line x1="271.55" y1="789.50" x2="271.55" y2="906.80" stroke="#f2f2f2" stroke-width="0.6"/>
<line x1="168.45" y1="901.80" x2="292.45" y2="901.80" stroke="#e6e6e6" stroke-width="1.0"/>
<line x1="168.45" y1="875.30" x2="292.45" y2="875.30" stroke="#e6e6e6" stroke-width="1.0"/>
<line x1="168.45" y1="848.80" x2="292.45" y2="848.80" stroke="#e6e6e6" stroke-width="1.0"/>
<line x1="168.45" y1="822.30" x2="292.45" y2="822.30" stroke="#e6e6e6" stroke-width="1.0"/>
<line x1="168.45" y1="795.80" x2="292.45" y2="795.80" stroke="#e6e6e6" stroke-width="1.0"/>
<line x1="190.30" y1="789.50" x2="190.30" y2="906.80" stroke="#e6e6e6" stroke-width="1.0"/>
<line x1="222.80" y1="789.50" x2="222.80" y2="906.80" stroke="#e6e6e6" stroke-width="1.0"/>
<line x1="255.30" y1="789.50" x2="255.30" y2="906.80" stroke="#e6e6e6" stroke-width="1.0"/>
<line x1="287.80" y1="789.50" x2="287.80" y2="906.80" stroke="#e6e6e6" stroke-width="1.0"/>
<text x="230.45" y="785.02" font-size="8.5" text-anchor="middle" fill="#1a1a1a" stroke="#1a1a1a" stroke-width="0.08">Inflammatory response</text>
<path d="M181.85,901.80 L183.13,901.04 L184.42,900.27 L185.70,899.47 L186.98,898.65 L188.27,897.82 L189.55,896.97 L190.83,896.09 L192.12,895.21 L193.40,894.30 L194.69,893.38 L195.97,892.44 L197.25,891.47 L198.54,890.46 L199.82,889.42 L201.10,888.35 L202.39,887.28 L203.67,886.19 L204.95,885.11 L206.24,884.04 L207.52,882.98 L208.80,881.94 L210.09,880.82 L211.37,879.58 L212.66,878.28 L213.94,876.94 L215.22,875.61 L216.51,874.32 L217.79,873.11 L219.07,872.01 L220.36,871.06 L221.64,870.30 L222.92,869.77 L224.21,869.50 L225.49,869.54 L226.77,869.94 L228.06,870.58 L229.34,871.35 L230.62,872.11 L231.91,872.75 L233.19,873.12 L234.48,873.18 L235.76,873.18 L237.04,873.18 L238.33,873.18 L239.61,873.18 L240.89,873.18 L242.18,873.18 L243.46,873.18 L244.74,873.18 L246.03,873.18 L247.31,873.21 L248.59,873.64 L249.88,874.47 L251.16,875.59 L252.44,876.90 L253.73,878.30 L255.01,879.67 L256.30,880.93 L257.58,882.29 L258.86,883.80 L260.15,885.41 L261.43,887.07 L262.71,888.73 L264.00,890.33 L265.28,891.84 L266.56,893.19 L267.85,894.34 L269.13,895.25 L270.41,896.10 L271.70,896.92 L272.98,897.71 L274.27,898.46 L275.55,899.16 L276.83,899.81 L278.12,900.38 L279.40,900.87 L280.68,901.28 L281.97,901.59 L283.25,901.80 L283.25,901.80 L181.85,901.80 Z" fill="rgba(220,35,40,0.4)" stroke="none"/>
<path d="M181.85,901.80 L183.13,901.04 L184.42,900.27 L185.70,899.47 L186.98,898.65 L188.27,897.82 L189.55,896.97 L190.83,896.09 L192.12,895.21 L193.40,894.30 L194.69,893.38 L195.97,892.44 L197.25,891.47 L198.54,890.46 L199.82,889.42 L201.10,888.35 L202.39,887.28 L203.67,886.19 L204.95,885.11 L206.24,884.04 L207.52,882.98 L208.80,881.94 L210.09,880.82 L211.37,879.58 L212.66,878.28 L213.94,876.94 L215.22,875.61 L216.51,874.32 L217.79,873.11 L219.07,872.01 L220.36,871.06 L221.64,870.30 L222.92,869.77 L224.21,869.50 L225.49,869.54 L226.77,869.94 L228.06,870.58 L229.34,871.35 L230.62,872.11 L231.91,872.75 L233.19,873.12 L234.48,873.18 L235.76,873.18 L237.04,873.18 L238.33,873.18 L239.61,873.18 L240.89,873.18 L242.18,873.18 L243.46,873.18 L244.74,873.18 L246.03,873.18 L247.31,873.21 L248.59,873.64 L249.88,874.47 L251.16,875.59 L252.44,876.90 L253.73,878.30 L255.01,879.67 L256.30,880.93 L257.58,882.29 L258.86,883.80 L260.15,885.41 L261.43,887.07 L262.71,888.73 L264.00,890.33 L265.28,891.84 L266.56,893.19 L267.85,894.34 L269.13,895.25 L270.41,896.10 L271.70,896.92 L272.98,897.71 L274.27,898.46 L275.55,899.16 L276.83,899.81 L278.12,900.38 L279.40,900.87 L280.68,901.28 L281.97,901.59 L283.25,901.80" fill="none" stroke="#e42a2a" stroke-width="1.3"/>
<path d="M190.30,901.80 L191.13,901.45 L191.96,900.97 L192.79,900.37 L193.62,899.66 L194.46,898.84 L195.29,897.92 L196.12,896.90 L196.95,895.78 L197.78,894.57 L198.61,893.27 L199.44,891.89 L200.27,890.44 L201.10,888.91 L201.93,887.32 L202.77,885.66 L203.60,883.95 L204.43,882.18 L205.26,880.36 L206.09,878.49 L206.92,876.59 L207.75,874.65 L208.58,872.68 L209.41,870.69 L210.24,868.67 L211.08,866.63 L211.91,864.59 L212.74,862.28 L213.57,859.31 L214.40,855.88 L215.23,852.23 L216.06,848.58 L216.89,845.16 L217.72,842.20 L218.55,839.92 L219.39,838.53 L220.22,837.51 L221.05,836.59 L221.88,835.83 L222.71,835.29 L223.54,835.03 L224.37,835.31 L225.20,836.55 L226.03,838.57 L226.86,841.11 L227.70,843.95 L228.53,846.92 L229.36,851.36 L230.19,857.11 L231.02,863.20 L231.85,868.69 L232.68,872.60 L233.51,874.79 L234.34,876.71 L235.17,878.45 L236.01,880.01 L236.84,881.42 L237.67,882.70 L238.50,883.87 L239.33,884.95 L240.16,885.96 L240.99,886.90 L241.82,887.82 L242.65,888.71 L243.48,889.61 L244.32,890.53 L245.15,891.49 L245.98,892.44 L246.81,893.37 L247.64,894.28 L248.47,895.17 L249.30,896.02 L250.13,896.86 L250.96,897.66 L251.79,898.43 L252.63,899.18 L253.46,899.88 L254.29,900.56 L255.12,901.20 L255.95,901.80 L255.95,901.80 L190.30,901.80 Z" fill="rgba(230,118,205,0.4)" stroke="none"/>
<path d="M190.30,901.80 L191.13,901.45 L191.96,900.97 L192.79,900.37 L193.62,899.66 L194.46,898.84 L195.29,897.92 L196.12,896.90 L196.95,895.78 L197.78,894.57 L198.61,893.27 L199.44,891.89 L200.27,890.44 L201.10,888.91 L201.93,887.32 L202.77,885.66 L203.60,883.95 L204.43,882.18 L205.26,880.36 L206.09,878.49 L206.92,876.59 L207.75,874.65 L208.58,872.68 L209.41,870.69 L210.24,868.67 L211.08,866.63 L211.91,864.59 L212.74,862.28 L213.57,859.31 L214.40,855.88 L215.23,852.23 L216.06,848.58 L216.89,845.16 L217.72,842.20 L218.55,839.92 L219.39,838.53 L220.22,837.51 L221.05,836.59 L221.88,835.83 L222.71,835.29 L223.54,835.03 L224.37,835.31 L225.20,836.55 L226.03,838.57 L226.86,841.11 L227.70,843.95 L228.53,846.92 L229.36,851.36 L230.19,857.11 L231.02,863.20 L231.85,868.69 L232.68,872.60 L233.51,874.79 L234.34,876.71 L235.17,878.45 L236.01,880.01 L236.84,881.42 L237.67,882.70 L238.50,883.87 L239.33,884.95 L240.16,885.96 L240.99,886.90 L241.82,887.82 L242.65,888.71 L243.48,889.61 L244.32,890.53 L245.15,891.49 L245.98,892.44 L246.81,893.37 L247.64,894.28 L248.47,895.17 L249.30,896.02 L250.13,896.86 L250.96,897.66 L251.79,898.43 L252.63,899.18 L253.46,899.88 L254.29,900.56 L255.12,901.20 L255.95,901.80" fill="none" stroke="#e878d8" stroke-width="1.3"/>
<path d="M186.40,901.80 L187.23,901.73 L188.06,901.54 L188.89,901.22 L189.72,900.79 L190.56,900.25 L191.39,899.61 L192.22,898.88 L193.05,898.06 L193.88,897.16 L194.71,896.18 L195.54,895.14 L196.37,894.03 L197.20,892.88 L198.03,891.67 L198.87,890.43 L199.70,889.11 L200.53,887.32 L201.36,884.99 L202.19,882.21 L203.02,879.06 L203.85,875.60 L204.68,871.92 L205.51,868.09 L206.34,864.20 L207.18,860.31 L208.01,856.51 L208.84,852.88 L209.67,849.48 L210.50,846.29 L211.33,842.66 L212.16,838.78 L212.99,834.96 L213.82,831.55 L214.65,828.90 L215.49,827.34 L216.32,827.17 L217.15,828.17 L217.98,830.09 L218.81,832.72 L219.64,835.85 L220.47,839.28 L221.30,842.80 L222.13,846.22 L222.96,849.32 L223.80,852.28 L224.63,855.67 L225.46,859.31 L226.29,862.99 L227.12,866.51 L227.95,869.66 L228.78,872.24 L229.61,874.03 L230.44,874.87 L231.27,875.25 L232.11,875.51 L232.94,875.70 L233.77,875.86 L234.60,876.03 L235.43,876.27 L236.26,876.61 L237.09,877.20 L237.92,878.93 L238.75,881.57 L239.58,884.57 L240.42,887.38 L241.25,889.47 L242.08,890.90 L242.91,892.30 L243.74,893.67 L244.57,894.99 L245.40,896.24 L246.23,897.41 L247.06,898.47 L247.89,899.42 L248.73,900.23 L249.56,900.89 L250.39,901.39 L251.22,901.69 L252.05,901.80 L252.05,901.80 L186.40,901.80 Z" fill="rgba(40,40,165,0.4)" stroke="none"/>
<path d="M186.40,901.80 L187.23,901.73 L188.06,901.54 L188.89,901.22 L189.72,900.79 L190.56,900.25 L191.39,899.61 L192.22,898.88 L193.05,898.06 L193.88,897.16 L194.71,896.18 L195.54,895.14 L196.37,894.03 L197.20,892.88 L198.03,891.67 L198.87,890.43 L199.70,889.11 L200.53,887.32 L201.36,884.99 L202.19,882.21 L203.02,879.06 L203.85,875.60 L204.68,871.92 L205.51,868.09 L206.34,864.20 L207.18,860.31 L208.01,856.51 L208.84,852.88 L209.67,849.48 L210.50,846.29 L211.33,842.66 L212.16,838.78 L212.99,834.96 L213.82,831.55 L214.65,828.90 L215.49,827.34 L216.32,827.17 L217.15,828.17 L217.98,830.09 L218.81,832.72 L219.64,835.85 L220.47,839.28 L221.30,842.80 L222.13,846.22 L222.96,849.32 L223.80,852.28 L224.63,855.67 L225.46,859.31 L226.29,862.99 L227.12,866.51 L227.95,869.66 L228.78,872.24 L229.61,874.03 L230.44,874.87 L231.27,875.25 L232.11,875.51 L232.94,875.70 L233.77,875.86 L234.60,876.03 L235.43,876.27 L236.26,876.61 L237.09,877.20 L237.92,878.93 L238.75,881.57 L239.58,884.57 L240.42,887.38 L241.25,889.47 L242.08,890.90 L242.91,892.30 L243.74,893.67 L244.57,894.99 L245.40,896.24 L246.23,897.41 L247.06,898.47 L247.89,899.42 L248.73,900.23 L249.56,900.89 L250.39,901.39 L251.22,901.69 L252.05,901.80" fill="none" stroke="#1c1c96" stroke-width="1.3"/>
<path d="M191.92,901.80 L192.64,899.78 L193.36,897.74 L194.07,895.69 L194.79,893.63 L195.50,891.55 L196.22,889.47 L196.94,887.37 L197.65,885.26 L198.37,883.13 L199.08,881.00 L199.80,878.85 L200.51,876.70 L201.23,874.53 L201.95,872.35 L202.66,870.16 L203.38,867.95 L204.09,865.74 L204.81,863.50 L205.53,861.06 L206.24,858.37 L206.96,855.50 L207.67,852.50 L208.39,849.42 L209.10,846.30 L209.82,843.21 L210.54,840.20 L211.25,837.31 L211.97,834.60 L212.68,832.13 L213.40,829.93 L214.12,828.07 L214.83,826.60 L215.55,825.57 L216.26,825.02 L216.98,825.02 L217.69,825.53 L218.41,826.49 L219.13,827.82 L219.84,829.45 L220.56,831.30 L221.27,833.32 L221.99,835.41 L222.71,837.52 L223.42,839.62 L224.14,842.13 L224.85,845.03 L225.57,848.20 L226.28,851.50 L227.00,854.80 L227.72,857.97 L228.43,860.88 L229.15,863.64 L229.86,866.35 L230.58,868.99 L231.30,871.56 L232.01,874.05 L232.73,876.50 L233.44,879.04 L234.16,881.50 L234.87,883.71 L235.59,885.49 L236.31,886.78 L237.02,887.86 L237.74,888.80 L238.45,889.63 L239.17,890.40 L239.89,891.15 L240.60,891.93 L241.32,892.78 L242.03,893.68 L242.75,894.58 L243.46,895.48 L244.18,896.38 L244.90,897.28 L245.61,898.18 L246.33,899.08 L247.04,899.99 L247.76,900.89 L248.47,901.80 L248.47,901.80 L191.92,901.80 Z" fill="rgba(230,182,97,0.4)" stroke="none"/>
<path d="M191.92,901.80 L192.64,899.78 L193.36,897.74 L194.07,895.69 L194.79,893.63 L195.50,891.55 L196.22,889.47 L196.94,887.37 L197.65,885.26 L198.37,883.13 L199.08,881.00 L199.80,878.85 L200.51,876.70 L201.23,874.53 L201.95,872.35 L202.66,870.16 L203.38,867.95 L204.09,865.74 L204.81,863.50 L205.53,861.06 L206.24,858.37 L206.96,855.50 L207.67,852.50 L208.39,849.42 L209.10,846.30 L209.82,843.21 L210.54,840.20 L211.25,837.31 L211.97,834.60 L212.68,832.13 L213.40,829.93 L214.12,828.07 L214.83,826.60 L215.55,825.57 L216.26,825.02 L216.98,825.02 L217.69,825.53 L218.41,826.49 L219.13,827.82 L219.84,829.45 L220.56,831.30 L221.27,833.32 L221.99,835.41 L222.71,837.52 L223.42,839.62 L224.14,842.13 L224.85,845.03 L225.57,848.20 L226.28,851.50 L227.00,854.80 L227.72,857.97 L228.43,860.88 L229.15,863.64 L229.86,866.35 L230.58,868.99 L231.30,871.56 L232.01,874.05 L232.73,876.50 L233.44,879.04 L234.16,881.50 L234.87,883.71 L235.59,885.49 L236.31,886.78 L237.02,887.86 L237.74,888.80 L238.45,889.63 L239.17,890.40 L239.89,891.15 L240.60,891.93 L241.32,892.78 L242.03,893.68 L242.75,894.58 L243.46,895.48 L244.18,896.38 L244.90,897.28 L245.61,898.18 L246.33,899.08 L247.04,899.99 L247.76,900.89 L248.47,901.80" fill="none" stroke="#eeb450" stroke-width="1.3"/>
<text x="190.30" y="918.29" font-size="8.4" text-anchor="middle" fill="#4d4d4d" stroke="#4d4d4d" stroke-width="0.08">-1</text>
<text x="222.80" y="918.29" font-size="8.4" text-anchor="middle" fill="#4d4d4d" stroke="#4d4d4d" stroke-width="0.08">0</text>
<text x="255.30" y="918.29" font-size="8.4" text-anchor="middle" fill="#4d4d4d" stroke="#4d4d4d" stroke-width="0.08">1</text>
<text x="287.80" y="918.29" font-size="8.4" text-anchor="middle" fill="#4d4d4d" stroke="#4d4d4d" stroke-width="0.08">2</text>
<line x1="297.80" y1="888.55" x2="421.80" y2="888.55" stroke="#f2f2f2" stroke-width="0.6"/>
<line x1="297.80" y1="862.05" x2="421.80" y2="862.05" stroke="#f2f2f2" stroke-width="0.6"/>
<line x1="297.80" y1="835.55" x2="421.80" y2="835.55" stroke="#f2f2f2" stroke-width="0.6"/>
<line x1="297.80" y1="809.05" x2="421.80" y2="809.05" stroke="#f2f2f2" stroke-width="0.6"/>
<line x1="303.40" y1="789.50" x2="303.40" y2="906.80" stroke="#f2f2f2" stroke-width="0.6"/>
<line x1="335.90" y1="789.50" x2="335.90" y2="906.80" stroke="#f2f2f2" stroke-width="0.6"/>
<line x1="368.40" y1="789.50" x2="368.40" y2="906.80" stroke="#f2f2f2" stroke-width="0.6"/>
<line x1="400.90" y1="789.50" x2="400.90" y2="906.80" stroke="#f2f2f2" stroke-width="0.6"/>
<line x1="297.80" y1="901.80" x2="421.80" y2="901.80" stroke="#e6e6e6" stroke-width="1.0"/>
<line x1="297.80" y1="875.30" x2="421.80" y2="875.30" stroke="#e6e6e6" stroke-width="1.0"/>
<line x1="297.80" y1="848.80" x2="421.80" y2="848.80" stroke="#e6e6e6" stroke-width="1.0"/>
<line x1="297.80" y1="822.30" x2="421.80" y2="822.30" stroke="#e6e6e6" stroke-width="1.0"/>
<line x1="297.80" y1="795.80" x2="421.80" y2="795.80" stroke="#e6e6e6" stroke-width="1.0"/>
<line x1="319.65" y1="789.50" x2="319.65" y2="906.80" stroke="#e6e6e6" stroke-width="1.0"/>
<line x1="352.15" y1="789.50" x2="352.15" y2="906.80" stroke="#e6e6e6" stroke-width="1.0"/>
<line x1="384.65" y1="789.50" x2="384.65" y2="906.80" stroke="#e6e6e6" stroke-width="1.0"/>
<line x1="417.15" y1="789.50" x2="417.15" y2="906.80" stroke="#e6e6e6" stroke-width="1.0"/>
<text x="359.80" y="785.02" font-size="8.5" text-anchor="middle" fill="#1a1a1a" stroke="#1a1a1a" stroke-width="0.08">IL6-JAK-STAT3 signaling</text>
<path d="M311.20,901.80 L312.48,901.50 L313.77,901.07 L315.05,900.55 L316.33,899.92 L317.62,899.21 L318.90,898.43 L320.18,897.59 L321.47,896.69 L322.75,895.75 L324.04,894.79 L325.32,893.60 L326.60,892.13 L327.89,890.44 L329.17,888.61 L330.45,886.71 L331.74,884.79 L333.02,882.94 L334.30,881.23 L335.59,879.72 L336.87,878.48 L338.15,877.39 L339.44,876.27 L340.72,875.17 L342.01,874.11 L343.29,873.12 L344.57,872.25 L345.86,871.52 L347.14,870.97 L348.42,870.63 L349.71,870.53 L350.99,870.60 L352.27,870.76 L353.56,870.97 L354.84,871.19 L356.12,871.39 L357.41,871.54 L358.69,871.59 L359.97,871.26 L361.26,870.44 L362.54,869.30 L363.83,868.00 L365.11,866.73 L366.39,865.64 L367.68,864.91 L368.96,864.71 L370.24,865.22 L371.53,866.34 L372.81,867.92 L374.09,869.81 L375.38,871.85 L376.66,873.90 L377.94,875.79 L379.23,877.40 L380.51,878.95 L381.79,880.51 L383.08,882.07 L384.36,883.59 L385.65,885.07 L386.93,886.48 L388.21,887.81 L389.50,889.13 L390.78,890.48 L392.06,891.83 L393.35,893.14 L394.63,894.39 L395.91,895.55 L397.20,896.60 L398.48,897.51 L399.76,898.25 L401.05,898.81 L402.33,899.32 L403.62,899.81 L404.90,900.28 L406.18,900.70 L407.47,901.06 L408.75,901.37 L410.03,901.60 L411.32,901.75 L412.60,901.80 L412.60,901.80 L311.20,901.80 Z" fill="rgba(220,35,40,0.4)" stroke="none"/>
<path d="M311.20,901.80 L312.48,901.50 L313.77,901.07 L315.05,900.55 L316.33,899.92 L317.62,899.21 L318.90,898.43 L320.18,897.59 L321.47,896.69 L322.75,895.75 L324.04,894.79 L325.32,893.60 L326.60,892.13 L327.89,890.44 L329.17,888.61 L330.45,886.71 L331.74,884.79 L333.02,882.94 L334.30,881.23 L335.59,879.72 L336.87,878.48 L338.15,877.39 L339.44,876.27 L340.72,875.17 L342.01,874.11 L343.29,873.12 L344.57,872.25 L345.86,871.52 L347.14,870.97 L348.42,870.63 L349.71,870.53 L350.99,870.60 L352.27,870.76 L353.56,870.97 L354.84,871.19 L356.12,871.39 L357.41,871.54 L358.69,871.59 L359.97,871.26 L361.26,870.44 L362.54,869.30 L363.83,868.00 L365.11,866.73 L366.39,865.64 L367.68,864.91 L368.96,864.71 L370.24,865.22 L371.53,866.34 L372.81,867.92 L374.09,869.81 L375.38,871.85 L376.66,873.90 L377.94,875.79 L379.23,877.40 L380.51,878.95 L381.79,880.51 L383.08,882.07 L384.36,883.59 L385.65,885.07 L386.93,886.48 L388.21,887.81 L389.50,889.13 L390.78,890.48 L392.06,891.83 L393.35,893.14 L394.63,894.39 L395.91,895.55 L397.20,896.60 L398.48,897.51 L399.76,898.25 L401.05,898.81 L402.33,899.32 L403.62,899.81 L404.90,900.28 L406.18,900.70 L407.47,901.06 L408.75,901.37 L410.03,901.60 L411.32,901.75 L412.60,901.80" fill="none" stroke="#e42a2a" stroke-width="1.3"/>
<path d="M320.30,901.80 L321.07,900.32 L321.83,898.84 L322.60,897.34 L323.36,895.83 L324.13,894.31 L324.89,892.79 L325.66,891.25 L326.42,889.70 L327.19,888.15 L327.95,886.58 L328.72,885.00 L329.48,883.42 L330.25,881.83 L331.01,880.23 L331.78,878.62 L332.54,877.00 L333.31,875.38 L334.07,873.75 L334.84,872.11 L335.60,870.46 L336.37,868.81 L337.13,867.15 L337.90,865.48 L338.66,863.80 L339.43,861.95 L340.19,859.90 L340.96,857.70 L341.73,855.39 L342.49,853.05 L343.26,850.71 L344.02,848.44 L344.79,846.28 L345.55,844.29 L346.32,842.53 L347.08,841.03 L347.85,839.87 L348.61,839.09 L349.38,838.74 L350.14,838.77 L350.91,838.93 L351.67,839.20 L352.44,839.57 L353.20,840.04 L353.97,840.59 L354.73,841.22 L355.50,841.91 L356.26,842.69 L357.03,844.14 L357.79,846.33 L358.56,849.07 L359.32,852.18 L360.09,855.49 L360.86,858.80 L361.62,861.93 L362.39,864.73 L363.15,867.53 L363.92,870.48 L364.68,873.50 L365.45,876.52 L366.21,879.46 L366.98,882.23 L367.74,884.76 L368.51,886.98 L369.27,888.79 L370.04,890.19 L370.80,891.49 L371.57,892.76 L372.33,893.99 L373.10,895.17 L373.86,896.28 L374.63,897.33 L375.39,898.29 L376.16,899.16 L376.92,899.92 L377.69,900.57 L378.45,901.09 L379.22,901.48 L379.98,901.72 L380.75,901.80 L380.75,901.80 L320.30,901.80 Z" fill="rgba(230,118,205,0.4)" stroke="none"/>
<path d="M320.30,901.80 L321.07,900.32 L321.83,898.84 L322.60,897.34 L323.36,895.83 L324.13,894.31 L324.89,892.79 L325.66,891.25 L326.42,889.70 L327.19,888.15 L327.95,886.58 L328.72,885.00 L329.48,883.42 L330.25,881.83 L331.01,880.23 L331.78,878.62 L332.54,877.00 L333.31,875.38 L334.07,873.75 L334.84,872.11 L335.60,870.46 L336.37,868.81 L337.13,867.15 L337.90,865.48 L338.66,863.80 L339.43,861.95 L340.19,859.90 L340.96,857.70 L341.73,855.39 L342.49,853.05 L343.26,850.71 L344.02,848.44 L344.79,846.28 L345.55,844.29 L346.32,842.53 L347.08,841.03 L347.85,839.87 L348.61,839.09 L349.38,838.74 L350.14,838.77 L350.91,838.93 L351.67,839.20 L352.44,839.57 L353.20,840.04 L353.97,840.59 L354.73,841.22 L355.50,841.91 L356.26,842.69 L357.03,844.14 L357.79,846.33 L358.56,849.07 L359.32,852.18 L360.09,855.49 L360.86,858.80 L361.62,861.93 L362.39,864.73 L363.15,867.53 L363.92,870.48 L364.68,873.50 L365.45,876.52 L366.21,879.46 L366.98,882.23 L367.74,884.76 L368.51,886.98 L369.27,888.79 L370.04,890.19 L370.80,891.49 L371.57,892.76 L372.33,893.99 L373.10,895.17 L373.86,896.28 L374.63,897.33 L375.39,898.29 L376.16,899.16 L376.92,899.92 L377.69,900.57 L378.45,901.09 L379.22,901.48 L379.98,901.72 L380.75,901.80" fill="none" stroke="#e878d8" stroke-width="1.3"/>
<path d="M313.15,901.80 L314.03,901.55 L314.90,901.19 L315.78,900.75 L316.66,900.22 L317.53,899.61 L318.41,898.93 L319.28,898.19 L320.16,897.39 L321.04,896.53 L321.91,895.63 L322.79,894.68 L323.67,893.71 L324.54,892.70 L325.42,891.68 L326.29,890.62 L327.17,889.39 L328.05,888.00 L328.92,886.47 L329.80,884.81 L330.68,883.06 L331.55,881.22 L332.43,879.32 L333.30,877.38 L334.18,875.42 L335.06,873.45 L335.93,871.51 L336.81,869.61 L337.69,867.62 L338.56,865.38 L339.44,862.95 L340.31,860.36 L341.19,857.66 L342.07,854.92 L342.94,852.17 L343.82,849.46 L344.70,846.84 L345.57,844.36 L346.45,842.07 L347.32,840.02 L348.20,838.26 L349.08,836.83 L349.95,835.78 L350.83,835.17 L351.71,835.07 L352.58,836.35 L353.46,839.06 L354.33,842.83 L355.21,847.28 L356.09,852.03 L356.96,856.72 L357.84,860.97 L358.72,864.39 L359.59,867.36 L360.47,870.28 L361.34,873.13 L362.22,875.87 L363.10,878.47 L363.97,880.90 L364.85,883.11 L365.73,885.09 L366.60,886.82 L367.48,888.46 L368.35,890.01 L369.23,891.46 L370.11,892.80 L370.98,894.01 L371.86,895.08 L372.74,896.01 L373.61,896.79 L374.49,897.52 L375.36,898.24 L376.24,898.92 L377.12,899.56 L377.99,900.14 L378.87,900.65 L379.75,901.08 L380.62,901.43 L381.50,901.67 L382.38,901.80 L382.38,901.80 L313.15,901.80 Z" fill="rgba(40,40,165,0.4)" stroke="none"/>
<path d="M313.15,901.80 L314.03,901.55 L314.90,901.19 L315.78,900.75 L316.66,900.22 L317.53,899.61 L318.41,898.93 L319.28,898.19 L320.16,897.39 L321.04,896.53 L321.91,895.63 L322.79,894.68 L323.67,893.71 L324.54,892.70 L325.42,891.68 L326.29,890.62 L327.17,889.39 L328.05,888.00 L328.92,886.47 L329.80,884.81 L330.68,883.06 L331.55,881.22 L332.43,879.32 L333.30,877.38 L334.18,875.42 L335.06,873.45 L335.93,871.51 L336.81,869.61 L337.69,867.62 L338.56,865.38 L339.44,862.95 L340.31,860.36 L341.19,857.66 L342.07,854.92 L342.94,852.17 L343.82,849.46 L344.70,846.84 L345.57,844.36 L346.45,842.07 L347.32,840.02 L348.20,838.26 L349.08,836.83 L349.95,835.78 L350.83,835.17 L351.71,835.07 L352.58,836.35 L353.46,839.06 L354.33,842.83 L355.21,847.28 L356.09,852.03 L356.96,856.72 L357.84,860.97 L358.72,864.39 L359.59,867.36 L360.47,870.28 L361.34,873.13 L362.22,875.87 L363.10,878.47 L363.97,880.90 L364.85,883.11 L365.73,885.09 L366.60,886.82 L367.48,888.46 L368.35,890.01 L369.23,891.46 L370.11,892.80 L370.98,894.01 L371.86,895.08 L372.74,896.01 L373.61,896.79 L374.49,897.52 L375.36,898.24 L376.24,898.92 L377.12,899.56 L377.99,900.14 L378.87,900.65 L379.75,901.08 L380.62,901.43 L381.50,901.67 L382.38,901.80" fill="none" stroke="#1c1c96" stroke-width="1.3"/>
<path d="M327.78,901.80 L328.38,900.33 L328.98,898.67 L329.58,896.83 L330.18,894.83 L330.78,892.67 L331.38,890.36 L331.98,887.92 L332.58,885.35 L333.18,882.66 L333.78,879.87 L334.38,876.98 L334.98,874.00 L335.58,870.95 L336.18,867.83 L336.78,864.65 L337.39,861.24 L337.99,857.32 L338.59,853.03 L339.19,848.47 L339.79,843.79 L340.39,839.09 L340.99,834.52 L341.59,830.19 L342.19,826.22 L342.79,822.51 L343.39,818.44 L343.99,814.32 L344.59,810.52 L345.19,807.42 L345.79,805.40 L346.39,804.83 L347.00,805.88 L347.60,808.26 L348.20,811.64 L348.80,815.70 L349.40,820.10 L350.00,824.51 L350.60,828.62 L351.20,833.11 L351.80,838.30 L352.40,843.86 L353.00,849.44 L353.60,854.71 L354.20,859.32 L354.80,862.95 L355.40,865.43 L356.00,867.48 L356.61,869.28 L357.21,870.87 L357.81,872.31 L358.41,873.64 L359.01,874.93 L359.61,876.21 L360.21,877.55 L360.81,879.00 L361.41,880.51 L362.01,882.07 L362.61,883.65 L363.21,885.23 L363.81,886.78 L364.41,888.29 L365.01,889.74 L365.61,891.10 L366.22,892.35 L366.82,893.47 L367.42,894.44 L368.02,895.26 L368.62,896.04 L369.22,896.80 L369.82,897.54 L370.42,898.24 L371.02,898.90 L371.62,899.52 L372.22,900.08 L372.82,900.57 L373.42,901.00 L374.02,901.35 L374.62,901.62 L375.23,901.80 L375.23,901.80 L327.78,901.80 Z" fill="rgba(230,182,97,0.4)" stroke="none"/>
<path d="M327.78,901.80 L328.38,900.33 L328.98,898.67 L329.58,896.83 L330.18,894.83 L330.78,892.67 L331.38,890.36 L331.98,887.92 L332.58,885.35 L333.18,882.66 L333.78,879.87 L334.38,876.98 L334.98,874.00 L335.58,870.95 L336.18,867.83 L336.78,864.65 L337.39,861.24 L337.99,857.32 L338.59,853.03 L339.19,848.47 L339.79,843.79 L340.39,839.09 L340.99,834.52 L341.59,830.19 L342.19,826.22 L342.79,822.51 L343.39,818.44 L343.99,814.32 L344.59,810.52 L345.19,807.42 L345.79,805.40 L346.39,804.83 L347.00,805.88 L347.60,808.26 L348.20,811.64 L348.80,815.70 L349.40,820.10 L350.00,824.51 L350.60,828.62 L351.20,833.11 L351.80,838.30 L352.40,843.86 L353.00,849.44 L353.60,854.71 L354.20,859.32 L354.80,862.95 L355.40,865.43 L356.00,867.48 L356.61,869.28 L357.21,870.87 L357.81,872.31 L358.41,873.64 L359.01,874.93 L359.61,876.21 L360.21,877.55 L360.81,879.00 L361.41,880.51 L362.01,882.07 L362.61,883.65 L363.21,885.23 L363.81,886.78 L364.41,888.29 L365.01,889.74 L365.61,891.10 L366.22,892.35 L366.82,893.47 L367.42,894.44 L368.02,895.26 L368.62,896.04 L369.22,896.80 L369.82,897.54 L370.42,898.24 L371.02,898.90 L371.62,899.52 L372.22,900.08 L372.82,900.57 L373.42,901.00 L374.02,901.35 L374.62,901.62 L375.23,901.80" fill="none" stroke="#eeb450" stroke-width="1.3"/>
<text x="319.65" y="918.29" font-size="8.4" text-anchor="middle" fill="#4d4d4d" stroke="#4d4d4d" stroke-width="0.08">-1</text>
<text x="352.15" y="918.29" font-size="8.4" text-anchor="middle" fill="#4d4d4d" stroke="#4d4d4d" stroke-width="0.08">0</text>
<text x="384.65" y="918.29" font-size="8.4" text-anchor="middle" fill="#4d4d4d" stroke="#4d4d4d" stroke-width="0.08">1</text>
<text x="417.15" y="918.29" font-size="8.4" text-anchor="middle" fill="#4d4d4d" stroke="#4d4d4d" stroke-width="0.08">2</text>
<line x1="427.15" y1="888.55" x2="551.15" y2="888.55" stroke="#f2f2f2" stroke-width="0.6"/>
<line x1="427.15" y1="862.05" x2="551.15" y2="862.05" stroke="#f2f2f2" stroke-width="0.6"/>
<line x1="427.15" y1="835.55" x2="551.15" y2="835.55" stroke="#f2f2f2" stroke-width="0.6"/>
<line x1="427.15" y1="809.05" x2="551.15" y2="809.05" stroke="#f2f2f2" stroke-width="0.6"/>
<line x1="432.75" y1="789.50" x2="432.75" y2="906.80" stroke="#f2f2f2" stroke-width="0.6"/>
<line x1="465.25" y1="789.50" x2="465.25" y2="906.80" stroke="#f2f2f2" stroke-width="0.6"/>
<line x1="497.75" y1="789.50" x2="497.75" y2="906.80" stroke="#f2f2f2" stroke-width="0.6"/>
<line x1="530.25" y1="789.50" x2="530.25" y2="906.80" stroke="#f2f2f2" stroke-width="0.6"/>
<line x1="427.15" y1="901.80" x2="551.15" y2="901.80" stroke="#e6e6e6" stroke-width="1.0"/>
<line x1="427.15" y1="875.30" x2="551.15" y2="875.30" stroke="#e6e6e6" stroke-width="1.0"/>
<line x1="427.15" y1="848.80" x2="551.15" y2="848.80" stroke="#e6e6e6" stroke-width="1.0"/>
<line x1="427.15" y1="822.30" x2="551.15" y2="822.30" stroke="#e6e6e6" stroke-width="1.0"/>
<line x1="427.15" y1="795.80" x2="551.15" y2="795.80" stroke="#e6e6e6" stroke-width="1.0"/>
<line x1="449.00" y1="789.50" x2="449.00" y2="906.80" stroke="#e6e6e6" stroke-width="1.0"/>
<line x1="481.50" y1="789.50" x2="481.50" y2="906.80" stroke="#e6e6e6" stroke-width="1.0"/>
<line x1="514.00" y1="789.50" x2="514.00" y2="906.80" stroke="#e6e6e6" stroke-width="1.0"/>
<line x1="546.50" y1="789.50" x2="546.50" y2="906.80" stroke="#e6e6e6" stroke-width="1.0"/>
<text x="489.15" y="785.02" font-size="8.5" text-anchor="middle" fill="#1a1a1a" stroke="#1a1a1a" stroke-width="0.08">Interferon alpha response</text>
<path d="M441.52,901.80 L442.81,900.94 L444.09,900.03 L445.38,899.06 L446.66,898.03 L447.94,896.97 L449.23,895.85 L450.51,894.70 L451.79,893.51 L453.08,892.29 L454.36,891.04 L455.64,889.57 L456.93,887.87 L458.21,886.07 L459.49,884.31 L460.78,882.72 L462.06,881.43 L463.35,880.58 L464.63,879.98 L465.91,879.42 L467.20,878.89 L468.48,878.41 L469.76,877.98 L471.05,877.62 L472.33,877.32 L473.61,877.09 L474.90,876.95 L476.18,876.89 L477.46,876.89 L478.75,876.91 L480.03,876.93 L481.31,876.96 L482.60,877.00 L483.88,877.04 L485.17,877.09 L486.45,877.14 L487.73,877.19 L489.02,877.25 L490.30,877.31 L491.58,877.37 L492.87,877.44 L494.15,877.50 L495.43,877.56 L496.72,877.63 L498.00,877.72 L499.28,877.81 L500.57,877.91 L501.85,878.03 L503.14,878.17 L504.42,878.32 L505.70,878.50 L506.99,878.85 L508.27,879.43 L509.55,880.20 L510.84,881.13 L512.12,882.17 L513.40,883.28 L514.69,884.44 L515.97,885.59 L517.25,886.70 L518.54,887.74 L519.82,888.86 L521.10,890.10 L522.39,891.41 L523.67,892.74 L524.96,894.06 L526.24,895.31 L527.52,896.45 L528.81,897.45 L530.09,898.24 L531.37,898.81 L532.66,899.32 L533.94,899.81 L535.22,900.28 L536.51,900.70 L537.79,901.06 L539.07,901.37 L540.36,901.60 L541.64,901.75 L542.92,901.80 L542.92,901.80 L441.52,901.80 Z" fill="rgba(220,35,40,0.4)" stroke="none"/>
<path d="M441.52,901.80 L442.81,900.94 L444.09,900.03 L445.38,899.06 L446.66,898.03 L447.94,896.97 L449.23,895.85 L450.51,894.70 L451.79,893.51 L453.08,892.29 L454.36,891.04 L455.64,889.57 L456.93,887.87 L458.21,886.07 L459.49,884.31 L460.78,882.72 L462.06,881.43 L463.35,880.58 L464.63,879.98 L465.91,879.42 L467.20,878.89 L468.48,878.41 L469.76,877.98 L471.05,877.62 L472.33,877.32 L473.61,877.09 L474.90,876.95 L476.18,876.89 L477.46,876.89 L478.75,876.91 L480.03,876.93 L481.31,876.96 L482.60,877.00 L483.88,877.04 L485.17,877.09 L486.45,877.14 L487.73,877.19 L489.02,877.25 L490.30,877.31 L491.58,877.37 L492.87,877.44 L494.15,877.50 L495.43,877.56 L496.72,877.63 L498.00,877.72 L499.28,877.81 L500.57,877.91 L501.85,878.03 L503.14,878.17 L504.42,878.32 L505.70,878.50 L506.99,878.85 L508.27,879.43 L509.55,880.20 L510.84,881.13 L512.12,882.17 L513.40,883.28 L514.69,884.44 L515.97,885.59 L517.25,886.70 L518.54,887.74 L519.82,888.86 L521.10,890.10 L522.39,891.41 L523.67,892.74 L524.96,894.06 L526.24,895.31 L527.52,896.45 L528.81,897.45 L530.09,898.24 L531.37,898.81 L532.66,899.32 L533.94,899.81 L535.22,900.28 L536.51,900.70 L537.79,901.06 L539.07,901.37 L540.36,901.60 L541.64,901.75 L542.92,901.80" fill="none" stroke="#e42a2a" stroke-width="1.3"/>
<path d="M463.30,901.80 L463.97,899.08 L464.64,896.38 L465.31,893.71 L465.98,891.06 L466.65,888.45 L467.32,885.86 L467.99,883.29 L468.66,880.76 L469.34,878.25 L470.01,875.78 L470.68,873.33 L471.35,870.91 L472.02,868.50 L472.69,865.93 L473.36,863.21 L474.03,860.40 L474.70,857.58 L475.37,854.81 L476.04,852.15 L476.71,849.68 L477.38,847.45 L478.05,845.54 L478.72,844.00 L479.39,842.91 L480.06,842.31 L480.73,841.87 L481.41,841.47 L482.08,841.12 L482.75,840.82 L483.42,840.58 L484.09,840.42 L484.76,840.33 L485.43,840.46 L486.10,841.41 L486.77,843.11 L487.44,845.36 L488.11,847.99 L488.78,850.80 L489.45,853.61 L490.12,856.24 L490.79,858.49 L491.46,860.39 L492.13,862.26 L492.81,864.12 L493.48,865.94 L494.15,867.73 L494.82,869.47 L495.49,871.14 L496.16,872.75 L496.83,874.28 L497.50,875.73 L498.17,877.07 L498.84,878.35 L499.51,879.58 L500.18,880.77 L500.85,881.91 L501.52,883.01 L502.19,884.08 L502.86,885.11 L503.53,886.12 L504.20,887.09 L504.88,888.05 L505.55,888.99 L506.22,889.91 L506.89,890.81 L507.56,891.71 L508.23,892.59 L508.90,893.46 L509.57,894.31 L510.24,895.14 L510.91,895.96 L511.58,896.76 L512.25,897.54 L512.92,898.30 L513.59,899.04 L514.26,899.77 L514.93,900.47 L515.60,901.14 L516.27,901.80 L516.27,901.80 L463.30,901.80 Z" fill="rgba(230,118,205,0.4)" stroke="none"/>
<path d="M463.30,901.80 L463.97,899.08 L464.64,896.38 L465.31,893.71 L465.98,891.06 L466.65,888.45 L467.32,885.86 L467.99,883.29 L468.66,880.76 L469.34,878.25 L470.01,875.78 L470.68,873.33 L471.35,870.91 L472.02,868.50 L472.69,865.93 L473.36,863.21 L474.03,860.40 L474.70,857.58 L475.37,854.81 L476.04,852.15 L476.71,849.68 L477.38,847.45 L478.05,845.54 L478.72,844.00 L479.39,842.91 L480.06,842.31 L480.73,841.87 L481.41,841.47 L482.08,841.12 L482.75,840.82 L483.42,840.58 L484.09,840.42 L484.76,840.33 L485.43,840.46 L486.10,841.41 L486.77,843.11 L487.44,845.36 L488.11,847.99 L488.78,850.80 L489.45,853.61 L490.12,856.24 L490.79,858.49 L491.46,860.39 L492.13,862.26 L492.81,864.12 L493.48,865.94 L494.15,867.73 L494.82,869.47 L495.49,871.14 L496.16,872.75 L496.83,874.28 L497.50,875.73 L498.17,877.07 L498.84,878.35 L499.51,879.58 L500.18,880.77 L500.85,881.91 L501.52,883.01 L502.19,884.08 L502.86,885.11 L503.53,886.12 L504.20,887.09 L504.88,888.05 L505.55,888.99 L506.22,889.91 L506.89,890.81 L507.56,891.71 L508.23,892.59 L508.90,893.46 L509.57,894.31 L510.24,895.14 L510.91,895.96 L511.58,896.76 L512.25,897.54 L512.92,898.30 L513.59,899.04 L514.26,899.77 L514.93,900.47 L515.60,901.14 L516.27,901.80" fill="none" stroke="#e878d8" stroke-width="1.3"/>
<path d="M443.48,901.80 L444.35,901.63 L445.23,901.32 L446.10,900.88 L446.98,900.31 L447.86,899.63 L448.73,898.85 L449.61,897.98 L450.49,897.03 L451.36,896.01 L452.24,894.92 L453.11,893.79 L453.99,892.61 L454.87,891.41 L455.74,890.18 L456.62,888.90 L457.50,887.34 L458.37,885.52 L459.25,883.50 L460.12,881.33 L461.00,879.08 L461.88,876.80 L462.75,874.55 L463.63,872.35 L464.51,869.91 L465.38,867.22 L466.26,864.32 L467.13,861.27 L468.01,858.15 L468.89,855.00 L469.76,851.89 L470.64,848.88 L471.52,846.03 L472.39,843.39 L473.27,841.04 L474.14,839.03 L475.02,837.42 L475.90,836.27 L476.77,835.65 L477.65,835.66 L478.53,836.72 L479.40,838.72 L480.28,841.44 L481.15,844.67 L482.03,848.19 L482.91,851.77 L483.78,855.22 L484.66,858.30 L485.54,860.81 L486.41,863.02 L487.29,865.17 L488.16,867.26 L489.04,869.28 L489.92,871.24 L490.79,873.15 L491.67,875.00 L492.55,876.79 L493.42,878.53 L494.30,880.22 L495.17,881.89 L496.05,883.60 L496.93,885.34 L497.80,887.07 L498.68,888.77 L499.56,890.43 L500.43,892.02 L501.31,893.50 L502.18,894.88 L503.06,896.11 L503.94,897.17 L504.81,898.05 L505.69,898.71 L506.57,899.30 L507.44,899.86 L508.32,900.38 L509.19,900.84 L510.07,901.24 L510.95,901.54 L511.82,901.73 L512.70,901.80 L512.70,901.80 L443.48,901.80 Z" fill="rgba(40,40,165,0.4)" stroke="none"/>
<path d="M443.48,901.80 L444.35,901.63 L445.23,901.32 L446.10,900.88 L446.98,900.31 L447.86,899.63 L448.73,898.85 L449.61,897.98 L450.49,897.03 L451.36,896.01 L452.24,894.92 L453.11,893.79 L453.99,892.61 L454.87,891.41 L455.74,890.18 L456.62,888.90 L457.50,887.34 L458.37,885.52 L459.25,883.50 L460.12,881.33 L461.00,879.08 L461.88,876.80 L462.75,874.55 L463.63,872.35 L464.51,869.91 L465.38,867.22 L466.26,864.32 L467.13,861.27 L468.01,858.15 L468.89,855.00 L469.76,851.89 L470.64,848.88 L471.52,846.03 L472.39,843.39 L473.27,841.04 L474.14,839.03 L475.02,837.42 L475.90,836.27 L476.77,835.65 L477.65,835.66 L478.53,836.72 L479.40,838.72 L480.28,841.44 L481.15,844.67 L482.03,848.19 L482.91,851.77 L483.78,855.22 L484.66,858.30 L485.54,860.81 L486.41,863.02 L487.29,865.17 L488.16,867.26 L489.04,869.28 L489.92,871.24 L490.79,873.15 L491.67,875.00 L492.55,876.79 L493.42,878.53 L494.30,880.22 L495.17,881.89 L496.05,883.60 L496.93,885.34 L497.80,887.07 L498.68,888.77 L499.56,890.43 L500.43,892.02 L501.31,893.50 L502.18,894.88 L503.06,896.11 L503.94,897.17 L504.81,898.05 L505.69,898.71 L506.57,899.30 L507.44,899.86 L508.32,900.38 L509.19,900.84 L510.07,901.24 L510.95,901.54 L511.82,901.73 L512.70,901.80" fill="none" stroke="#1c1c96" stroke-width="1.3"/>
<path d="M454.20,901.80 L454.92,899.72 L455.63,897.49 L456.35,895.09 L457.06,892.56 L457.78,889.89 L458.49,887.10 L459.21,884.19 L459.93,881.17 L460.64,878.05 L461.36,874.84 L462.07,871.55 L462.79,868.19 L463.51,864.73 L464.22,860.57 L464.94,855.78 L465.65,850.69 L466.37,845.65 L467.08,841.00 L467.80,837.09 L468.52,834.24 L469.23,832.56 L469.95,831.10 L470.66,829.80 L471.38,828.75 L472.10,828.00 L472.81,827.63 L473.53,828.00 L474.24,829.90 L474.96,832.94 L475.67,836.67 L476.39,840.62 L477.11,844.35 L477.82,847.39 L478.54,849.78 L479.25,852.17 L479.97,854.54 L480.69,856.84 L481.40,859.05 L482.12,861.12 L482.83,863.02 L483.55,864.71 L484.26,866.17 L484.98,867.34 L485.70,868.21 L486.41,868.89 L487.13,869.45 L487.84,869.91 L488.56,870.32 L489.28,870.70 L489.99,871.10 L490.71,871.55 L491.42,872.08 L492.14,872.74 L492.85,873.57 L493.57,874.78 L494.29,876.31 L495.00,878.07 L495.72,879.97 L496.43,881.89 L497.15,883.75 L497.87,885.45 L498.58,886.98 L499.30,888.55 L500.01,890.13 L500.73,891.66 L501.44,893.12 L502.16,894.44 L502.88,895.58 L503.59,896.49 L504.31,897.27 L505.02,898.02 L505.74,898.75 L506.46,899.43 L507.17,900.05 L507.89,900.60 L508.60,901.06 L509.32,901.43 L510.03,901.68 L510.75,901.80 L510.75,901.80 L454.20,901.80 Z" fill="rgba(230,182,97,0.4)" stroke="none"/>
<path d="M454.20,901.80 L454.92,899.72 L455.63,897.49 L456.35,895.09 L457.06,892.56 L457.78,889.89 L458.49,887.10 L459.21,884.19 L459.93,881.17 L460.64,878.05 L461.36,874.84 L462.07,871.55 L462.79,868.19 L463.51,864.73 L464.22,860.57 L464.94,855.78 L465.65,850.69 L466.37,845.65 L467.08,841.00 L467.80,837.09 L468.52,834.24 L469.23,832.56 L469.95,831.10 L470.66,829.80 L471.38,828.75 L472.10,828.00 L472.81,827.63 L473.53,828.00 L474.24,829.90 L474.96,832.94 L475.67,836.67 L476.39,840.62 L477.11,844.35 L477.82,847.39 L478.54,849.78 L479.25,852.17 L479.97,854.54 L480.69,856.84 L481.40,859.05 L482.12,861.12 L482.83,863.02 L483.55,864.71 L484.26,866.17 L484.98,867.34 L485.70,868.21 L486.41,868.89 L487.13,869.45 L487.84,869.91 L488.56,870.32 L489.28,870.70 L489.99,871.10 L490.71,871.55 L491.42,872.08 L492.14,872.74 L492.85,873.57 L493.57,874.78 L494.29,876.31 L495.00,878.07 L495.72,879.97 L496.43,881.89 L497.15,883.75 L497.87,885.45 L498.58,886.98 L499.30,888.55 L500.01,890.13 L500.73,891.66 L501.44,893.12 L502.16,894.44 L502.88,895.58 L503.59,896.49 L504.31,897.27 L505.02,898.02 L505.74,898.75 L506.46,899.43 L507.17,900.05 L507.89,900.60 L508.60,901.06 L509.32,901.43 L510.03,901.68 L510.75,901.80" fill="none" stroke="#eeb450" stroke-width="1.3"/>
<text x="449.00" y="918.29" font-size="8.4" text-anchor="middle" fill="#4d4d4d" stroke="#4d4d4d" stroke-width="0.08">-1</text>
<text x="481.50" y="918.29" font-size="8.4" text-anchor="middle" fill="#4d4d4d" stroke="#4d4d4d" stroke-width="0.08">0</text>
<text x="514.00" y="918.29" font-size="8.4" text-anchor="middle" fill="#4d4d4d" stroke="#4d4d4d" stroke-width="0.08">1</text>
<text x="546.50" y="918.29" font-size="8.4" text-anchor="middle" fill="#4d4d4d" stroke="#4d4d4d" stroke-width="0.08">2</text>
<line x1="556.50" y1="888.55" x2="680.50" y2="888.55" stroke="#f2f2f2" stroke-width="0.6"/>
<line x1="556.50" y1="862.05" x2="680.50" y2="862.05" stroke="#f2f2f2" stroke-width="0.6"/>
<line x1="556.50" y1="835.55" x2="680.50" y2="835.55" stroke="#f2f2f2" stroke-width="0.6"/>
<line x1="556.50" y1="809.05" x2="680.50" y2="809.05" stroke="#f2f2f2" stroke-width="0.6"/>
<line x1="562.10" y1="789.50" x2="562.10" y2="906.80" stroke="#f2f2f2" stroke-width="0.6"/>
<line x1="594.60" y1="789.50" x2="594.60" y2="906.80" stroke="#f2f2f2" stroke-width="0.6"/>
<line x1="627.10" y1="789.50" x2="627.10" y2="906.80" stroke="#f2f2f2" stroke-width="0.6"/>
<line x1="659.60" y1="789.50" x2="659.60" y2="906.80" stroke="#f2f2f2" stroke-width="0.6"/>
<line x1="556.50" y1="901.80" x2="680.50" y2="901.80" stroke="#e6e6e6" stroke-width="1.0"/>
<line x1="556.50" y1="875.30" x2="680.50" y2="875.30" stroke="#e6e6e6" stroke-width="1.0"/>
<line x1="556.50" y1="848.80" x2="680.50" y2="848.80" stroke="#e6e6e6" stroke-width="1.0"/>
<line x1="556.50" y1="822.30" x2="680.50" y2="822.30" stroke="#e6e6e6" stroke-width="1.0"/>
<line x1="556.50" y1="795.80" x2="680.50" y2="795.80" stroke="#e6e6e6" stroke-width="1.0"/>
<line x1="578.35" y1="789.50" x2="578.35" y2="906.80" stroke="#e6e6e6" stroke-width="1.0"/>
<line x1="610.85" y1="789.50" x2="610.85" y2="906.80" stroke="#e6e6e6" stroke-width="1.0"/>
<line x1="643.35" y1="789.50" x2="643.35" y2="906.80" stroke="#e6e6e6" stroke-width="1.0"/>
<line x1="675.85" y1="789.50" x2="675.85" y2="906.80" stroke="#e6e6e6" stroke-width="1.0"/>
<text x="618.50" y="785.02" font-size="8.5" text-anchor="middle" fill="#1a1a1a" stroke="#1a1a1a" stroke-width="0.08">Interferon gamma response</text>
<path d="M569.90,901.80 L571.18,901.02 L572.47,900.20 L573.75,899.35 L575.03,898.47 L576.32,897.57 L577.60,896.64 L578.88,895.68 L580.17,894.70 L581.45,893.69 L582.74,892.66 L584.02,891.53 L585.30,890.28 L586.59,888.96 L587.87,887.59 L589.15,886.21 L590.44,884.87 L591.72,883.61 L593.00,882.45 L594.29,881.43 L595.57,880.60 L596.85,879.89 L598.14,879.22 L599.42,878.58 L600.71,877.98 L601.99,877.41 L603.27,876.89 L604.56,876.40 L605.84,875.95 L607.12,875.55 L608.41,875.19 L609.69,874.88 L610.97,874.62 L612.26,874.39 L613.54,874.21 L614.82,874.04 L616.11,873.88 L617.39,873.73 L618.67,873.55 L619.96,873.35 L621.24,873.12 L622.53,872.79 L623.81,872.38 L625.09,871.91 L626.38,871.42 L627.66,870.92 L628.94,870.46 L630.23,870.05 L631.51,869.74 L632.79,869.53 L634.08,869.47 L635.36,869.79 L636.64,870.53 L637.93,871.59 L639.21,872.86 L640.49,874.25 L641.78,875.64 L643.06,876.92 L644.35,878.21 L645.63,879.63 L646.91,881.15 L648.20,882.72 L649.48,884.32 L650.76,885.91 L652.05,887.44 L653.33,888.88 L654.61,890.21 L655.90,891.37 L657.18,892.45 L658.46,893.51 L659.75,894.53 L661.03,895.53 L662.32,896.48 L663.60,897.40 L664.88,898.26 L666.17,899.08 L667.45,899.85 L668.73,900.56 L670.02,901.21 L671.30,901.80 L671.30,901.80 L569.90,901.80 Z" fill="rgba(220,35,40,0.4)" stroke="none"/>
<path d="M569.90,901.80 L571.18,901.02 L572.47,900.20 L573.75,899.35 L575.03,898.47 L576.32,897.57 L577.60,896.64 L578.88,895.68 L580.17,894.70 L581.45,893.69 L582.74,892.66 L584.02,891.53 L585.30,890.28 L586.59,888.96 L587.87,887.59 L589.15,886.21 L590.44,884.87 L591.72,883.61 L593.00,882.45 L594.29,881.43 L595.57,880.60 L596.85,879.89 L598.14,879.22 L599.42,878.58 L600.71,877.98 L601.99,877.41 L603.27,876.89 L604.56,876.40 L605.84,875.95 L607.12,875.55 L608.41,875.19 L609.69,874.88 L610.97,874.62 L612.26,874.39 L613.54,874.21 L614.82,874.04 L616.11,873.88 L617.39,873.73 L618.67,873.55 L619.96,873.35 L621.24,873.12 L622.53,872.79 L623.81,872.38 L625.09,871.91 L626.38,871.42 L627.66,870.92 L628.94,870.46 L630.23,870.05 L631.51,869.74 L632.79,869.53 L634.08,869.47 L635.36,869.79 L636.64,870.53 L637.93,871.59 L639.21,872.86 L640.49,874.25 L641.78,875.64 L643.06,876.92 L644.35,878.21 L645.63,879.63 L646.91,881.15 L648.20,882.72 L649.48,884.32 L650.76,885.91 L652.05,887.44 L653.33,888.88 L654.61,890.21 L655.90,891.37 L657.18,892.45 L658.46,893.51 L659.75,894.53 L661.03,895.53 L662.32,896.48 L663.60,897.40 L664.88,898.26 L666.17,899.08 L667.45,899.85 L668.73,900.56 L670.02,901.21 L671.30,901.80" fill="none" stroke="#e42a2a" stroke-width="1.3"/>
<path d="M590.05,901.80 L590.74,898.68 L591.43,895.61 L592.12,892.58 L592.81,889.59 L593.51,886.64 L594.20,883.73 L594.89,880.87 L595.58,878.05 L596.27,875.27 L596.96,872.54 L597.65,869.85 L598.34,867.20 L599.03,864.60 L599.73,861.97 L600.42,859.20 L601.11,856.36 L601.80,853.51 L602.49,850.71 L603.18,848.04 L603.87,845.55 L604.56,843.31 L605.26,841.38 L605.95,839.82 L606.64,838.71 L607.33,837.85 L608.02,837.03 L608.71,836.28 L609.40,835.63 L610.09,835.10 L610.78,834.72 L611.48,834.52 L612.17,834.56 L612.86,835.11 L613.55,836.13 L614.24,837.54 L614.93,839.28 L615.62,841.26 L616.31,843.40 L617.00,845.63 L617.70,847.88 L618.39,850.05 L619.08,852.55 L619.77,855.57 L620.46,858.94 L621.15,862.52 L621.84,866.14 L622.53,869.65 L623.22,872.89 L623.92,875.70 L624.61,877.93 L625.30,879.58 L625.99,881.10 L626.68,882.52 L627.37,883.86 L628.06,885.12 L628.75,886.30 L629.44,887.40 L630.14,888.45 L630.83,889.43 L631.52,890.35 L632.21,891.23 L632.90,892.06 L633.59,892.84 L634.28,893.60 L634.97,894.32 L635.67,895.03 L636.36,895.71 L637.05,896.38 L637.74,897.02 L638.43,897.64 L639.12,898.24 L639.81,898.81 L640.50,899.35 L641.19,899.86 L641.89,900.33 L642.58,900.76 L643.27,901.15 L643.96,901.50 L644.65,901.80 L644.65,901.80 L590.05,901.80 Z" fill="rgba(230,118,205,0.4)" stroke="none"/>
<path d="M590.05,901.80 L590.74,898.68 L591.43,895.61 L592.12,892.58 L592.81,889.59 L593.51,886.64 L594.20,883.73 L594.89,880.87 L595.58,878.05 L596.27,875.27 L596.96,872.54 L597.65,869.85 L598.34,867.20 L599.03,864.60 L599.73,861.97 L600.42,859.20 L601.11,856.36 L601.80,853.51 L602.49,850.71 L603.18,848.04 L603.87,845.55 L604.56,843.31 L605.26,841.38 L605.95,839.82 L606.64,838.71 L607.33,837.85 L608.02,837.03 L608.71,836.28 L609.40,835.63 L610.09,835.10 L610.78,834.72 L611.48,834.52 L612.17,834.56 L612.86,835.11 L613.55,836.13 L614.24,837.54 L614.93,839.28 L615.62,841.26 L616.31,843.40 L617.00,845.63 L617.70,847.88 L618.39,850.05 L619.08,852.55 L619.77,855.57 L620.46,858.94 L621.15,862.52 L621.84,866.14 L622.53,869.65 L623.22,872.89 L623.92,875.70 L624.61,877.93 L625.30,879.58 L625.99,881.10 L626.68,882.52 L627.37,883.86 L628.06,885.12 L628.75,886.30 L629.44,887.40 L630.14,888.45 L630.83,889.43 L631.52,890.35 L632.21,891.23 L632.90,892.06 L633.59,892.84 L634.28,893.60 L634.97,894.32 L635.67,895.03 L636.36,895.71 L637.05,896.38 L637.74,897.02 L638.43,897.64 L639.12,898.24 L639.81,898.81 L640.50,899.35 L641.19,899.86 L641.89,900.33 L642.58,900.76 L643.27,901.15 L643.96,901.50 L644.65,901.80" fill="none" stroke="#e878d8" stroke-width="1.3"/>
<path d="M573.48,901.80 L574.29,901.74 L575.10,901.55 L575.91,901.24 L576.72,900.83 L577.53,900.31 L578.34,899.69 L579.15,898.98 L579.96,898.19 L580.77,897.32 L581.58,896.38 L582.39,895.38 L583.20,894.32 L584.01,893.22 L584.82,892.06 L585.63,890.88 L586.44,889.66 L587.25,888.18 L588.06,886.22 L588.87,883.84 L589.68,881.14 L590.49,878.18 L591.30,875.05 L592.12,871.83 L592.93,868.59 L593.74,865.42 L594.55,862.39 L595.36,859.58 L596.17,856.88 L596.98,853.90 L597.79,850.72 L598.60,847.46 L599.41,844.21 L600.22,841.10 L601.03,838.24 L601.84,835.72 L602.65,833.68 L603.46,832.20 L604.27,831.41 L605.08,831.44 L605.89,832.39 L606.70,834.12 L607.51,836.44 L608.32,839.18 L609.13,842.16 L609.94,845.19 L610.76,848.10 L611.57,850.71 L612.38,852.97 L613.19,855.21 L614.00,857.45 L614.81,859.69 L615.62,861.90 L616.43,864.10 L617.24,866.27 L618.05,868.40 L618.86,870.48 L619.67,872.53 L620.48,874.62 L621.29,876.76 L622.10,878.91 L622.91,881.05 L623.72,883.14 L624.53,885.15 L625.34,887.06 L626.15,888.83 L626.96,890.44 L627.77,891.85 L628.59,893.05 L629.40,894.16 L630.21,895.23 L631.02,896.27 L631.83,897.25 L632.64,898.17 L633.45,899.02 L634.26,899.79 L635.07,900.46 L635.88,901.02 L636.69,901.47 L637.50,901.80 L637.50,901.80 L573.48,901.80 Z" fill="rgba(40,40,165,0.4)" stroke="none"/>
<path d="M573.48,901.80 L574.29,901.74 L575.10,901.55 L575.91,901.24 L576.72,900.83 L577.53,900.31 L578.34,899.69 L579.15,898.98 L579.96,898.19 L580.77,897.32 L581.58,896.38 L582.39,895.38 L583.20,894.32 L584.01,893.22 L584.82,892.06 L585.63,890.88 L586.44,889.66 L587.25,888.18 L588.06,886.22 L588.87,883.84 L589.68,881.14 L590.49,878.18 L591.30,875.05 L592.12,871.83 L592.93,868.59 L593.74,865.42 L594.55,862.39 L595.36,859.58 L596.17,856.88 L596.98,853.90 L597.79,850.72 L598.60,847.46 L599.41,844.21 L600.22,841.10 L601.03,838.24 L601.84,835.72 L602.65,833.68 L603.46,832.20 L604.27,831.41 L605.08,831.44 L605.89,832.39 L606.70,834.12 L607.51,836.44 L608.32,839.18 L609.13,842.16 L609.94,845.19 L610.76,848.10 L611.57,850.71 L612.38,852.97 L613.19,855.21 L614.00,857.45 L614.81,859.69 L615.62,861.90 L616.43,864.10 L617.24,866.27 L618.05,868.40 L618.86,870.48 L619.67,872.53 L620.48,874.62 L621.29,876.76 L622.10,878.91 L622.91,881.05 L623.72,883.14 L624.53,885.15 L625.34,887.06 L626.15,888.83 L626.96,890.44 L627.77,891.85 L628.59,893.05 L629.40,894.16 L630.21,895.23 L631.02,896.27 L631.83,897.25 L632.64,898.17 L633.45,899.02 L634.26,899.79 L635.07,900.46 L635.88,901.02 L636.69,901.47 L637.50,901.80" fill="none" stroke="#1c1c96" stroke-width="1.3"/>
<path d="M582.58,901.80 L583.25,900.71 L583.92,899.43 L584.59,897.97 L585.26,896.35 L585.93,894.56 L586.60,892.63 L587.27,890.57 L587.94,888.38 L588.61,886.09 L589.28,883.69 L589.95,881.20 L590.62,878.64 L591.29,876.01 L591.96,873.33 L592.63,870.39 L593.30,867.00 L593.97,863.25 L594.65,859.23 L595.32,855.02 L595.99,850.71 L596.66,846.40 L597.33,842.18 L598.00,838.13 L598.67,834.34 L599.34,830.87 L600.01,827.06 L600.68,823.06 L601.35,819.33 L602.02,816.36 L602.69,814.62 L603.36,814.49 L604.03,815.60 L604.70,817.67 L605.37,820.45 L606.04,823.71 L606.72,827.23 L607.39,830.78 L608.06,834.12 L608.73,837.33 L609.40,840.97 L610.07,844.93 L610.74,849.02 L611.41,853.05 L612.08,856.85 L612.75,860.22 L613.42,863.01 L614.09,865.08 L614.76,866.85 L615.43,868.44 L616.10,869.87 L616.77,871.17 L617.44,872.39 L618.12,873.54 L618.79,874.67 L619.46,875.81 L620.13,876.99 L620.80,878.23 L621.47,879.55 L622.14,880.91 L622.81,882.27 L623.48,883.65 L624.15,885.01 L624.82,886.36 L625.49,887.68 L626.16,888.96 L626.83,890.19 L627.50,891.35 L628.17,892.44 L628.84,893.46 L629.51,894.45 L630.19,895.41 L630.86,896.33 L631.53,897.23 L632.20,898.09 L632.87,898.92 L633.54,899.70 L634.21,900.45 L634.88,901.15 L635.55,901.80 L635.55,901.80 L582.58,901.80 Z" fill="rgba(230,182,97,0.4)" stroke="none"/>
<path d="M582.58,901.80 L583.25,900.71 L583.92,899.43 L584.59,897.97 L585.26,896.35 L585.93,894.56 L586.60,892.63 L587.27,890.57 L587.94,888.38 L588.61,886.09 L589.28,883.69 L589.95,881.20 L590.62,878.64 L591.29,876.01 L591.96,873.33 L592.63,870.39 L593.30,867.00 L593.97,863.25 L594.65,859.23 L595.32,855.02 L595.99,850.71 L596.66,846.40 L597.33,842.18 L598.00,838.13 L598.67,834.34 L599.34,830.87 L600.01,827.06 L600.68,823.06 L601.35,819.33 L602.02,816.36 L602.69,814.62 L603.36,814.49 L604.03,815.60 L604.70,817.67 L605.37,820.45 L606.04,823.71 L606.72,827.23 L607.39,830.78 L608.06,834.12 L608.73,837.33 L609.40,840.97 L610.07,844.93 L610.74,849.02 L611.41,853.05 L612.08,856.85 L612.75,860.22 L613.42,863.01 L614.09,865.08 L614.76,866.85 L615.43,868.44 L616.10,869.87 L616.77,871.17 L617.44,872.39 L618.12,873.54 L618.79,874.67 L619.46,875.81 L620.13,876.99 L620.80,878.23 L621.47,879.55 L622.14,880.91 L622.81,882.27 L623.48,883.65 L624.15,885.01 L624.82,886.36 L625.49,887.68 L626.16,888.96 L626.83,890.19 L627.50,891.35 L628.17,892.44 L628.84,893.46 L629.51,894.45 L630.19,895.41 L630.86,896.33 L631.53,897.23 L632.20,898.09 L632.87,898.92 L633.54,899.70 L634.21,900.45 L634.88,901.15 L635.55,901.80" fill="none" stroke="#eeb450" stroke-width="1.3"/>
<text x="578.35" y="918.29" font-size="8.4" text-anchor="middle" fill="#4d4d4d" stroke="#4d4d4d" stroke-width="0.08">-1</text>
<text x="610.85" y="918.29" font-size="8.4" text-anchor="middle" fill="#4d4d4d" stroke="#4d4d4d" stroke-width="0.08">0</text>
<text x="643.35" y="918.29" font-size="8.4" text-anchor="middle" fill="#4d4d4d" stroke="#4d4d4d" stroke-width="0.08">1</text>
<text x="675.85" y="918.29" font-size="8.4" text-anchor="middle" fill="#4d4d4d" stroke="#4d4d4d" stroke-width="0.08">2</text>
<text x="0" y="0" stroke="#000" stroke-width="0.08" font-size="9.8" text-anchor="middle" transform="translate(10.2 779.6) rotate(-90)">Density</text>
<text x="359.70" y="929.29" font-size="9.55" text-anchor="middle" fill="#000" stroke="#000" stroke-width="0.08">Mean Z-score of genes in the pathway</text>
<text x="230.60" y="947.95" font-size="8.0" text-anchor="start" fill="#000" stroke="#000" stroke-width="0.08">Group</text>
<rect x="257.90" y="940.2" width="11.6" height="11.6" rx="1" fill="rgba(40,40,165,0.4)" stroke="#1c1c96" stroke-width="1"/>
<text x="274.80" y="948.45" font-size="7.4" text-anchor="start" fill="#000" stroke="#000" stroke-width="0.032">S Baseline</text>
<rect x="314.90" y="940.2" width="11.6" height="11.6" rx="1" fill="rgba(220,35,40,0.4)" stroke="#e42a2a" stroke-width="1"/>
<text x="331.80" y="948.45" font-size="7.4" text-anchor="start" fill="#000" stroke="#000" stroke-width="0.032">R Baseline</text>
<rect x="372.60" y="940.2" width="11.6" height="11.6" rx="1" fill="rgba(230,182,97,0.4)" stroke="#eeb450" stroke-width="1"/>
<text x="389.50" y="948.45" font-size="7.4" text-anchor="start" fill="#000" stroke="#000" stroke-width="0.032">S C1D15</text>
<rect x="423.70" y="940.2" width="11.6" height="11.6" rx="1" fill="rgba(230,118,205,0.4)" stroke="#e878d8" stroke-width="1"/>
<text x="440.60" y="948.45" font-size="7.4" text-anchor="start" fill="#000" stroke="#000" stroke-width="0.032">R C1D15</text>
</svg></body></html>
